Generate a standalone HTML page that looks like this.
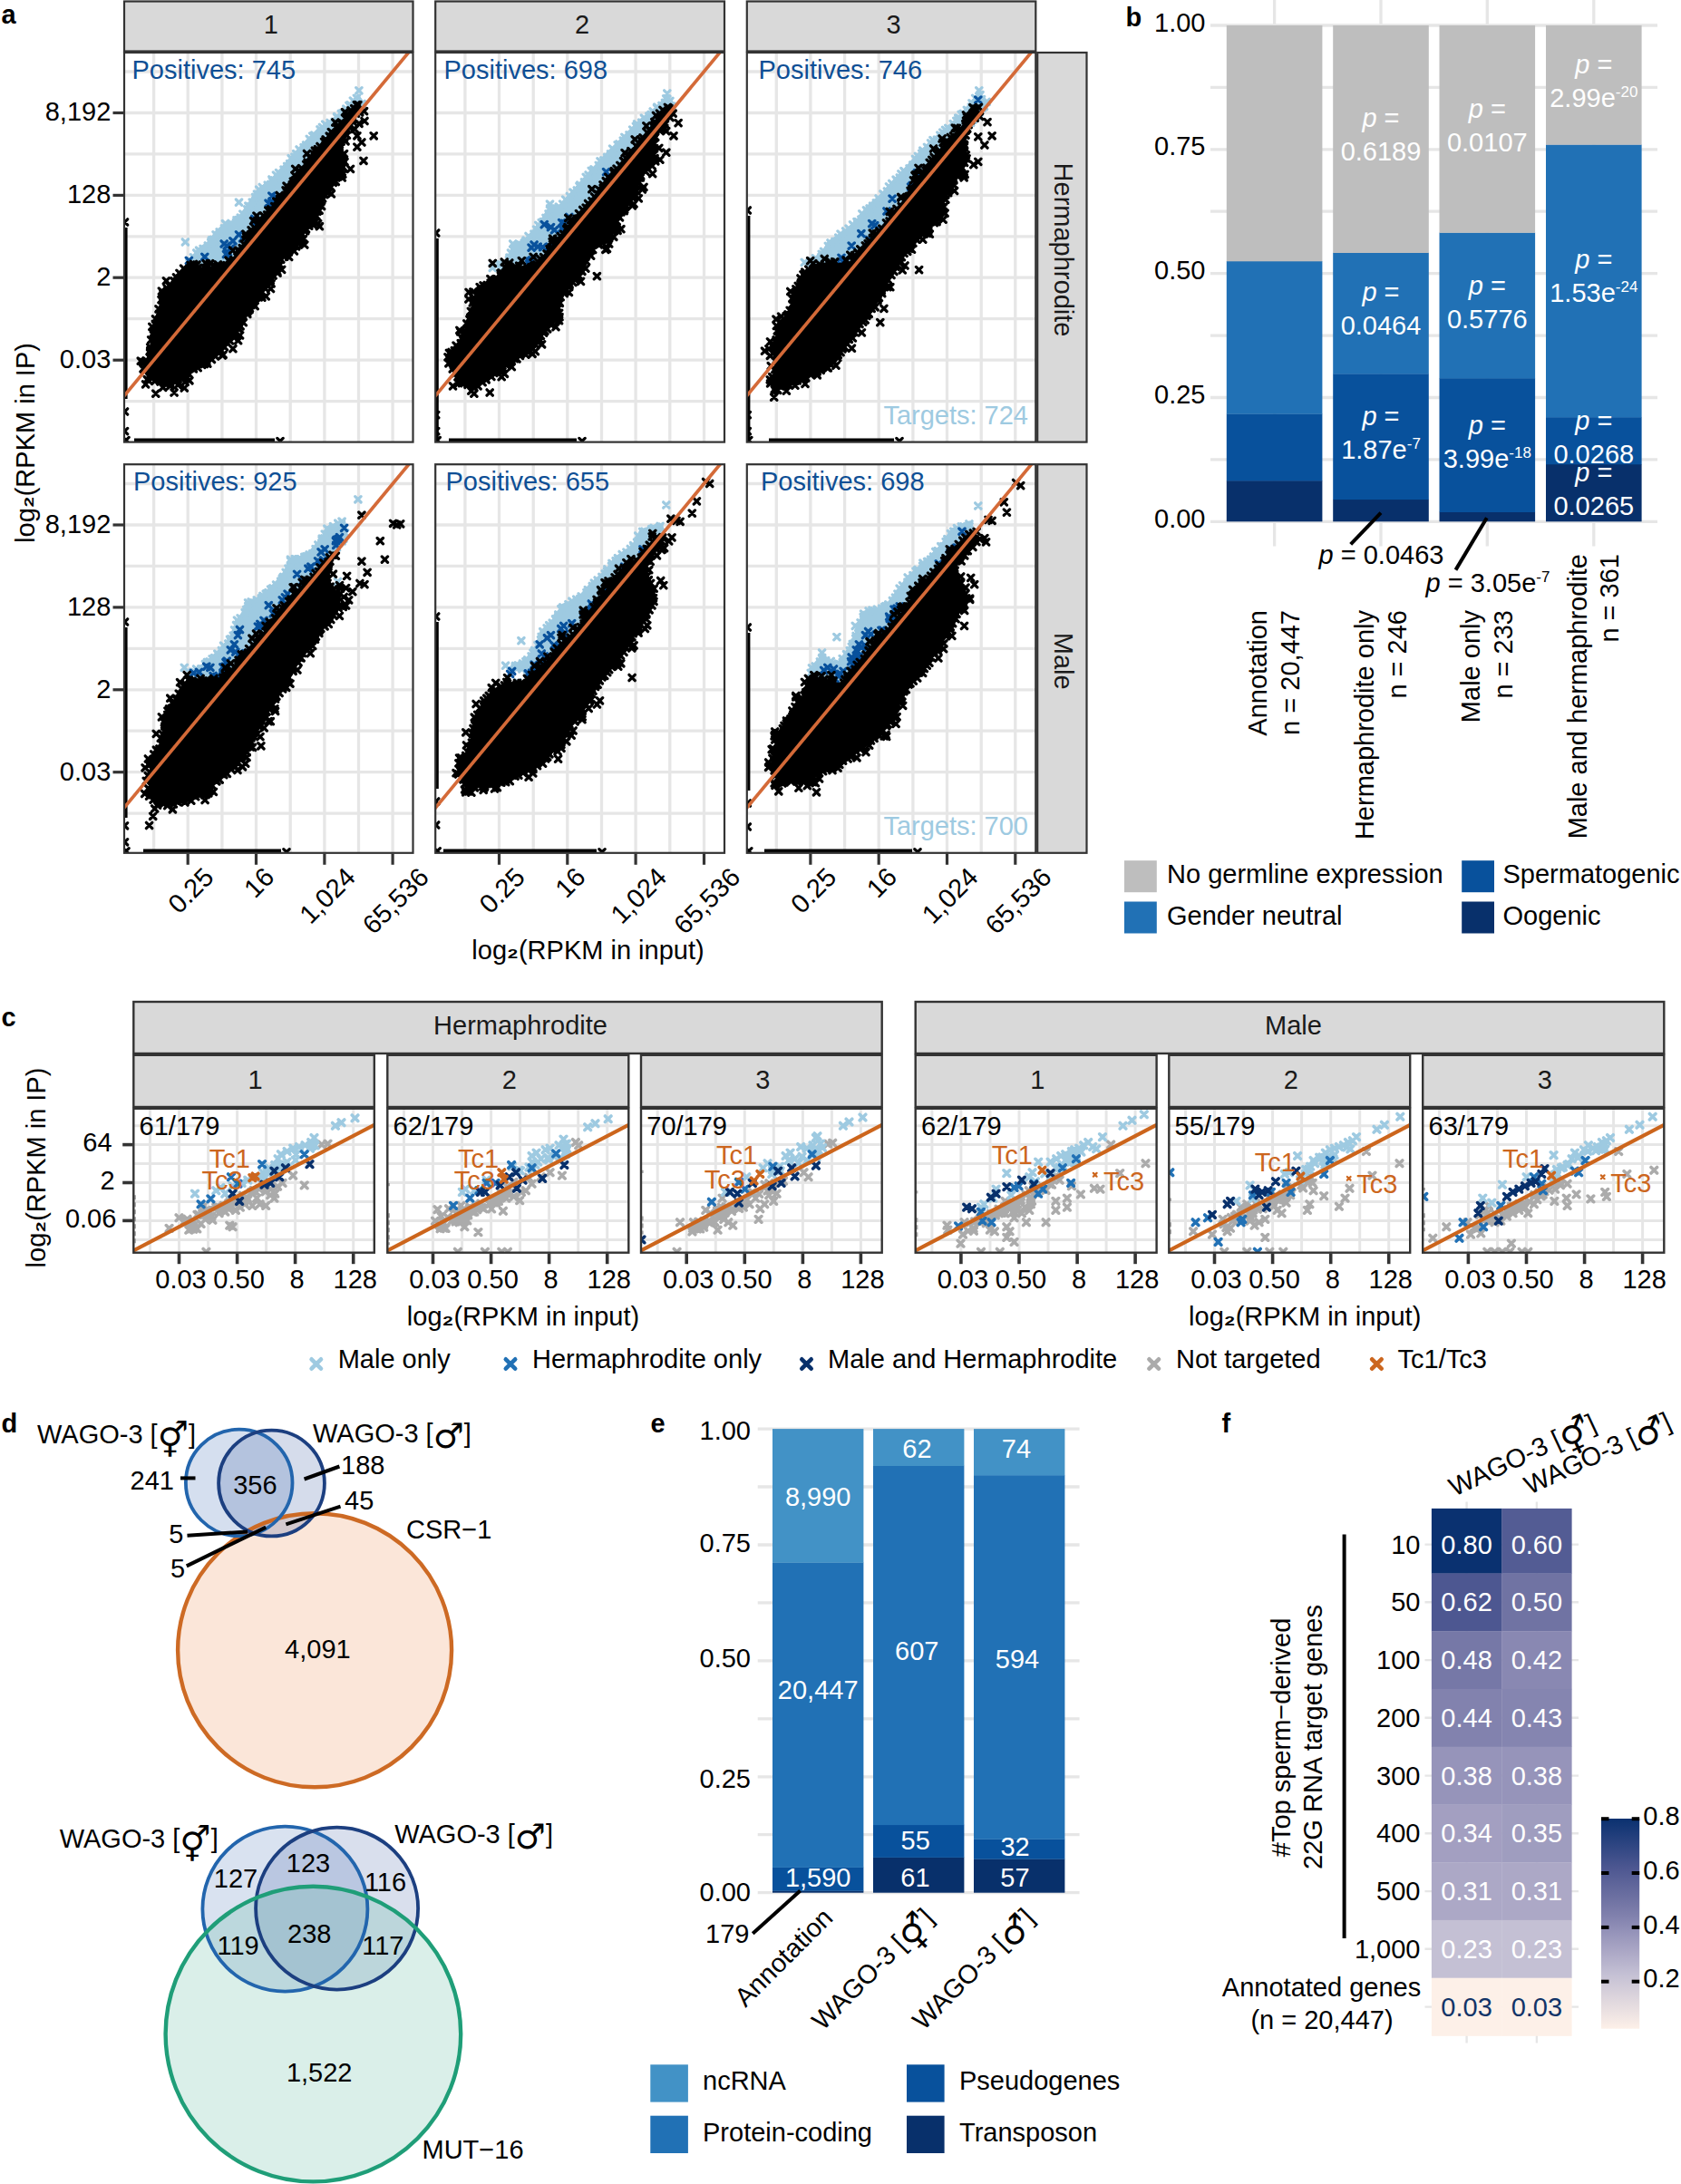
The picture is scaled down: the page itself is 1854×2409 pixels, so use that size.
<!DOCTYPE html><html><head><meta charset="utf-8"><title>Figure</title><style>html,body{margin:0;padding:0;background:#fff}svg{display:block}text{font-family:"Liberation Sans","DejaVu Sans",sans-serif;font-size:29px}</style></head><body><svg width="1854" height="2409" viewBox="0 0 1854 2409"><defs><clipPath id="ca00"><rect x="137" y="58" width="318.5" height="429.6"/></clipPath><clipPath id="ca01"><rect x="137" y="512.2" width="318.5" height="428.6"/></clipPath><clipPath id="ca10"><rect x="480.2" y="58" width="318.8" height="429.6"/></clipPath><clipPath id="ca11"><rect x="480.2" y="512.2" width="318.8" height="428.6"/></clipPath><clipPath id="ca20"><rect x="823.8" y="58" width="318.5" height="429.6"/></clipPath><clipPath id="ca21"><rect x="823.8" y="512.2" width="318.5" height="428.6"/></clipPath></defs><rect x="137" y="1.5" width="318.5" height="55" fill="#d9d9d9" stroke="#333" stroke-width="2.2"/><text x="298.8" y="36.5" text-anchor="middle" fill="#1a1a1a">1</text><rect x="480.2" y="1.5" width="318.8" height="55" fill="#d9d9d9" stroke="#333" stroke-width="2.2"/><text x="642.1" y="36.5" text-anchor="middle" fill="#1a1a1a">2</text><rect x="823.8" y="1.5" width="318.5" height="55" fill="#d9d9d9" stroke="#333" stroke-width="2.2"/><text x="985.5" y="36.5" text-anchor="middle" fill="#1a1a1a">3</text><rect x="1144.2" y="58" width="54.3" height="429.6" fill="#d9d9d9" stroke="#333" stroke-width="2.2"/><text transform="translate(1163 275.5) rotate(90)" text-anchor="middle" fill="#1a1a1a">Hermaphrodite</text><rect x="1144.2" y="512.2" width="54.3" height="428.6" fill="#d9d9d9" stroke="#333" stroke-width="2.2"/><text transform="translate(1163 729.2) rotate(90)" text-anchor="middle" fill="#1a1a1a">Male</text><g clip-path="url(#ca00)"><path d="M137 79H455.5M137 124.5H455.5M137 169.9H455.5M137 215.4H455.5M137 260.8H455.5M137 306.2H455.5M137 351.7H455.5M137 397.2H455.5M137 442.6H455.5" stroke="#e6e6e6" stroke-width="3.3" fill="none"/><path d="M169.6 58V487.6M207.2 58V487.6M244.9 58V487.6M282.5 58V487.6M320.2 58V487.6M357.9 58V487.6M395.5 58V487.6M433.1 58V487.6" stroke="#e6e6e6" stroke-width="3.3" fill="none"/><polygon points="205.4,291.4 217.6,274.1 231.9,263.9 235.9,255.8 248.2,245.6 260.4,241.5 272.6,225.2 280.8,211 299.1,196.7 313.4,180.4 331.7,160 350,141.7 370.4,127.4 384.7,115.2 394.9,103 403.3,115 252.2,297.4" fill="#9ecae1"/><path d="M206.9 284.8l6.4 6.4m0 -6.4l-6.4 6.4M212.5 285.1l6.4 6.4m0 -6.4l-6.4 6.4M216.6 286.6l6.4 6.4m0 -6.4l-6.4 6.4M219.5 287.6l6.4 6.4m0 -6.4l-6.4 6.4M223.9 288l6.4 6.4m0 -6.4l-6.4 6.4M228.5 287.5l6.4 6.4m0 -6.4l-6.4 6.4M234.1 290.4l6.4 6.4m0 -6.4l-6.4 6.4M237.6 289l6.4 6.4m0 -6.4l-6.4 6.4M243.7 291.9l6.4 6.4m0 -6.4l-6.4 6.4M248 290.7l6.4 6.4m0 -6.4l-6.4 6.4M252.2 286.1l6.4 6.4m0 -6.4l-6.4 6.4M254.7 283.3l6.4 6.4m0 -6.4l-6.4 6.4M255.3 279.3l6.4 6.4m0 -6.4l-6.4 6.4M258.8 278l6.4 6.4m0 -6.4l-6.4 6.4M261.3 273.7l6.4 6.4m0 -6.4l-6.4 6.4M265.7 269.5l6.4 6.4m0 -6.4l-6.4 6.4M268.3 265l6.4 6.4m0 -6.4l-6.4 6.4M269.6 262l6.4 6.4m0 -6.4l-6.4 6.4M274.5 259.2l6.4 6.4m0 -6.4l-6.4 6.4M276.3 256.1l6.4 6.4m0 -6.4l-6.4 6.4M279.6 251.7l6.4 6.4m0 -6.4l-6.4 6.4M283.7 249.5l6.4 6.4m0 -6.4l-6.4 6.4M284.8 245.6l6.4 6.4m0 -6.4l-6.4 6.4M288.6 243l6.4 6.4m0 -6.4l-6.4 6.4M292.2 237.6l6.4 6.4m0 -6.4l-6.4 6.4M295.9 233.5l6.4 6.4m0 -6.4l-6.4 6.4M297 232.1l6.4 6.4m0 -6.4l-6.4 6.4M299.1 227.7l6.4 6.4m0 -6.4l-6.4 6.4M301.6 224.7l6.4 6.4m0 -6.4l-6.4 6.4M306.9 220.9l6.4 6.4m0 -6.4l-6.4 6.4M310.1 216.6l6.4 6.4m0 -6.4l-6.4 6.4M312.5 214l6.4 6.4m0 -6.4l-6.4 6.4M315 210l6.4 6.4m0 -6.4l-6.4 6.4M318.8 208l6.4 6.4m0 -6.4l-6.4 6.4M320.5 203.6l6.4 6.4m0 -6.4l-6.4 6.4M322.1 200.2l6.4 6.4m0 -6.4l-6.4 6.4M326.9 197.6l6.4 6.4m0 -6.4l-6.4 6.4M330.4 191.9l6.4 6.4m0 -6.4l-6.4 6.4M331.9 189.6l6.4 6.4m0 -6.4l-6.4 6.4M333.6 185.4l6.4 6.4m0 -6.4l-6.4 6.4M337 180.8l6.4 6.4m0 -6.4l-6.4 6.4M339.6 179.3l6.4 6.4m0 -6.4l-6.4 6.4M342.7 174.1l6.4 6.4m0 -6.4l-6.4 6.4M346.5 172.6l6.4 6.4m0 -6.4l-6.4 6.4M348.4 167.8l6.4 6.4m0 -6.4l-6.4 6.4M352.8 165.6l6.4 6.4m0 -6.4l-6.4 6.4M356.6 162l6.4 6.4m0 -6.4l-6.4 6.4M357.8 157.1l6.4 6.4m0 -6.4l-6.4 6.4M360.9 155.1l6.4 6.4m0 -6.4l-6.4 6.4M365.8 149.2l6.4 6.4m0 -6.4l-6.4 6.4M366.2 146l6.4 6.4m0 -6.4l-6.4 6.4M369.3 143.2l6.4 6.4m0 -6.4l-6.4 6.4M373.3 139l6.4 6.4m0 -6.4l-6.4 6.4M374.4 136l6.4 6.4m0 -6.4l-6.4 6.4M378.5 133l6.4 6.4m0 -6.4l-6.4 6.4M383.3 129.8l6.4 6.4m0 -6.4l-6.4 6.4M384.8 126.1l6.4 6.4m0 -6.4l-6.4 6.4M388.2 120.8l6.4 6.4m0 -6.4l-6.4 6.4M391.8 119.6l6.4 6.4m0 -6.4l-6.4 6.4M394.7 116.1l6.4 6.4m0 -6.4l-6.4 6.4M396 111.3l6.4 6.4m0 -6.4l-6.4 6.4M390.2 105.1l6.4 6.4m0 -6.4l-6.4 6.4M386.2 107.9l6.4 6.4m0 -6.4l-6.4 6.4M382.9 112.8l6.4 6.4m0 -6.4l-6.4 6.4M383.1 112.7l6.4 6.4m0 -6.4l-6.4 6.4M381.8 113.2l6.4 6.4m0 -6.4l-6.4 6.4M378.6 116.9l6.4 6.4m0 -6.4l-6.4 6.4M374.8 121.6l6.4 6.4m0 -6.4l-6.4 6.4M373.1 122.3l6.4 6.4m0 -6.4l-6.4 6.4M368.4 126l6.4 6.4m0 -6.4l-6.4 6.4M368.5 125.5l6.4 6.4m0 -6.4l-6.4 6.4M366 131.1l6.4 6.4m0 -6.4l-6.4 6.4M360.8 132.3l6.4 6.4m0 -6.4l-6.4 6.4M355.5 133.9l6.4 6.4m0 -6.4l-6.4 6.4M352.3 137.2l6.4 6.4m0 -6.4l-6.4 6.4M349.8 139.7l6.4 6.4m0 -6.4l-6.4 6.4M343.6 145.9l6.4 6.4m0 -6.4l-6.4 6.4M341.6 146.9l6.4 6.4m0 -6.4l-6.4 6.4M338.1 150.1l6.4 6.4m0 -6.4l-6.4 6.4M334.4 156.8l6.4 6.4m0 -6.4l-6.4 6.4M331.9 159.5l6.4 6.4m0 -6.4l-6.4 6.4M326.9 161.8l6.4 6.4m0 -6.4l-6.4 6.4M323.5 166.5l6.4 6.4m0 -6.4l-6.4 6.4M321.7 169.9l6.4 6.4m0 -6.4l-6.4 6.4M318 171.5l6.4 6.4m0 -6.4l-6.4 6.4M316.5 177.4l6.4 6.4m0 -6.4l-6.4 6.4M313.5 180.2l6.4 6.4m0 -6.4l-6.4 6.4M309.9 184l6.4 6.4m0 -6.4l-6.4 6.4M304.4 187.4l6.4 6.4m0 -6.4l-6.4 6.4M301.3 189.9l6.4 6.4m0 -6.4l-6.4 6.4M296.7 194.8l6.4 6.4m0 -6.4l-6.4 6.4M297.2 196.3l6.4 6.4m0 -6.4l-6.4 6.4M299.2 195.7l6.4 6.4m0 -6.4l-6.4 6.4M295.6 200.2l6.4 6.4m0 -6.4l-6.4 6.4M292.1 201l6.4 6.4m0 -6.4l-6.4 6.4M286.1 203.3l6.4 6.4m0 -6.4l-6.4 6.4M282.5 206l6.4 6.4m0 -6.4l-6.4 6.4M280.3 211l6.4 6.4m0 -6.4l-6.4 6.4M278.4 214.3l6.4 6.4m0 -6.4l-6.4 6.4M275.1 219.9l6.4 6.4m0 -6.4l-6.4 6.4M270.7 224l6.4 6.4m0 -6.4l-6.4 6.4M273.1 224.7l6.4 6.4m0 -6.4l-6.4 6.4M269.6 227.8l6.4 6.4m0 -6.4l-6.4 6.4M264.7 232.9l6.4 6.4m0 -6.4l-6.4 6.4M262.1 237l6.4 6.4m0 -6.4l-6.4 6.4M261.1 239.8l6.4 6.4m0 -6.4l-6.4 6.4M259.1 241.8l6.4 6.4m0 -6.4l-6.4 6.4M259.9 239.5l6.4 6.4m0 -6.4l-6.4 6.4M257.8 239.6l6.4 6.4m0 -6.4l-6.4 6.4M260 241.9l6.4 6.4m0 -6.4l-6.4 6.4M257.3 242.1l6.4 6.4m0 -6.4l-6.4 6.4M259.7 241.7l6.4 6.4m0 -6.4l-6.4 6.4M251.8 243.3l6.4 6.4m0 -6.4l-6.4 6.4M245.3 243.5l6.4 6.4m0 -6.4l-6.4 6.4M244.2 248.7l6.4 6.4m0 -6.4l-6.4 6.4M239 252.7l6.4 6.4m0 -6.4l-6.4 6.4M234.9 255.7l6.4 6.4m0 -6.4l-6.4 6.4M232.4 261.2l6.4 6.4m0 -6.4l-6.4 6.4M230.4 261.7l6.4 6.4m0 -6.4l-6.4 6.4M230.2 262.8l6.4 6.4m0 -6.4l-6.4 6.4M230.1 262.5l6.4 6.4m0 -6.4l-6.4 6.4M229.5 264.3l6.4 6.4m0 -6.4l-6.4 6.4M230 263l6.4 6.4m0 -6.4l-6.4 6.4M226.1 267.8l6.4 6.4m0 -6.4l-6.4 6.4M220.9 271.1l6.4 6.4m0 -6.4l-6.4 6.4M216.6 273.2l6.4 6.4m0 -6.4l-6.4 6.4M213.6 275.8l6.4 6.4m0 -6.4l-6.4 6.4M210.3 280.6l6.4 6.4m0 -6.4l-6.4 6.4M205.9 286.9l6.4 6.4m0 -6.4l-6.4 6.4M201.2 263.8l6.4 6.4m0 -6.4l-6.4 6.4M260.3 220l6.4 6.4m0 -6.4l-6.4 6.4M392.7 96.7l6.4 6.4m0 -6.4l-6.4 6.4M216.4 273l6.4 6.4m0 -6.4l-6.4 6.4M275.5 277l6.4 6.4m0 -6.4l-6.4 6.4M269.4 287.2l6.4 6.4m0 -6.4l-6.4 6.4" stroke="#9ecae1" stroke-width="3.2" stroke-linecap="round" fill="none"/><path d="M205.2 284.2l6.4 6.4m0 -6.4l-6.4 6.4M222.6 280.1l6.4 6.4m0 -6.4l-6.4 6.4M247 267.9l6.4 6.4m0 -6.4l-6.4 6.4M251.1 270.9l6.4 6.4m0 -6.4l-6.4 6.4M244 265.8l6.4 6.4m0 -6.4l-6.4 6.4M260.3 255.6l6.4 6.4m0 -6.4l-6.4 6.4M277.6 238.3l6.4 6.4m0 -6.4l-6.4 6.4M295.9 222l6.4 6.4m0 -6.4l-6.4 6.4M292.9 221l6.4 6.4m0 -6.4l-6.4 6.4M253.7 262.6l6.4 6.4m0 -6.4l-6.4 6.4M230.8 294.8l6.4 6.4m0 -6.4l-6.4 6.4M248.2 275l6.4 6.4m0 -6.4l-6.4 6.4M235.8 295.8l6.4 6.4m0 -6.4l-6.4 6.4M246.3 277.3l6.4 6.4m0 -6.4l-6.4 6.4M264.4 259.7l6.4 6.4m0 -6.4l-6.4 6.4M300.7 214.4l6.4 6.4m0 -6.4l-6.4 6.4M278.8 246.7l6.4 6.4m0 -6.4l-6.4 6.4M296.6 212.9l6.4 6.4m0 -6.4l-6.4 6.4" stroke="#08519c" stroke-width="3.2" stroke-linecap="round" fill="none"/><polygon points="156.7,408.3 162,415.3 171.6,423 182.9,424.9 196.5,421 210.4,413 224.6,402.9 224.7,402.9 242.8,390.8 258.8,372.7 270.8,354.7 274.8,342.8 274.9,342.6 275,342.4 275.1,342.2 289.4,323.8 303.3,305.9 305.3,292.2 305.3,292 305.4,291.8 305.4,291.6 305.5,291.5 305.6,291.3 305.8,291.1 305.9,291 306,290.9 324.1,276.8 338.2,254.7 338.3,254.5 338.4,254.4 338.6,254.3 350.2,244.5 352.2,233 352.2,232.9 352.3,232.7 352.3,232.5 362.5,212.1 362.6,211.9 362.7,211.7 378.8,191.7 382.5,178.6 374.8,165.1 374.7,164.9 374.6,164.7 374.6,164.5 374.5,164.3 374.5,164.1 374.5,163.9 374.6,163.7 374.6,163.5 374.7,163.3 374.8,163.1 384.9,144.9 398.5,115.8 393.2,111.9 376.1,134.7 375.9,135 355.6,155.2 341.4,173.5 341.4,173.5 325.2,193.8 308.9,218.2 308.8,218.3 308.7,218.5 292.4,234.7 274.3,256.9 264.2,277.1 264.1,277.2 264,277.4 263.9,277.6 263.7,277.7 245.4,293 245.2,293.1 245.1,293.2 244.9,293.3 244.7,293.3 244.6,293.4 244.4,293.4 244.2,293.4 202.1,295.4 192.6,304 180.7,321.9 175.7,335.9 167.6,360.1 164.6,386.4 164.5,386.6 164.5,386.9 156.7,408.3" fill="#000"/><path d="M156.4 405.1l6.4 6.4m0 -6.4l-6.4 6.4M161.3 411.6l6.4 6.4m0 -6.4l-6.4 6.4M165.2 413.7l6.4 6.4m0 -6.4l-6.4 6.4M167.5 417.1l6.4 6.4m0 -6.4l-6.4 6.4M173.8 417.8l6.4 6.4m0 -6.4l-6.4 6.4M180.7 420.3l6.4 6.4m0 -6.4l-6.4 6.4M184.4 419.2l6.4 6.4m0 -6.4l-6.4 6.4M188.9 417.5l6.4 6.4m0 -6.4l-6.4 6.4M190.9 417.3l6.4 6.4m0 -6.4l-6.4 6.4M198 413.7l6.4 6.4m0 -6.4l-6.4 6.4M201.9 411.6l6.4 6.4m0 -6.4l-6.4 6.4M204.9 409.3l6.4 6.4m0 -6.4l-6.4 6.4M210.2 403.7l6.4 6.4m0 -6.4l-6.4 6.4M215 402.5l6.4 6.4m0 -6.4l-6.4 6.4M219.5 399.2l6.4 6.4m0 -6.4l-6.4 6.4M222.2 398.3l6.4 6.4m0 -6.4l-6.4 6.4M224.7 395.3l6.4 6.4m0 -6.4l-6.4 6.4M230.2 393.3l6.4 6.4m0 -6.4l-6.4 6.4M234.4 389.8l6.4 6.4m0 -6.4l-6.4 6.4M237.1 385.2l6.4 6.4m0 -6.4l-6.4 6.4M240.8 383.6l6.4 6.4m0 -6.4l-6.4 6.4M244.2 379.5l6.4 6.4m0 -6.4l-6.4 6.4M246.4 374.2l6.4 6.4m0 -6.4l-6.4 6.4M250.4 372.7l6.4 6.4m0 -6.4l-6.4 6.4M255 369.2l6.4 6.4m0 -6.4l-6.4 6.4M256.6 364.2l6.4 6.4m0 -6.4l-6.4 6.4M260.1 359.6l6.4 6.4m0 -6.4l-6.4 6.4M261.9 356.6l6.4 6.4m0 -6.4l-6.4 6.4M265.1 352.5l6.4 6.4m0 -6.4l-6.4 6.4M269.6 343.3l6.4 6.4m0 -6.4l-6.4 6.4M269.9 340.1l6.4 6.4m0 -6.4l-6.4 6.4M271.8 338.5l6.4 6.4m0 -6.4l-6.4 6.4M269.6 337.3l6.4 6.4m0 -6.4l-6.4 6.4M272.2 337l6.4 6.4m0 -6.4l-6.4 6.4M273.8 333.1l6.4 6.4m0 -6.4l-6.4 6.4M276.4 332.2l6.4 6.4m0 -6.4l-6.4 6.4M278 328.1l6.4 6.4m0 -6.4l-6.4 6.4M282.1 324.6l6.4 6.4m0 -6.4l-6.4 6.4M285.6 318.7l6.4 6.4m0 -6.4l-6.4 6.4M289.7 315.2l6.4 6.4m0 -6.4l-6.4 6.4M290.1 309.2l6.4 6.4m0 -6.4l-6.4 6.4M295.1 306.3l6.4 6.4m0 -6.4l-6.4 6.4M297.9 300.8l6.4 6.4m0 -6.4l-6.4 6.4M299 294.8l6.4 6.4m0 -6.4l-6.4 6.4M301.7 287.1l6.4 6.4m0 -6.4l-6.4 6.4M301.4 289.6l6.4 6.4m0 -6.4l-6.4 6.4M299.4 289.5l6.4 6.4m0 -6.4l-6.4 6.4M301.5 289.1l6.4 6.4m0 -6.4l-6.4 6.4M300.2 287l6.4 6.4m0 -6.4l-6.4 6.4M300.8 288.9l6.4 6.4m0 -6.4l-6.4 6.4M301.7 286.4l6.4 6.4m0 -6.4l-6.4 6.4M301.3 285.9l6.4 6.4m0 -6.4l-6.4 6.4M300.3 285.1l6.4 6.4m0 -6.4l-6.4 6.4M306.6 282.9l6.4 6.4m0 -6.4l-6.4 6.4M310.5 280l6.4 6.4m0 -6.4l-6.4 6.4M311.8 278.1l6.4 6.4m0 -6.4l-6.4 6.4M315.1 274.9l6.4 6.4m0 -6.4l-6.4 6.4M321.2 273.8l6.4 6.4m0 -6.4l-6.4 6.4M323.5 268.6l6.4 6.4m0 -6.4l-6.4 6.4M326.7 265.3l6.4 6.4m0 -6.4l-6.4 6.4M328.2 260.2l6.4 6.4m0 -6.4l-6.4 6.4M329.3 255.8l6.4 6.4m0 -6.4l-6.4 6.4M333.5 251.5l6.4 6.4m0 -6.4l-6.4 6.4M334.3 249.6l6.4 6.4m0 -6.4l-6.4 6.4M332.6 251.5l6.4 6.4m0 -6.4l-6.4 6.4M333.1 249.7l6.4 6.4m0 -6.4l-6.4 6.4M337.6 246l6.4 6.4m0 -6.4l-6.4 6.4M342.6 245.2l6.4 6.4m0 -6.4l-6.4 6.4M344.7 241l6.4 6.4m0 -6.4l-6.4 6.4M345.8 235.2l6.4 6.4m0 -6.4l-6.4 6.4M347 228.5l6.4 6.4m0 -6.4l-6.4 6.4M346.3 228.2l6.4 6.4m0 -6.4l-6.4 6.4M348.9 228.9l6.4 6.4m0 -6.4l-6.4 6.4M346.8 229.9l6.4 6.4m0 -6.4l-6.4 6.4M351.4 224.3l6.4 6.4m0 -6.4l-6.4 6.4M350.6 219.4l6.4 6.4m0 -6.4l-6.4 6.4M352.4 215.8l6.4 6.4m0 -6.4l-6.4 6.4M354.5 211.4l6.4 6.4m0 -6.4l-6.4 6.4M357.1 208.4l6.4 6.4m0 -6.4l-6.4 6.4M359.4 208.7l6.4 6.4m0 -6.4l-6.4 6.4M358 207.3l6.4 6.4m0 -6.4l-6.4 6.4M361.6 203.2l6.4 6.4m0 -6.4l-6.4 6.4M364.1 198.1l6.4 6.4m0 -6.4l-6.4 6.4M367.1 197.3l6.4 6.4m0 -6.4l-6.4 6.4M369.7 191.7l6.4 6.4m0 -6.4l-6.4 6.4M374.6 189l6.4 6.4m0 -6.4l-6.4 6.4M374.9 180.9l6.4 6.4m0 -6.4l-6.4 6.4M376.8 175.3l6.4 6.4m0 -6.4l-6.4 6.4M375 172.9l6.4 6.4m0 -6.4l-6.4 6.4M373.9 168.3l6.4 6.4m0 -6.4l-6.4 6.4M368.6 161.1l6.4 6.4m0 -6.4l-6.4 6.4M370.8 163.7l6.4 6.4m0 -6.4l-6.4 6.4M369.8 162.3l6.4 6.4m0 -6.4l-6.4 6.4M368.1 161.3l6.4 6.4m0 -6.4l-6.4 6.4M371.2 162.4l6.4 6.4m0 -6.4l-6.4 6.4M370.9 162.5l6.4 6.4m0 -6.4l-6.4 6.4M368.9 159.2l6.4 6.4m0 -6.4l-6.4 6.4M368.6 160.3l6.4 6.4m0 -6.4l-6.4 6.4M370.5 161.3l6.4 6.4m0 -6.4l-6.4 6.4M370.8 160l6.4 6.4m0 -6.4l-6.4 6.4M371.1 159l6.4 6.4m0 -6.4l-6.4 6.4M372.9 153l6.4 6.4m0 -6.4l-6.4 6.4M376.2 149.1l6.4 6.4m0 -6.4l-6.4 6.4M379.2 146l6.4 6.4m0 -6.4l-6.4 6.4M379.6 139.7l6.4 6.4m0 -6.4l-6.4 6.4M381.6 136.8l6.4 6.4m0 -6.4l-6.4 6.4M385.3 130.3l6.4 6.4m0 -6.4l-6.4 6.4M385.3 127.1l6.4 6.4m0 -6.4l-6.4 6.4M389.2 122l6.4 6.4m0 -6.4l-6.4 6.4M390.2 118.1l6.4 6.4m0 -6.4l-6.4 6.4M391.6 112.5l6.4 6.4m0 -6.4l-6.4 6.4M390.2 112.5l6.4 6.4m0 -6.4l-6.4 6.4M387.6 116.5l6.4 6.4m0 -6.4l-6.4 6.4M383.8 118.7l6.4 6.4m0 -6.4l-6.4 6.4M379.8 125.4l6.4 6.4m0 -6.4l-6.4 6.4M378.1 127.5l6.4 6.4m0 -6.4l-6.4 6.4M372.6 132.5l6.4 6.4m0 -6.4l-6.4 6.4M374.4 132.6l6.4 6.4m0 -6.4l-6.4 6.4M369.6 136.8l6.4 6.4m0 -6.4l-6.4 6.4M368.6 138.7l6.4 6.4m0 -6.4l-6.4 6.4M362.2 142.4l6.4 6.4m0 -6.4l-6.4 6.4M360.1 147l6.4 6.4m0 -6.4l-6.4 6.4M356 150.7l6.4 6.4m0 -6.4l-6.4 6.4M354.4 153.1l6.4 6.4m0 -6.4l-6.4 6.4M349.8 158.3l6.4 6.4m0 -6.4l-6.4 6.4M347.3 161.5l6.4 6.4m0 -6.4l-6.4 6.4M344.2 163l6.4 6.4m0 -6.4l-6.4 6.4M343.2 166.9l6.4 6.4m0 -6.4l-6.4 6.4M341 171.2l6.4 6.4m0 -6.4l-6.4 6.4M338.4 170.4l6.4 6.4m0 -6.4l-6.4 6.4M336 175.9l6.4 6.4m0 -6.4l-6.4 6.4M334.5 178.2l6.4 6.4m0 -6.4l-6.4 6.4M329.4 182.5l6.4 6.4m0 -6.4l-6.4 6.4M328.1 186.3l6.4 6.4m0 -6.4l-6.4 6.4M321.7 190.1l6.4 6.4m0 -6.4l-6.4 6.4M320.2 197l6.4 6.4m0 -6.4l-6.4 6.4M319.2 200.4l6.4 6.4m0 -6.4l-6.4 6.4M316.9 205.2l6.4 6.4m0 -6.4l-6.4 6.4M311.9 206.7l6.4 6.4m0 -6.4l-6.4 6.4M311.2 212.7l6.4 6.4m0 -6.4l-6.4 6.4M305.5 216.4l6.4 6.4m0 -6.4l-6.4 6.4M306.4 215.7l6.4 6.4m0 -6.4l-6.4 6.4M306 215.3l6.4 6.4m0 -6.4l-6.4 6.4M301.7 218.9l6.4 6.4m0 -6.4l-6.4 6.4M299.6 224.4l6.4 6.4m0 -6.4l-6.4 6.4M295.6 227.7l6.4 6.4m0 -6.4l-6.4 6.4M292.7 228.9l6.4 6.4m0 -6.4l-6.4 6.4M291.5 233.7l6.4 6.4m0 -6.4l-6.4 6.4M287.2 234.7l6.4 6.4m0 -6.4l-6.4 6.4M284.4 239.5l6.4 6.4m0 -6.4l-6.4 6.4M282.9 242.5l6.4 6.4m0 -6.4l-6.4 6.4M278 248.6l6.4 6.4m0 -6.4l-6.4 6.4M273.9 250.6l6.4 6.4m0 -6.4l-6.4 6.4M273.5 255.5l6.4 6.4m0 -6.4l-6.4 6.4M268.4 258l6.4 6.4m0 -6.4l-6.4 6.4M266 266l6.4 6.4m0 -6.4l-6.4 6.4M264.1 270.4l6.4 6.4m0 -6.4l-6.4 6.4M263.8 274l6.4 6.4m0 -6.4l-6.4 6.4M261.5 276.5l6.4 6.4m0 -6.4l-6.4 6.4M262.5 274.4l6.4 6.4m0 -6.4l-6.4 6.4M262.6 274.9l6.4 6.4m0 -6.4l-6.4 6.4M260.8 274l6.4 6.4m0 -6.4l-6.4 6.4M258.7 280.2l6.4 6.4m0 -6.4l-6.4 6.4M254.7 283.3l6.4 6.4m0 -6.4l-6.4 6.4M248.9 284l6.4 6.4m0 -6.4l-6.4 6.4M246.8 289.5l6.4 6.4m0 -6.4l-6.4 6.4M244.7 290.6l6.4 6.4m0 -6.4l-6.4 6.4M242.1 291l6.4 6.4m0 -6.4l-6.4 6.4M242.6 292.8l6.4 6.4m0 -6.4l-6.4 6.4M241.3 292.6l6.4 6.4m0 -6.4l-6.4 6.4M242.9 292.8l6.4 6.4m0 -6.4l-6.4 6.4M242.7 292.1l6.4 6.4m0 -6.4l-6.4 6.4M240.8 291.2l6.4 6.4m0 -6.4l-6.4 6.4M240.6 292.8l6.4 6.4m0 -6.4l-6.4 6.4M235 291l6.4 6.4m0 -6.4l-6.4 6.4M232.7 291.4l6.4 6.4m0 -6.4l-6.4 6.4M225.8 290.9l6.4 6.4m0 -6.4l-6.4 6.4M222.8 292.1l6.4 6.4m0 -6.4l-6.4 6.4M219.6 294.2l6.4 6.4m0 -6.4l-6.4 6.4M215.1 292.4l6.4 6.4m0 -6.4l-6.4 6.4M207.4 292l6.4 6.4m0 -6.4l-6.4 6.4M204.2 294.3l6.4 6.4m0 -6.4l-6.4 6.4M199.4 292.9l6.4 6.4m0 -6.4l-6.4 6.4M194.8 298.2l6.4 6.4m0 -6.4l-6.4 6.4M191.3 302.7l6.4 6.4m0 -6.4l-6.4 6.4M188.9 306.8l6.4 6.4m0 -6.4l-6.4 6.4M183.5 311.8l6.4 6.4m0 -6.4l-6.4 6.4M181.2 315.2l6.4 6.4m0 -6.4l-6.4 6.4M178.5 320.2l6.4 6.4m0 -6.4l-6.4 6.4M176.3 323.2l6.4 6.4m0 -6.4l-6.4 6.4M174.8 327.4l6.4 6.4m0 -6.4l-6.4 6.4M175.3 333.5l6.4 6.4m0 -6.4l-6.4 6.4M171.8 337.7l6.4 6.4m0 -6.4l-6.4 6.4M172.5 342.9l6.4 6.4m0 -6.4l-6.4 6.4M168.3 348.7l6.4 6.4m0 -6.4l-6.4 6.4M168.1 354.1l6.4 6.4m0 -6.4l-6.4 6.4M164.6 357.2l6.4 6.4m0 -6.4l-6.4 6.4M166.5 363.7l6.4 6.4m0 -6.4l-6.4 6.4M166.2 366.2l6.4 6.4m0 -6.4l-6.4 6.4M163.5 371.7l6.4 6.4m0 -6.4l-6.4 6.4M162.5 379.8l6.4 6.4m0 -6.4l-6.4 6.4M163.3 384.9l6.4 6.4m0 -6.4l-6.4 6.4M162.5 385.1l6.4 6.4m0 -6.4l-6.4 6.4M162.6 383.4l6.4 6.4m0 -6.4l-6.4 6.4M161.9 390.9l6.4 6.4m0 -6.4l-6.4 6.4M157.7 394.8l6.4 6.4m0 -6.4l-6.4 6.4M157.6 398.7l6.4 6.4m0 -6.4l-6.4 6.4M154.9 403.6l6.4 6.4m0 -6.4l-6.4 6.4M202.3 413.8l6.4 6.4m0 -6.4l-6.4 6.4M312.9 202l6.4 6.4m0 -6.4l-6.4 6.4M259.4 372.5l6.4 6.4m0 -6.4l-6.4 6.4M253.7 381.5l6.4 6.4m0 -6.4l-6.4 6.4M290.1 323.7l6.4 6.4m0 -6.4l-6.4 6.4M392.8 133.1l6.4 6.4m0 -6.4l-6.4 6.4M261.4 366.7l6.4 6.4m0 -6.4l-6.4 6.4M347.4 243.4l6.4 6.4m0 -6.4l-6.4 6.4M279.8 234.9l6.4 6.4m0 -6.4l-6.4 6.4M376.3 166.4l6.4 6.4m0 -6.4l-6.4 6.4M335.3 166.3l6.4 6.4m0 -6.4l-6.4 6.4M155.2 396.5l6.4 6.4m0 -6.4l-6.4 6.4M225.6 398l6.4 6.4m0 -6.4l-6.4 6.4M253.5 273l6.4 6.4m0 -6.4l-6.4 6.4M383.3 183.2l6.4 6.4m0 -6.4l-6.4 6.4M302.9 297.9l6.4 6.4m0 -6.4l-6.4 6.4M366.6 131.8l6.4 6.4m0 -6.4l-6.4 6.4M193 421.4l6.4 6.4m0 -6.4l-6.4 6.4M205.7 416.6l6.4 6.4m0 -6.4l-6.4 6.4M237.2 288.6l6.4 6.4m0 -6.4l-6.4 6.4M201 418.2l6.4 6.4m0 -6.4l-6.4 6.4M349.2 246.5l6.4 6.4m0 -6.4l-6.4 6.4M305.4 288.8l6.4 6.4m0 -6.4l-6.4 6.4M295.9 309.6l6.4 6.4m0 -6.4l-6.4 6.4M184.6 422.5l6.4 6.4m0 -6.4l-6.4 6.4M331 265.3l6.4 6.4m0 -6.4l-6.4 6.4M393.5 120.6l6.4 6.4m0 -6.4l-6.4 6.4M159.2 415.5l6.4 6.4m0 -6.4l-6.4 6.4M276.4 240.4l6.4 6.4m0 -6.4l-6.4 6.4M388 139.2l6.4 6.4m0 -6.4l-6.4 6.4M224 287.5l6.4 6.4m0 -6.4l-6.4 6.4M210.3 288.2l6.4 6.4m0 -6.4l-6.4 6.4M305.1 212.3l6.4 6.4m0 -6.4l-6.4 6.4M213.8 288.8l6.4 6.4m0 -6.4l-6.4 6.4M374.1 192.8l6.4 6.4m0 -6.4l-6.4 6.4M242.1 388.8l6.4 6.4m0 -6.4l-6.4 6.4M302.6 296.3l6.4 6.4m0 -6.4l-6.4 6.4M206.9 289.3l6.4 6.4m0 -6.4l-6.4 6.4M315.5 280.2l6.4 6.4m0 -6.4l-6.4 6.4M377.8 152.6l6.4 6.4m0 -6.4l-6.4 6.4M307.5 294.2l6.4 6.4m0 -6.4l-6.4 6.4M377.3 120.5l6.4 6.4m0 -6.4l-6.4 6.4M331.1 260.5l6.4 6.4m0 -6.4l-6.4 6.4M362.2 210.7l6.4 6.4m0 -6.4l-6.4 6.4M278 334.4l6.4 6.4m0 -6.4l-6.4 6.4M303.3 290.5l6.4 6.4m0 -6.4l-6.4 6.4M176.5 424.1l6.4 6.4m0 -6.4l-6.4 6.4M295.3 315.3l6.4 6.4m0 -6.4l-6.4 6.4M267.8 255l6.4 6.4m0 -6.4l-6.4 6.4M180.2 306.6l6.4 6.4m0 -6.4l-6.4 6.4M152.1 395l6.4 6.4m0 -6.4l-6.4 6.4M322.5 183.2l6.4 6.4m0 -6.4l-6.4 6.4M175.2 317.9l6.4 6.4m0 -6.4l-6.4 6.4M228.4 287.4l6.4 6.4m0 -6.4l-6.4 6.4M398.3 119.5l6.4 6.4m0 -6.4l-6.4 6.4M398.8 130.3l6.4 6.4m0 -6.4l-6.4 6.4M390.7 146.6l6.4 6.4m0 -6.4l-6.4 6.4M409 146.6l6.4 6.4m0 -6.4l-6.4 6.4M395.7 153.8l6.4 6.4m0 -6.4l-6.4 6.4M390.7 158.9l6.4 6.4m0 -6.4l-6.4 6.4M397.8 174.1l6.4 6.4m0 -6.4l-6.4 6.4M332.6 266.8l6.4 6.4m0 -6.4l-6.4 6.4M285.7 324.9l6.4 6.4m0 -6.4l-6.4 6.4M242.9 388.1l6.4 6.4m0 -6.4l-6.4 6.4M168.6 430.9l6.4 6.4m0 -6.4l-6.4 6.4M188.9 429.8l6.4 6.4m0 -6.4l-6.4 6.4M200.1 424.8l6.4 6.4m0 -6.4l-6.4 6.4M157.4 420.7l6.4 6.4m0 -6.4l-6.4 6.4M176.7 320.8l6.4 6.4m0 -6.4l-6.4 6.4M154.3 396.2l6.4 6.4m0 -6.4l-6.4 6.4" stroke="#000" stroke-width="3.2" stroke-linecap="round" fill="none"/><line x1="138.6" y1="251" x2="138.6" y2="440" stroke="#000" stroke-width="4"/><path d="M134.3 241.8l6.4 6.4m0 -6.4l-6.4 6.4M134.3 450.8l6.4 6.4m0 -6.4l-6.4 6.4M134.3 472.4l6.4 6.4m0 -6.4l-6.4 6.4" stroke="#000" stroke-width="3.2" stroke-linecap="round" fill="none"/><line x1="148" y1="485.4" x2="303" y2="485.4" stroke="#000" stroke-width="4"/><path d="M305.8 483.4l6.4 6.4m0 -6.4l-6.4 6.4M135.8 482.4l6.4 6.4m0 -6.4l-6.4 6.4" stroke="#000" stroke-width="3.2" stroke-linecap="round" fill="none"/><line x1="119.4" y1="457.8" x2="470.8" y2="33.5" stroke="#d46a38" stroke-width="3.7"/></g><rect x="137" y="58" width="318.5" height="429.6" fill="none" stroke="#333" stroke-width="2.2"/><text x="145.5" y="87" fill="#0e4f95">Positives: 745</text><line x1="124.5" y1="124.5" x2="136.1" y2="124.5" stroke="#333" stroke-width="3.2"/><text x="122.3" y="133.2" text-anchor="end">8,192</text><line x1="124.5" y1="215.4" x2="136.1" y2="215.4" stroke="#333" stroke-width="3.2"/><text x="122.3" y="224.2" text-anchor="end">128</text><line x1="124.5" y1="306.2" x2="136.1" y2="306.2" stroke="#333" stroke-width="3.2"/><text x="122.3" y="315.1" text-anchor="end">2</text><line x1="124.5" y1="397.2" x2="136.1" y2="397.2" stroke="#333" stroke-width="3.2"/><text x="122.3" y="406" text-anchor="end">0.03</text><g clip-path="url(#ca01)"><path d="M137 533.5H455.5M137 579H455.5M137 624.4H455.5M137 669.9H455.5M137 715.3H455.5M137 760.8H455.5M137 806.2H455.5M137 851.7H455.5M137 897.1H455.5" stroke="#e6e6e6" stroke-width="3.3" fill="none"/><path d="M169.6 512.2V940.8M207.2 512.2V940.8M244.9 512.2V940.8M282.5 512.2V940.8M320.2 512.2V940.8M357.9 512.2V940.8M395.5 512.2V940.8M433.1 512.2V940.8" stroke="#e6e6e6" stroke-width="3.3" fill="none"/><polygon points="209.5,744.4 211.5,739.3 227.8,729.1 240,716.9 252.2,704.7 260.4,684.3 272.6,666 293,651.7 309.3,635.4 319.5,617.1 337.8,610.9 354.1,592.6 360.2,580.4 380.6,572.2 382.6,582.4 382.7,594.4 253.5,750.4" fill="#9ecae1"/><path d="M209.5 738l6.4 6.4m0 -6.4l-6.4 6.4M215.6 739.9l6.4 6.4m0 -6.4l-6.4 6.4M219.2 738.5l6.4 6.4m0 -6.4l-6.4 6.4M224.4 741.3l6.4 6.4m0 -6.4l-6.4 6.4M228.7 740.8l6.4 6.4m0 -6.4l-6.4 6.4M233.6 743l6.4 6.4m0 -6.4l-6.4 6.4M239.5 741.3l6.4 6.4m0 -6.4l-6.4 6.4M242.9 743l6.4 6.4m0 -6.4l-6.4 6.4M249.2 744.5l6.4 6.4m0 -6.4l-6.4 6.4M250.6 739.4l6.4 6.4m0 -6.4l-6.4 6.4M255.4 736.7l6.4 6.4m0 -6.4l-6.4 6.4M257 732.9l6.4 6.4m0 -6.4l-6.4 6.4M262.1 729.4l6.4 6.4m0 -6.4l-6.4 6.4M263.7 726.1l6.4 6.4m0 -6.4l-6.4 6.4M266.1 724.2l6.4 6.4m0 -6.4l-6.4 6.4M270.9 719.1l6.4 6.4m0 -6.4l-6.4 6.4M271.2 716.8l6.4 6.4m0 -6.4l-6.4 6.4M274.1 711l6.4 6.4m0 -6.4l-6.4 6.4M279.3 708.8l6.4 6.4m0 -6.4l-6.4 6.4M281.9 705.2l6.4 6.4m0 -6.4l-6.4 6.4M285 701.9l6.4 6.4m0 -6.4l-6.4 6.4M285.6 697l6.4 6.4m0 -6.4l-6.4 6.4M289.7 695.5l6.4 6.4m0 -6.4l-6.4 6.4M293.8 690.2l6.4 6.4m0 -6.4l-6.4 6.4M295.8 687.6l6.4 6.4m0 -6.4l-6.4 6.4M298.3 683.4l6.4 6.4m0 -6.4l-6.4 6.4M300.5 681.1l6.4 6.4m0 -6.4l-6.4 6.4M305.4 676.3l6.4 6.4m0 -6.4l-6.4 6.4M306.9 675l6.4 6.4m0 -6.4l-6.4 6.4M311.3 669.6l6.4 6.4m0 -6.4l-6.4 6.4M311.6 668.5l6.4 6.4m0 -6.4l-6.4 6.4M317.2 663.5l6.4 6.4m0 -6.4l-6.4 6.4M317.1 661.4l6.4 6.4m0 -6.4l-6.4 6.4M321.1 657.9l6.4 6.4m0 -6.4l-6.4 6.4M324.7 654.1l6.4 6.4m0 -6.4l-6.4 6.4M326.1 650.5l6.4 6.4m0 -6.4l-6.4 6.4M329.2 645.8l6.4 6.4m0 -6.4l-6.4 6.4M334.1 643.7l6.4 6.4m0 -6.4l-6.4 6.4M334.9 638.2l6.4 6.4m0 -6.4l-6.4 6.4M338.5 635.7l6.4 6.4m0 -6.4l-6.4 6.4M341.3 630.9l6.4 6.4m0 -6.4l-6.4 6.4M343.8 629.3l6.4 6.4m0 -6.4l-6.4 6.4M348.8 623.6l6.4 6.4m0 -6.4l-6.4 6.4M350.6 622.4l6.4 6.4m0 -6.4l-6.4 6.4M351.8 619.2l6.4 6.4m0 -6.4l-6.4 6.4M355 614.9l6.4 6.4m0 -6.4l-6.4 6.4M359.3 611.5l6.4 6.4m0 -6.4l-6.4 6.4M361.4 607.4l6.4 6.4m0 -6.4l-6.4 6.4M365.2 603.9l6.4 6.4m0 -6.4l-6.4 6.4M368.3 600.5l6.4 6.4m0 -6.4l-6.4 6.4M370.5 595.6l6.4 6.4m0 -6.4l-6.4 6.4M374 593.6l6.4 6.4m0 -6.4l-6.4 6.4M375.6 591l6.4 6.4m0 -6.4l-6.4 6.4M377.4 584.7l6.4 6.4m0 -6.4l-6.4 6.4M375.4 579.4l6.4 6.4m0 -6.4l-6.4 6.4M373.9 572l6.4 6.4m0 -6.4l-6.4 6.4M369.6 574l6.4 6.4m0 -6.4l-6.4 6.4M364.3 577.5l6.4 6.4m0 -6.4l-6.4 6.4M357.7 580l6.4 6.4m0 -6.4l-6.4 6.4M355.1 585.9l6.4 6.4m0 -6.4l-6.4 6.4M354.5 590.8l6.4 6.4m0 -6.4l-6.4 6.4M352.1 591l6.4 6.4m0 -6.4l-6.4 6.4M352.9 592.6l6.4 6.4m0 -6.4l-6.4 6.4M352 592.5l6.4 6.4m0 -6.4l-6.4 6.4M351.5 595.8l6.4 6.4m0 -6.4l-6.4 6.4M347.7 597.8l6.4 6.4m0 -6.4l-6.4 6.4M344.9 602.4l6.4 6.4m0 -6.4l-6.4 6.4M341.6 607.4l6.4 6.4m0 -6.4l-6.4 6.4M335.8 610.7l6.4 6.4m0 -6.4l-6.4 6.4M338 608.6l6.4 6.4m0 -6.4l-6.4 6.4M335.9 611l6.4 6.4m0 -6.4l-6.4 6.4M335.1 611.6l6.4 6.4m0 -6.4l-6.4 6.4M335.1 611.5l6.4 6.4m0 -6.4l-6.4 6.4M334.4 610.6l6.4 6.4m0 -6.4l-6.4 6.4M332.6 611.1l6.4 6.4m0 -6.4l-6.4 6.4M326.2 613.5l6.4 6.4m0 -6.4l-6.4 6.4M322.1 613.4l6.4 6.4m0 -6.4l-6.4 6.4M317.3 615.3l6.4 6.4m0 -6.4l-6.4 6.4M317.3 621.2l6.4 6.4m0 -6.4l-6.4 6.4M314.8 623.9l6.4 6.4m0 -6.4l-6.4 6.4M312 628.1l6.4 6.4m0 -6.4l-6.4 6.4M308.8 634.1l6.4 6.4m0 -6.4l-6.4 6.4M308.1 635.1l6.4 6.4m0 -6.4l-6.4 6.4M308.6 634.4l6.4 6.4m0 -6.4l-6.4 6.4M309.4 633.1l6.4 6.4m0 -6.4l-6.4 6.4M306.5 638l6.4 6.4m0 -6.4l-6.4 6.4M301.4 641.8l6.4 6.4m0 -6.4l-6.4 6.4M297.7 645.7l6.4 6.4m0 -6.4l-6.4 6.4M295.4 646.9l6.4 6.4m0 -6.4l-6.4 6.4M292.8 650.4l6.4 6.4m0 -6.4l-6.4 6.4M290.7 651.6l6.4 6.4m0 -6.4l-6.4 6.4M290.1 652l6.4 6.4m0 -6.4l-6.4 6.4M286.7 654.2l6.4 6.4m0 -6.4l-6.4 6.4M285.1 656.8l6.4 6.4m0 -6.4l-6.4 6.4M280.1 658.7l6.4 6.4m0 -6.4l-6.4 6.4M274 660.6l6.4 6.4m0 -6.4l-6.4 6.4M270.5 665.3l6.4 6.4m0 -6.4l-6.4 6.4M268.5 669.3l6.4 6.4m0 -6.4l-6.4 6.4M267 672.5l6.4 6.4m0 -6.4l-6.4 6.4M261.9 678.6l6.4 6.4m0 -6.4l-6.4 6.4M258.3 680.9l6.4 6.4m0 -6.4l-6.4 6.4M257.4 686.3l6.4 6.4m0 -6.4l-6.4 6.4M255.4 691.7l6.4 6.4m0 -6.4l-6.4 6.4M254.1 697.9l6.4 6.4m0 -6.4l-6.4 6.4M250.9 703l6.4 6.4m0 -6.4l-6.4 6.4M251.6 701.7l6.4 6.4m0 -6.4l-6.4 6.4M253 702.3l6.4 6.4m0 -6.4l-6.4 6.4M250.3 702.1l6.4 6.4m0 -6.4l-6.4 6.4M251.6 704.8l6.4 6.4m0 -6.4l-6.4 6.4M248.6 706.8l6.4 6.4m0 -6.4l-6.4 6.4M243.4 709l6.4 6.4m0 -6.4l-6.4 6.4M241.2 714.3l6.4 6.4m0 -6.4l-6.4 6.4M236.7 718l6.4 6.4m0 -6.4l-6.4 6.4M233.5 722.5l6.4 6.4m0 -6.4l-6.4 6.4M231 723.7l6.4 6.4m0 -6.4l-6.4 6.4M228 726.6l6.4 6.4m0 -6.4l-6.4 6.4M226.6 728l6.4 6.4m0 -6.4l-6.4 6.4M225.4 727.1l6.4 6.4m0 -6.4l-6.4 6.4M223.2 729.3l6.4 6.4m0 -6.4l-6.4 6.4M218.6 734.7l6.4 6.4m0 -6.4l-6.4 6.4M213.4 734.8l6.4 6.4m0 -6.4l-6.4 6.4M211.1 738.2l6.4 6.4m0 -6.4l-6.4 6.4M210.9 739.8l6.4 6.4m0 -6.4l-6.4 6.4M391.7 547.6l6.4 6.4m0 -6.4l-6.4 6.4M200.1 733.1l6.4 6.4m0 -6.4l-6.4 6.4M270.4 661.7l6.4 6.4m0 -6.4l-6.4 6.4M317.3 613.9l6.4 6.4m0 -6.4l-6.4 6.4M369.3 638.3l6.4 6.4m0 -6.4l-6.4 6.4M272.5 714.7l6.4 6.4m0 -6.4l-6.4 6.4" stroke="#9ecae1" stroke-width="3.2" stroke-linecap="round" fill="none"/><path d="M210.3 739.2l6.4 6.4m0 -6.4l-6.4 6.4M216.4 738.1l6.4 6.4m0 -6.4l-6.4 6.4M224.6 732l6.4 6.4m0 -6.4l-6.4 6.4M228.7 733.1l6.4 6.4m0 -6.4l-6.4 6.4M245 732l6.4 6.4m0 -6.4l-6.4 6.4M247 725.9l6.4 6.4m0 -6.4l-6.4 6.4M251.1 713.7l6.4 6.4m0 -6.4l-6.4 6.4M255.2 707.6l6.4 6.4m0 -6.4l-6.4 6.4M259.2 697.4l6.4 6.4m0 -6.4l-6.4 6.4M261.3 691.3l6.4 6.4m0 -6.4l-6.4 6.4M287.8 681.1l6.4 6.4m0 -6.4l-6.4 6.4M283.7 685.2l6.4 6.4m0 -6.4l-6.4 6.4M308.1 658.7l6.4 6.4m0 -6.4l-6.4 6.4M311.2 655.6l6.4 6.4m0 -6.4l-6.4 6.4M324.4 630.2l6.4 6.4m0 -6.4l-6.4 6.4M336.7 624l6.4 6.4m0 -6.4l-6.4 6.4M339.7 622l6.4 6.4m0 -6.4l-6.4 6.4M350.9 605.7l6.4 6.4m0 -6.4l-6.4 6.4M355 602.7l6.4 6.4m0 -6.4l-6.4 6.4M367.2 593.5l6.4 6.4m0 -6.4l-6.4 6.4M371.3 589.4l6.4 6.4m0 -6.4l-6.4 6.4M376.4 579.2l6.4 6.4m0 -6.4l-6.4 6.4M246.8 733.6l6.4 6.4m0 -6.4l-6.4 6.4M369.7 591.4l6.4 6.4m0 -6.4l-6.4 6.4M301.7 672.1l6.4 6.4m0 -6.4l-6.4 6.4M313.9 651.9l6.4 6.4m0 -6.4l-6.4 6.4M347.4 615.7l6.4 6.4m0 -6.4l-6.4 6.4M367.9 592.2l6.4 6.4m0 -6.4l-6.4 6.4M351.1 617.1l6.4 6.4m0 -6.4l-6.4 6.4M330.9 643.8l6.4 6.4m0 -6.4l-6.4 6.4M256.6 716l6.4 6.4m0 -6.4l-6.4 6.4M261.3 717.4l6.4 6.4m0 -6.4l-6.4 6.4M281.2 687.9l6.4 6.4m0 -6.4l-6.4 6.4M304.5 671.9l6.4 6.4m0 -6.4l-6.4 6.4M353.5 614.6l6.4 6.4m0 -6.4l-6.4 6.4M332 638.4l6.4 6.4m0 -6.4l-6.4 6.4M367.5 598.2l6.4 6.4m0 -6.4l-6.4 6.4M298.1 673.5l6.4 6.4m0 -6.4l-6.4 6.4M242.7 732.6l6.4 6.4m0 -6.4l-6.4 6.4M245.8 727.3l6.4 6.4m0 -6.4l-6.4 6.4M231.9 742.3l6.4 6.4m0 -6.4l-6.4 6.4M238.4 743.9l6.4 6.4m0 -6.4l-6.4 6.4M284.6 687.2l6.4 6.4m0 -6.4l-6.4 6.4M350.7 617.4l6.4 6.4m0 -6.4l-6.4 6.4M293.1 664.5l6.4 6.4m0 -6.4l-6.4 6.4M242.1 751l6.4 6.4m0 -6.4l-6.4 6.4M242.8 741l6.4 6.4m0 -6.4l-6.4 6.4M236 743.2l6.4 6.4m0 -6.4l-6.4 6.4" stroke="#08519c" stroke-width="3.2" stroke-linecap="round" fill="none"/><polygon points="164.6,877.4 171.8,890 190.8,888.1 210.8,884.1 226.6,876.2 238.6,864.2 238.7,864.1 255,849.9 270.9,833.9 278.9,814 279,813.8 279.1,813.6 279.2,813.5 291.3,797.3 301.4,777.1 301.5,777 311.7,760.7 311.7,760.6 323.9,742.4 332,726.2 332.1,726 332.2,725.8 332.3,725.7 346.3,711.7 352.3,697.8 352.4,697.6 352.5,697.5 352.6,697.3 352.7,697.2 352.8,697 366.8,685 374.6,671.5 375.5,660.2 369.7,648.7 360.7,636.6 360.6,636.4 360.5,636.3 360.4,636.1 360.3,635.9 360.3,635.7 360.3,635.6 360.3,635.4 360.3,635.2 360.3,635 360.4,634.8 360.4,634.6 367.3,618 365.5,612.6 353.5,624.6 337.2,640.9 323,655.1 304.8,677.4 288.5,699.7 288.4,699.9 288.3,700 274.1,714.2 261.9,728.4 247.7,746.7 247.6,746.8 247.4,746.9 247.3,747.1 247.1,747.2 246.9,747.3 246.8,747.3 246.6,747.4 246.4,747.4 246.2,747.4 206.4,748.4 199,758.7 192.9,770.8 192.8,771 184.8,782.9 176.8,815.2 172.7,831.5 172.6,831.7 172.5,831.9 172.4,832.1 164.7,843.7 166.6,855.1 166.6,855.3 166.6,855.5 166.6,855.6 164.6,877.4" fill="#000"/><path d="M161.4 874.9l6.4 6.4m0 -6.4l-6.4 6.4M165.9 878.9l6.4 6.4m0 -6.4l-6.4 6.4M170.3 885l6.4 6.4m0 -6.4l-6.4 6.4M177.1 883.4l6.4 6.4m0 -6.4l-6.4 6.4M181.5 885.4l6.4 6.4m0 -6.4l-6.4 6.4M188.2 883.7l6.4 6.4m0 -6.4l-6.4 6.4M192.8 881.5l6.4 6.4m0 -6.4l-6.4 6.4M196.9 879.9l6.4 6.4m0 -6.4l-6.4 6.4M200.7 881.8l6.4 6.4m0 -6.4l-6.4 6.4M207.6 880l6.4 6.4m0 -6.4l-6.4 6.4M212.5 875.5l6.4 6.4m0 -6.4l-6.4 6.4M216.7 873.9l6.4 6.4m0 -6.4l-6.4 6.4M224 873.3l6.4 6.4m0 -6.4l-6.4 6.4M228.1 869.3l6.4 6.4m0 -6.4l-6.4 6.4M230.2 862.7l6.4 6.4m0 -6.4l-6.4 6.4M235.7 858.4l6.4 6.4m0 -6.4l-6.4 6.4M235.5 858.7l6.4 6.4m0 -6.4l-6.4 6.4M239 856.9l6.4 6.4m0 -6.4l-6.4 6.4M243.6 851.4l6.4 6.4m0 -6.4l-6.4 6.4M247.2 850.2l6.4 6.4m0 -6.4l-6.4 6.4M251.7 845.2l6.4 6.4m0 -6.4l-6.4 6.4M256.3 842.5l6.4 6.4m0 -6.4l-6.4 6.4M259 838.6l6.4 6.4m0 -6.4l-6.4 6.4M262.3 834.7l6.4 6.4m0 -6.4l-6.4 6.4M265.4 830.5l6.4 6.4m0 -6.4l-6.4 6.4M269 826.6l6.4 6.4m0 -6.4l-6.4 6.4M270.9 819.9l6.4 6.4m0 -6.4l-6.4 6.4M273.3 816.1l6.4 6.4m0 -6.4l-6.4 6.4M273.7 810.7l6.4 6.4m0 -6.4l-6.4 6.4M273.8 809.8l6.4 6.4m0 -6.4l-6.4 6.4M274.9 808.2l6.4 6.4m0 -6.4l-6.4 6.4M276 808.2l6.4 6.4m0 -6.4l-6.4 6.4M277 804.9l6.4 6.4m0 -6.4l-6.4 6.4M279.3 801.5l6.4 6.4m0 -6.4l-6.4 6.4M283.1 798.8l6.4 6.4m0 -6.4l-6.4 6.4M286.8 792.8l6.4 6.4m0 -6.4l-6.4 6.4M289.5 788.8l6.4 6.4m0 -6.4l-6.4 6.4M290.8 781.8l6.4 6.4m0 -6.4l-6.4 6.4M293.6 778.6l6.4 6.4m0 -6.4l-6.4 6.4M297 774.4l6.4 6.4m0 -6.4l-6.4 6.4M295.9 772.8l6.4 6.4m0 -6.4l-6.4 6.4M300.4 767.8l6.4 6.4m0 -6.4l-6.4 6.4M301.7 764.9l6.4 6.4m0 -6.4l-6.4 6.4M304.9 761.3l6.4 6.4m0 -6.4l-6.4 6.4M308.7 755.2l6.4 6.4m0 -6.4l-6.4 6.4M308.5 756.7l6.4 6.4m0 -6.4l-6.4 6.4M310.7 751.3l6.4 6.4m0 -6.4l-6.4 6.4M313.2 746.5l6.4 6.4m0 -6.4l-6.4 6.4M314.8 744.1l6.4 6.4m0 -6.4l-6.4 6.4M319.9 737.1l6.4 6.4m0 -6.4l-6.4 6.4M320.7 732.7l6.4 6.4m0 -6.4l-6.4 6.4M325.8 727.6l6.4 6.4m0 -6.4l-6.4 6.4M327.5 722.2l6.4 6.4m0 -6.4l-6.4 6.4M328.9 722.6l6.4 6.4m0 -6.4l-6.4 6.4M326.9 720.5l6.4 6.4m0 -6.4l-6.4 6.4M328.3 722.1l6.4 6.4m0 -6.4l-6.4 6.4M330.3 717.3l6.4 6.4m0 -6.4l-6.4 6.4M335.6 714.4l6.4 6.4m0 -6.4l-6.4 6.4M337.6 710.9l6.4 6.4m0 -6.4l-6.4 6.4M341.5 709.3l6.4 6.4m0 -6.4l-6.4 6.4M344.3 701.9l6.4 6.4m0 -6.4l-6.4 6.4M345.2 699l6.4 6.4m0 -6.4l-6.4 6.4M346 692.4l6.4 6.4m0 -6.4l-6.4 6.4M348.6 695.3l6.4 6.4m0 -6.4l-6.4 6.4M349 692l6.4 6.4m0 -6.4l-6.4 6.4M348.1 694l6.4 6.4m0 -6.4l-6.4 6.4M347.1 691.9l6.4 6.4m0 -6.4l-6.4 6.4M348.3 691.4l6.4 6.4m0 -6.4l-6.4 6.4M350.6 690.2l6.4 6.4m0 -6.4l-6.4 6.4M354.9 687.7l6.4 6.4m0 -6.4l-6.4 6.4M359.1 685.2l6.4 6.4m0 -6.4l-6.4 6.4M361.6 680.3l6.4 6.4m0 -6.4l-6.4 6.4M364 674.9l6.4 6.4m0 -6.4l-6.4 6.4M366.6 671.6l6.4 6.4m0 -6.4l-6.4 6.4M369.8 667.2l6.4 6.4m0 -6.4l-6.4 6.4M371.9 663.8l6.4 6.4m0 -6.4l-6.4 6.4M370.2 656.3l6.4 6.4m0 -6.4l-6.4 6.4M367.9 650.5l6.4 6.4m0 -6.4l-6.4 6.4M364.1 647l6.4 6.4m0 -6.4l-6.4 6.4M360.9 643.9l6.4 6.4m0 -6.4l-6.4 6.4M357.8 640l6.4 6.4m0 -6.4l-6.4 6.4M355.9 634.5l6.4 6.4m0 -6.4l-6.4 6.4M355.7 634.3l6.4 6.4m0 -6.4l-6.4 6.4M355.5 632.5l6.4 6.4m0 -6.4l-6.4 6.4M354.2 634.6l6.4 6.4m0 -6.4l-6.4 6.4M355.5 634.1l6.4 6.4m0 -6.4l-6.4 6.4M354 632.8l6.4 6.4m0 -6.4l-6.4 6.4M355.6 632.1l6.4 6.4m0 -6.4l-6.4 6.4M354.3 632.7l6.4 6.4m0 -6.4l-6.4 6.4M356.1 633.1l6.4 6.4m0 -6.4l-6.4 6.4M354.1 629.9l6.4 6.4m0 -6.4l-6.4 6.4M356.1 631.6l6.4 6.4m0 -6.4l-6.4 6.4M354.6 631.4l6.4 6.4m0 -6.4l-6.4 6.4M359.2 625.2l6.4 6.4m0 -6.4l-6.4 6.4M358.8 621.6l6.4 6.4m0 -6.4l-6.4 6.4M360.7 616l6.4 6.4m0 -6.4l-6.4 6.4M360.3 611.7l6.4 6.4m0 -6.4l-6.4 6.4M358.9 617l6.4 6.4m0 -6.4l-6.4 6.4M353.7 617.6l6.4 6.4m0 -6.4l-6.4 6.4M349.8 622.7l6.4 6.4m0 -6.4l-6.4 6.4M348.4 627.2l6.4 6.4m0 -6.4l-6.4 6.4M344.9 629.1l6.4 6.4m0 -6.4l-6.4 6.4M342.8 633.2l6.4 6.4m0 -6.4l-6.4 6.4M338.1 636.2l6.4 6.4m0 -6.4l-6.4 6.4M334.8 637.3l6.4 6.4m0 -6.4l-6.4 6.4M332.2 642.7l6.4 6.4m0 -6.4l-6.4 6.4M329.7 646.4l6.4 6.4m0 -6.4l-6.4 6.4M323.4 650.3l6.4 6.4m0 -6.4l-6.4 6.4M321.2 651.5l6.4 6.4m0 -6.4l-6.4 6.4M317.9 658l6.4 6.4m0 -6.4l-6.4 6.4M315.4 660.1l6.4 6.4m0 -6.4l-6.4 6.4M310.2 664.6l6.4 6.4m0 -6.4l-6.4 6.4M310.5 669l6.4 6.4m0 -6.4l-6.4 6.4M304.9 670.2l6.4 6.4m0 -6.4l-6.4 6.4M302.7 674.4l6.4 6.4m0 -6.4l-6.4 6.4M300.4 678.7l6.4 6.4m0 -6.4l-6.4 6.4M298.3 684l6.4 6.4m0 -6.4l-6.4 6.4M294.3 687.2l6.4 6.4m0 -6.4l-6.4 6.4M292.7 688.8l6.4 6.4m0 -6.4l-6.4 6.4M290.2 693.1l6.4 6.4m0 -6.4l-6.4 6.4M286.8 697.5l6.4 6.4m0 -6.4l-6.4 6.4M287 699l6.4 6.4m0 -6.4l-6.4 6.4M287.6 696.4l6.4 6.4m0 -6.4l-6.4 6.4M281.1 700l6.4 6.4m0 -6.4l-6.4 6.4M280.5 705.6l6.4 6.4m0 -6.4l-6.4 6.4M276 708.2l6.4 6.4m0 -6.4l-6.4 6.4M271.4 712.4l6.4 6.4m0 -6.4l-6.4 6.4M270.6 716.7l6.4 6.4m0 -6.4l-6.4 6.4M266.4 718.5l6.4 6.4m0 -6.4l-6.4 6.4M264.5 723.4l6.4 6.4m0 -6.4l-6.4 6.4M259.9 725l6.4 6.4m0 -6.4l-6.4 6.4M258.7 728.5l6.4 6.4m0 -6.4l-6.4 6.4M255.8 732.3l6.4 6.4m0 -6.4l-6.4 6.4M252.5 737l6.4 6.4m0 -6.4l-6.4 6.4M249.6 740.6l6.4 6.4m0 -6.4l-6.4 6.4M245 745.3l6.4 6.4m0 -6.4l-6.4 6.4M245 744l6.4 6.4m0 -6.4l-6.4 6.4M245.7 745.5l6.4 6.4m0 -6.4l-6.4 6.4M246 745.5l6.4 6.4m0 -6.4l-6.4 6.4M246 746.1l6.4 6.4m0 -6.4l-6.4 6.4M242.8 744.3l6.4 6.4m0 -6.4l-6.4 6.4M245.2 745.9l6.4 6.4m0 -6.4l-6.4 6.4M245.3 744.9l6.4 6.4m0 -6.4l-6.4 6.4M243 745.4l6.4 6.4m0 -6.4l-6.4 6.4M243.9 744.9l6.4 6.4m0 -6.4l-6.4 6.4M238 746.6l6.4 6.4m0 -6.4l-6.4 6.4M232.7 745.3l6.4 6.4m0 -6.4l-6.4 6.4M227.2 747.6l6.4 6.4m0 -6.4l-6.4 6.4M224.4 747.3l6.4 6.4m0 -6.4l-6.4 6.4M217.9 745.2l6.4 6.4m0 -6.4l-6.4 6.4M215.1 748.2l6.4 6.4m0 -6.4l-6.4 6.4M207.7 748.3l6.4 6.4m0 -6.4l-6.4 6.4M205.1 747l6.4 6.4m0 -6.4l-6.4 6.4M201.5 751.6l6.4 6.4m0 -6.4l-6.4 6.4M197.2 756.5l6.4 6.4m0 -6.4l-6.4 6.4M194.1 761.9l6.4 6.4m0 -6.4l-6.4 6.4M192.1 769l6.4 6.4m0 -6.4l-6.4 6.4M192.6 768l6.4 6.4m0 -6.4l-6.4 6.4M186.8 772.2l6.4 6.4m0 -6.4l-6.4 6.4M186.4 777.9l6.4 6.4m0 -6.4l-6.4 6.4M183.4 778.7l6.4 6.4m0 -6.4l-6.4 6.4M181.6 785.1l6.4 6.4m0 -6.4l-6.4 6.4M181 789l6.4 6.4m0 -6.4l-6.4 6.4M178.2 793.7l6.4 6.4m0 -6.4l-6.4 6.4M178.6 797.8l6.4 6.4m0 -6.4l-6.4 6.4M178.5 802.6l6.4 6.4m0 -6.4l-6.4 6.4M176.3 806.8l6.4 6.4m0 -6.4l-6.4 6.4M174.1 811l6.4 6.4m0 -6.4l-6.4 6.4M174.8 817.1l6.4 6.4m0 -6.4l-6.4 6.4M172.7 822.8l6.4 6.4m0 -6.4l-6.4 6.4M172 829.9l6.4 6.4m0 -6.4l-6.4 6.4M170.1 830.5l6.4 6.4m0 -6.4l-6.4 6.4M170.7 830.7l6.4 6.4m0 -6.4l-6.4 6.4M170.1 829.7l6.4 6.4m0 -6.4l-6.4 6.4M165.4 834.7l6.4 6.4m0 -6.4l-6.4 6.4M161.6 840.1l6.4 6.4m0 -6.4l-6.4 6.4M164.5 844.9l6.4 6.4m0 -6.4l-6.4 6.4M164 852.9l6.4 6.4m0 -6.4l-6.4 6.4M165.2 852.3l6.4 6.4m0 -6.4l-6.4 6.4M164.1 853.7l6.4 6.4m0 -6.4l-6.4 6.4M164.3 851.2l6.4 6.4m0 -6.4l-6.4 6.4M164.4 858.2l6.4 6.4m0 -6.4l-6.4 6.4M164.4 862l6.4 6.4m0 -6.4l-6.4 6.4M164.7 868l6.4 6.4m0 -6.4l-6.4 6.4M164.8 873.4l6.4 6.4m0 -6.4l-6.4 6.4M312.6 755.1l6.4 6.4m0 -6.4l-6.4 6.4M339.1 717.4l6.4 6.4m0 -6.4l-6.4 6.4M245.1 741l6.4 6.4m0 -6.4l-6.4 6.4M321.2 644.4l6.4 6.4m0 -6.4l-6.4 6.4M251.2 728.6l6.4 6.4m0 -6.4l-6.4 6.4M363.9 609l6.4 6.4m0 -6.4l-6.4 6.4M187.2 889.6l6.4 6.4m0 -6.4l-6.4 6.4M195.4 749.5l6.4 6.4m0 -6.4l-6.4 6.4M375.1 666.1l6.4 6.4m0 -6.4l-6.4 6.4M245.2 733.2l6.4 6.4m0 -6.4l-6.4 6.4M222.9 879.3l6.4 6.4m0 -6.4l-6.4 6.4M160 852.3l6.4 6.4m0 -6.4l-6.4 6.4M367.1 610l6.4 6.4m0 -6.4l-6.4 6.4M203 741.3l6.4 6.4m0 -6.4l-6.4 6.4M264.3 842.6l6.4 6.4m0 -6.4l-6.4 6.4M364.2 630l6.4 6.4m0 -6.4l-6.4 6.4M226.6 871.8l6.4 6.4m0 -6.4l-6.4 6.4M169.2 824l6.4 6.4m0 -6.4l-6.4 6.4M371.2 676.2l6.4 6.4m0 -6.4l-6.4 6.4M316.8 750.9l6.4 6.4m0 -6.4l-6.4 6.4M267.5 839l6.4 6.4m0 -6.4l-6.4 6.4M160.2 833.8l6.4 6.4m0 -6.4l-6.4 6.4M279.3 695.8l6.4 6.4m0 -6.4l-6.4 6.4M332.6 636.1l6.4 6.4m0 -6.4l-6.4 6.4M376 655.3l6.4 6.4m0 -6.4l-6.4 6.4M372.3 646l6.4 6.4m0 -6.4l-6.4 6.4M288 799.7l6.4 6.4m0 -6.4l-6.4 6.4M274.8 701l6.4 6.4m0 -6.4l-6.4 6.4M247.1 737.1l6.4 6.4m0 -6.4l-6.4 6.4M263.1 718.6l6.4 6.4m0 -6.4l-6.4 6.4M320 644.6l6.4 6.4m0 -6.4l-6.4 6.4M156.9 843.6l6.4 6.4m0 -6.4l-6.4 6.4M156.5 872.3l6.4 6.4m0 -6.4l-6.4 6.4M273 820.8l6.4 6.4m0 -6.4l-6.4 6.4M315.7 750.3l6.4 6.4m0 -6.4l-6.4 6.4M232.2 870.2l6.4 6.4m0 -6.4l-6.4 6.4M175.2 787.7l6.4 6.4m0 -6.4l-6.4 6.4M184.6 767l6.4 6.4m0 -6.4l-6.4 6.4M158.1 858.2l6.4 6.4m0 -6.4l-6.4 6.4M299.7 778.6l6.4 6.4m0 -6.4l-6.4 6.4M295.1 792.5l6.4 6.4m0 -6.4l-6.4 6.4M330 639.2l6.4 6.4m0 -6.4l-6.4 6.4M289.9 687.2l6.4 6.4m0 -6.4l-6.4 6.4M301.8 667.6l6.4 6.4m0 -6.4l-6.4 6.4M268.9 832.2l6.4 6.4m0 -6.4l-6.4 6.4M300.4 781.3l6.4 6.4m0 -6.4l-6.4 6.4M292.9 792.5l6.4 6.4m0 -6.4l-6.4 6.4M258.8 846.3l6.4 6.4m0 -6.4l-6.4 6.4M167.5 888.8l6.4 6.4m0 -6.4l-6.4 6.4M294.1 683l6.4 6.4m0 -6.4l-6.4 6.4M324.7 735.8l6.4 6.4m0 -6.4l-6.4 6.4M169.1 806.2l6.4 6.4m0 -6.4l-6.4 6.4M283.8 809.4l6.4 6.4m0 -6.4l-6.4 6.4M275.3 821.1l6.4 6.4m0 -6.4l-6.4 6.4M372.1 651.5l6.4 6.4m0 -6.4l-6.4 6.4M378.4 645.4l6.4 6.4m0 -6.4l-6.4 6.4M385.6 649.5l6.4 6.4m0 -6.4l-6.4 6.4M381.5 658.7l6.4 6.4m0 -6.4l-6.4 6.4M378.4 664.8l6.4 6.4m0 -6.4l-6.4 6.4M371.3 642.4l6.4 6.4m0 -6.4l-6.4 6.4M395.7 565l6.4 6.4m0 -6.4l-6.4 6.4M430.4 574.1l6.4 6.4m0 -6.4l-6.4 6.4M434.5 575.6l6.4 6.4m0 -6.4l-6.4 6.4M438.5 574.7l6.4 6.4m0 -6.4l-6.4 6.4M416.1 593.5l6.4 6.4m0 -6.4l-6.4 6.4M421.2 613.9l6.4 6.4m0 -6.4l-6.4 6.4M395.7 615.9l6.4 6.4m0 -6.4l-6.4 6.4M401.9 628.1l6.4 6.4m0 -6.4l-6.4 6.4M393.7 640.3l6.4 6.4m0 -6.4l-6.4 6.4M398.8 641.4l6.4 6.4m0 -6.4l-6.4 6.4M379.4 632.2l6.4 6.4m0 -6.4l-6.4 6.4M284.7 819.6l6.4 6.4m0 -6.4l-6.4 6.4M161.4 907.3l6.4 6.4m0 -6.4l-6.4 6.4M165.5 897.1l6.4 6.4m0 -6.4l-6.4 6.4M162.5 835.9l6.4 6.4m0 -6.4l-6.4 6.4M166.5 828.8l6.4 6.4m0 -6.4l-6.4 6.4M181.8 780.9l6.4 6.4m0 -6.4l-6.4 6.4M224.6 870.6l6.4 6.4m0 -6.4l-6.4 6.4M160.4 866.5l6.4 6.4m0 -6.4l-6.4 6.4" stroke="#000" stroke-width="3.2" stroke-linecap="round" fill="none"/><line x1="138.6" y1="692" x2="138.6" y2="902" stroke="#000" stroke-width="4"/><path d="M134.3 682.8l6.4 6.4m0 -6.4l-6.4 6.4M134.3 907.6l6.4 6.4m0 -6.4l-6.4 6.4M134.3 925.6l6.4 6.4m0 -6.4l-6.4 6.4" stroke="#000" stroke-width="3.2" stroke-linecap="round" fill="none"/><line x1="158" y1="938.6" x2="310" y2="938.6" stroke="#000" stroke-width="4"/><path d="M312.8 936.6l6.4 6.4m0 -6.4l-6.4 6.4M135.8 935.6l6.4 6.4m0 -6.4l-6.4 6.4" stroke="#000" stroke-width="3.2" stroke-linecap="round" fill="none"/><line x1="119.4" y1="912.2" x2="470.8" y2="488.1" stroke="#d46a38" stroke-width="3.7"/></g><rect x="137" y="512.2" width="318.5" height="428.6" fill="none" stroke="#333" stroke-width="2.2"/><text x="147" y="541.2" fill="#0e4f95">Positives: 925</text><line x1="207.2" y1="941.7" x2="207.2" y2="953.8" stroke="#333" stroke-width="3.2"/><line x1="282.5" y1="941.7" x2="282.5" y2="953.8" stroke="#333" stroke-width="3.2"/><line x1="357.9" y1="941.7" x2="357.9" y2="953.8" stroke="#333" stroke-width="3.2"/><line x1="433.1" y1="941.7" x2="433.1" y2="953.8" stroke="#333" stroke-width="3.2"/><text transform="translate(210.2 982) rotate(-45)" y="10.2" text-anchor="middle">0.25</text><text transform="translate(285.5 973.4) rotate(-45)" y="10.2" text-anchor="middle">16</text><text transform="translate(360.9 987.7) rotate(-45)" y="10.2" text-anchor="middle">1,024</text><text transform="translate(436.1 993.4) rotate(-45)" y="10.2" text-anchor="middle">65,536</text><line x1="124.5" y1="579" x2="136.1" y2="579" stroke="#333" stroke-width="3.2"/><text x="122.3" y="587.8" text-anchor="end">8,192</text><line x1="124.5" y1="669.9" x2="136.1" y2="669.9" stroke="#333" stroke-width="3.2"/><text x="122.3" y="678.6" text-anchor="end">128</text><line x1="124.5" y1="760.8" x2="136.1" y2="760.8" stroke="#333" stroke-width="3.2"/><text x="122.3" y="769.5" text-anchor="end">2</text><line x1="124.5" y1="851.7" x2="136.1" y2="851.7" stroke="#333" stroke-width="3.2"/><text x="122.3" y="860.5" text-anchor="end">0.03</text><g clip-path="url(#ca10)"><path d="M480.2 79H799M480.2 124.5H799M480.2 169.9H799M480.2 215.4H799M480.2 260.8H799M480.2 306.2H799M480.2 351.7H799M480.2 397.2H799M480.2 442.6H799" stroke="#e6e6e6" stroke-width="3.3" fill="none"/><path d="M512.9 58V487.6M550.5 58V487.6M588.2 58V487.6M625.8 58V487.6M663.5 58V487.6M701.1 58V487.6M738.8 58V487.6M776.5 58V487.6" stroke="#e6e6e6" stroke-width="3.3" fill="none"/><polygon points="542.3,294.5 560.6,284.3 564.7,268 578.9,263.9 595.2,243.6 605.4,227.3 615.6,227.3 629.9,211 648.2,190.6 666.6,170.2 684.9,151.9 705.3,131.5 723.6,117.2 735.8,104 745.8,116 593,300.5" fill="#9ecae1"/><path d="M547.1 287.9l6.4 6.4m0 -6.4l-6.4 6.4M553.2 290.7l6.4 6.4m0 -6.4l-6.4 6.4M558.6 291.7l6.4 6.4m0 -6.4l-6.4 6.4M564.9 292.3l6.4 6.4m0 -6.4l-6.4 6.4M569 293.1l6.4 6.4m0 -6.4l-6.4 6.4M574.2 291l6.4 6.4m0 -6.4l-6.4 6.4M578 292.1l6.4 6.4m0 -6.4l-6.4 6.4M582.2 294.9l6.4 6.4m0 -6.4l-6.4 6.4M588.5 293.1l6.4 6.4m0 -6.4l-6.4 6.4M592.5 290.2l6.4 6.4m0 -6.4l-6.4 6.4M593.4 287.9l6.4 6.4m0 -6.4l-6.4 6.4M596.1 285.1l6.4 6.4m0 -6.4l-6.4 6.4M601.5 278.8l6.4 6.4m0 -6.4l-6.4 6.4M603.1 275.2l6.4 6.4m0 -6.4l-6.4 6.4M607.2 272.4l6.4 6.4m0 -6.4l-6.4 6.4M608.8 270.5l6.4 6.4m0 -6.4l-6.4 6.4M612.4 266.2l6.4 6.4m0 -6.4l-6.4 6.4M613.2 262.2l6.4 6.4m0 -6.4l-6.4 6.4M615.8 258.3l6.4 6.4m0 -6.4l-6.4 6.4M621.1 256.1l6.4 6.4m0 -6.4l-6.4 6.4M623 252.8l6.4 6.4m0 -6.4l-6.4 6.4M626 248.4l6.4 6.4m0 -6.4l-6.4 6.4M628.6 244.9l6.4 6.4m0 -6.4l-6.4 6.4M631.4 241.6l6.4 6.4m0 -6.4l-6.4 6.4M635.7 239.7l6.4 6.4m0 -6.4l-6.4 6.4M638.9 234.7l6.4 6.4m0 -6.4l-6.4 6.4M641.8 232.3l6.4 6.4m0 -6.4l-6.4 6.4M642.3 228.9l6.4 6.4m0 -6.4l-6.4 6.4M644.9 224.8l6.4 6.4m0 -6.4l-6.4 6.4M648.8 221.7l6.4 6.4m0 -6.4l-6.4 6.4M652.9 218.9l6.4 6.4m0 -6.4l-6.4 6.4M656.3 213.6l6.4 6.4m0 -6.4l-6.4 6.4M656.3 209.1l6.4 6.4m0 -6.4l-6.4 6.4M662.2 206.4l6.4 6.4m0 -6.4l-6.4 6.4M662.7 202.2l6.4 6.4m0 -6.4l-6.4 6.4M666.1 199.4l6.4 6.4m0 -6.4l-6.4 6.4M670.1 195.5l6.4 6.4m0 -6.4l-6.4 6.4M672.1 194.2l6.4 6.4m0 -6.4l-6.4 6.4M675 188.4l6.4 6.4m0 -6.4l-6.4 6.4M677.8 185.2l6.4 6.4m0 -6.4l-6.4 6.4M679.4 182.8l6.4 6.4m0 -6.4l-6.4 6.4M683.2 180l6.4 6.4m0 -6.4l-6.4 6.4M685.9 174.3l6.4 6.4m0 -6.4l-6.4 6.4M689.5 172l6.4 6.4m0 -6.4l-6.4 6.4M691.4 168.6l6.4 6.4m0 -6.4l-6.4 6.4M695.8 166l6.4 6.4m0 -6.4l-6.4 6.4M699.6 161.8l6.4 6.4m0 -6.4l-6.4 6.4M702.2 156.9l6.4 6.4m0 -6.4l-6.4 6.4M704.9 156.1l6.4 6.4m0 -6.4l-6.4 6.4M706.7 150.4l6.4 6.4m0 -6.4l-6.4 6.4M709 146.8l6.4 6.4m0 -6.4l-6.4 6.4M712.4 143.9l6.4 6.4m0 -6.4l-6.4 6.4M714.5 141.8l6.4 6.4m0 -6.4l-6.4 6.4M720 136.1l6.4 6.4m0 -6.4l-6.4 6.4M721.8 133.5l6.4 6.4m0 -6.4l-6.4 6.4M724.3 130.3l6.4 6.4m0 -6.4l-6.4 6.4M727 127.7l6.4 6.4m0 -6.4l-6.4 6.4M731.5 122.6l6.4 6.4m0 -6.4l-6.4 6.4M732.5 118.3l6.4 6.4m0 -6.4l-6.4 6.4M735.5 115.6l6.4 6.4m0 -6.4l-6.4 6.4M737.7 113.9l6.4 6.4m0 -6.4l-6.4 6.4M735.7 108.2l6.4 6.4m0 -6.4l-6.4 6.4M731.5 105.7l6.4 6.4m0 -6.4l-6.4 6.4M730.3 110.2l6.4 6.4m0 -6.4l-6.4 6.4M726.7 113.3l6.4 6.4m0 -6.4l-6.4 6.4M721.6 114.9l6.4 6.4m0 -6.4l-6.4 6.4M723 116.7l6.4 6.4m0 -6.4l-6.4 6.4M721.3 115.8l6.4 6.4m0 -6.4l-6.4 6.4M717 119.8l6.4 6.4m0 -6.4l-6.4 6.4M715 123.2l6.4 6.4m0 -6.4l-6.4 6.4M712.7 125l6.4 6.4m0 -6.4l-6.4 6.4M707.2 127l6.4 6.4m0 -6.4l-6.4 6.4M704.5 132l6.4 6.4m0 -6.4l-6.4 6.4M699.4 133.6l6.4 6.4m0 -6.4l-6.4 6.4M698.2 136.1l6.4 6.4m0 -6.4l-6.4 6.4M694.5 139.9l6.4 6.4m0 -6.4l-6.4 6.4M690.8 145.6l6.4 6.4m0 -6.4l-6.4 6.4M685.7 148.1l6.4 6.4m0 -6.4l-6.4 6.4M684.1 151.9l6.4 6.4m0 -6.4l-6.4 6.4M679.7 155.8l6.4 6.4m0 -6.4l-6.4 6.4M678 156.7l6.4 6.4m0 -6.4l-6.4 6.4M672.4 160.9l6.4 6.4m0 -6.4l-6.4 6.4M670.3 166.7l6.4 6.4m0 -6.4l-6.4 6.4M666.4 170.3l6.4 6.4m0 -6.4l-6.4 6.4M662.7 173.7l6.4 6.4m0 -6.4l-6.4 6.4M658.8 174.6l6.4 6.4m0 -6.4l-6.4 6.4M657.1 179.1l6.4 6.4m0 -6.4l-6.4 6.4M651.8 183.6l6.4 6.4m0 -6.4l-6.4 6.4M649.1 185.2l6.4 6.4m0 -6.4l-6.4 6.4M645.9 189.8l6.4 6.4m0 -6.4l-6.4 6.4M643.1 192.2l6.4 6.4m0 -6.4l-6.4 6.4M641.3 197.6l6.4 6.4m0 -6.4l-6.4 6.4M636.6 200.9l6.4 6.4m0 -6.4l-6.4 6.4M635.8 202.2l6.4 6.4m0 -6.4l-6.4 6.4M633.1 206.8l6.4 6.4m0 -6.4l-6.4 6.4M628.8 208.9l6.4 6.4m0 -6.4l-6.4 6.4M625.2 213.3l6.4 6.4m0 -6.4l-6.4 6.4M620.5 216.9l6.4 6.4m0 -6.4l-6.4 6.4M617.5 221.9l6.4 6.4m0 -6.4l-6.4 6.4M615 226.9l6.4 6.4m0 -6.4l-6.4 6.4M613.2 225l6.4 6.4m0 -6.4l-6.4 6.4M615.5 226.6l6.4 6.4m0 -6.4l-6.4 6.4M613.2 225.7l6.4 6.4m0 -6.4l-6.4 6.4M614.3 226.6l6.4 6.4m0 -6.4l-6.4 6.4M613.2 228.3l6.4 6.4m0 -6.4l-6.4 6.4M611.7 227.4l6.4 6.4m0 -6.4l-6.4 6.4M613.6 227.3l6.4 6.4m0 -6.4l-6.4 6.4M613 225.6l6.4 6.4m0 -6.4l-6.4 6.4M613.9 225.6l6.4 6.4m0 -6.4l-6.4 6.4M603.5 226.7l6.4 6.4m0 -6.4l-6.4 6.4M601.9 232.7l6.4 6.4m0 -6.4l-6.4 6.4M598.8 237.2l6.4 6.4m0 -6.4l-6.4 6.4M596.1 241.4l6.4 6.4m0 -6.4l-6.4 6.4M594.1 242.4l6.4 6.4m0 -6.4l-6.4 6.4M590.6 245.2l6.4 6.4m0 -6.4l-6.4 6.4M588.4 249.9l6.4 6.4m0 -6.4l-6.4 6.4M585.8 255l6.4 6.4m0 -6.4l-6.4 6.4M579.8 257.3l6.4 6.4m0 -6.4l-6.4 6.4M577.1 262l6.4 6.4m0 -6.4l-6.4 6.4M576.9 263.4l6.4 6.4m0 -6.4l-6.4 6.4M576.8 262.8l6.4 6.4m0 -6.4l-6.4 6.4M577.1 264.8l6.4 6.4m0 -6.4l-6.4 6.4M577 261.9l6.4 6.4m0 -6.4l-6.4 6.4M578.4 265l6.4 6.4m0 -6.4l-6.4 6.4M575.1 264.8l6.4 6.4m0 -6.4l-6.4 6.4M570.7 266.8l6.4 6.4m0 -6.4l-6.4 6.4M564.4 267.6l6.4 6.4m0 -6.4l-6.4 6.4M563.7 270.6l6.4 6.4m0 -6.4l-6.4 6.4M560.3 275.8l6.4 6.4m0 -6.4l-6.4 6.4M558.8 281l6.4 6.4m0 -6.4l-6.4 6.4M558.8 280.9l6.4 6.4m0 -6.4l-6.4 6.4M559.6 281.3l6.4 6.4m0 -6.4l-6.4 6.4M558.6 284.2l6.4 6.4m0 -6.4l-6.4 6.4M561.1 284.2l6.4 6.4m0 -6.4l-6.4 6.4M558.3 283.5l6.4 6.4m0 -6.4l-6.4 6.4M560.8 283.2l6.4 6.4m0 -6.4l-6.4 6.4M559.2 284.8l6.4 6.4m0 -6.4l-6.4 6.4M560.2 284l6.4 6.4m0 -6.4l-6.4 6.4M553 287.3l6.4 6.4m0 -6.4l-6.4 6.4M549.4 288.7l6.4 6.4m0 -6.4l-6.4 6.4M732.6 99.8l6.4 6.4m0 -6.4l-6.4 6.4M603.3 222l6.4 6.4m0 -6.4l-6.4 6.4M562.5 265.8l6.4 6.4m0 -6.4l-6.4 6.4M540.1 292.3l6.4 6.4m0 -6.4l-6.4 6.4" stroke="#9ecae1" stroke-width="3.2" stroke-linecap="round" fill="none"/><path d="M582.9 269.9l6.4 6.4m0 -6.4l-6.4 6.4M590 268.9l6.4 6.4m0 -6.4l-6.4 6.4M585.9 266.8l6.4 6.4m0 -6.4l-6.4 6.4M597.1 244.4l6.4 6.4m0 -6.4l-6.4 6.4M608.3 250.5l6.4 6.4m0 -6.4l-6.4 6.4M604.3 247.5l6.4 6.4m0 -6.4l-6.4 6.4M616.5 242.4l6.4 6.4m0 -6.4l-6.4 6.4M624.6 236.3l6.4 6.4m0 -6.4l-6.4 6.4M665.4 186.4l6.4 6.4m0 -6.4l-6.4 6.4M602.6 268.9l6.4 6.4m0 -6.4l-6.4 6.4M583.5 291.5l6.4 6.4m0 -6.4l-6.4 6.4M595.4 269.5l6.4 6.4m0 -6.4l-6.4 6.4M580.3 287.6l6.4 6.4m0 -6.4l-6.4 6.4M619.4 243.2l6.4 6.4m0 -6.4l-6.4 6.4M581.1 284.9l6.4 6.4m0 -6.4l-6.4 6.4M583.5 283.7l6.4 6.4m0 -6.4l-6.4 6.4M572.6 299.5l6.4 6.4m0 -6.4l-6.4 6.4M616.4 248.9l6.4 6.4m0 -6.4l-6.4 6.4" stroke="#08519c" stroke-width="3.2" stroke-linecap="round" fill="none"/><polygon points="496.5,396.6 499.4,412 505,423.2 523.7,428.8 543.2,417.1 563.4,400.9 563.7,400.8 587.8,386.7 601.8,366.7 601.9,366.6 602,366.4 617.7,350.7 617.7,335.2 617.7,335 617.7,334.8 617.8,334.6 617.9,334.5 618,334.3 628.1,315.9 628.2,315.8 628.3,315.7 628.4,315.5 628.6,315.4 644.4,301.5 650.4,279.7 650.4,279.5 650.5,279.4 650.6,279.2 650.7,279 650.8,278.9 651,278.7 651.1,278.6 651.3,278.5 671,266.7 674.8,253.2 674.9,253 675,252.8 675.1,252.6 689.4,232.2 689.4,232.2 701.4,216.2 707.4,196.1 707.5,195.9 707.6,195.8 707.7,195.6 707.8,195.4 707.9,195.3 723.6,179.7 721.6,160.2 721.6,160 721.6,159.8 721.7,159.6 721.7,159.4 721.8,159.2 732,136.8 739.4,118.2 734.4,115.7 721.2,134.7 721.1,134.8 702.8,157.2 686.5,177.6 686.4,177.7 668.1,198 651.9,220.3 651.8,220.4 635.5,238.8 635.4,238.8 617.2,259.1 605,275.3 604.9,275.5 588.6,292.8 588.4,292.9 588.3,293.1 588.1,293.2 588,293.3 587.8,293.3 587.6,293.4 587.4,293.4 587.2,293.4 587,293.4 555.8,292.5 552.3,301.4 552.2,301.5 552.1,301.7 552,301.8 551.9,302 551.8,302.1 551.6,302.2 535.3,314.4 535.2,314.5 523.7,322.2 518.8,343.8 518.7,343.9 513.6,362.3 513.6,362.5 513.5,362.7 503.3,381 496.5,396.6" fill="#000"/><path d="M496.1 393l6.4 6.4m0 -6.4l-6.4 6.4M497.2 399.6l6.4 6.4m0 -6.4l-6.4 6.4M496.1 403.8l6.4 6.4m0 -6.4l-6.4 6.4M499.3 408.3l6.4 6.4m0 -6.4l-6.4 6.4M501.8 412.6l6.4 6.4m0 -6.4l-6.4 6.4M502.5 419.4l6.4 6.4m0 -6.4l-6.4 6.4M506.3 419.4l6.4 6.4m0 -6.4l-6.4 6.4M512.8 421.2l6.4 6.4m0 -6.4l-6.4 6.4M516.9 421.7l6.4 6.4m0 -6.4l-6.4 6.4M519.1 423.4l6.4 6.4m0 -6.4l-6.4 6.4M523.9 422.7l6.4 6.4m0 -6.4l-6.4 6.4M528.9 418.5l6.4 6.4m0 -6.4l-6.4 6.4M533 415.6l6.4 6.4m0 -6.4l-6.4 6.4M538.7 412.3l6.4 6.4m0 -6.4l-6.4 6.4M541.6 408.1l6.4 6.4m0 -6.4l-6.4 6.4M548.2 405.7l6.4 6.4m0 -6.4l-6.4 6.4M550.3 401.9l6.4 6.4m0 -6.4l-6.4 6.4M554.5 398.8l6.4 6.4m0 -6.4l-6.4 6.4M557.7 397l6.4 6.4m0 -6.4l-6.4 6.4M559.1 395l6.4 6.4m0 -6.4l-6.4 6.4M564.3 392.5l6.4 6.4m0 -6.4l-6.4 6.4M566.8 392.7l6.4 6.4m0 -6.4l-6.4 6.4M570.3 389.1l6.4 6.4m0 -6.4l-6.4 6.4M576.7 388l6.4 6.4m0 -6.4l-6.4 6.4M578.3 384.1l6.4 6.4m0 -6.4l-6.4 6.4M584.2 381.9l6.4 6.4m0 -6.4l-6.4 6.4M587.8 377.4l6.4 6.4m0 -6.4l-6.4 6.4M590.5 374.4l6.4 6.4m0 -6.4l-6.4 6.4M590.8 370.3l6.4 6.4m0 -6.4l-6.4 6.4M593.2 367.2l6.4 6.4m0 -6.4l-6.4 6.4M596.4 363.9l6.4 6.4m0 -6.4l-6.4 6.4M597.7 361.9l6.4 6.4m0 -6.4l-6.4 6.4M596.8 362.5l6.4 6.4m0 -6.4l-6.4 6.4M600.5 359.6l6.4 6.4m0 -6.4l-6.4 6.4M604 354.5l6.4 6.4m0 -6.4l-6.4 6.4M609.2 349.9l6.4 6.4m0 -6.4l-6.4 6.4M613.8 346.5l6.4 6.4m0 -6.4l-6.4 6.4M613.4 342.2l6.4 6.4m0 -6.4l-6.4 6.4M612.3 336.6l6.4 6.4m0 -6.4l-6.4 6.4M611.5 331l6.4 6.4m0 -6.4l-6.4 6.4M614.1 331.1l6.4 6.4m0 -6.4l-6.4 6.4M613.5 330l6.4 6.4m0 -6.4l-6.4 6.4M613.3 330.5l6.4 6.4m0 -6.4l-6.4 6.4M613.2 329.9l6.4 6.4m0 -6.4l-6.4 6.4M611.9 329.7l6.4 6.4m0 -6.4l-6.4 6.4M615 324.4l6.4 6.4m0 -6.4l-6.4 6.4M619.2 320.4l6.4 6.4m0 -6.4l-6.4 6.4M620.7 317.9l6.4 6.4m0 -6.4l-6.4 6.4M624.5 313.3l6.4 6.4m0 -6.4l-6.4 6.4M624.9 310.4l6.4 6.4m0 -6.4l-6.4 6.4M623.1 309.8l6.4 6.4m0 -6.4l-6.4 6.4M624.7 311.8l6.4 6.4m0 -6.4l-6.4 6.4M623.8 310.7l6.4 6.4m0 -6.4l-6.4 6.4M628.7 308.3l6.4 6.4m0 -6.4l-6.4 6.4M631.2 305.4l6.4 6.4m0 -6.4l-6.4 6.4M635.4 301.3l6.4 6.4m0 -6.4l-6.4 6.4M638.7 296.1l6.4 6.4m0 -6.4l-6.4 6.4M642.7 292.9l6.4 6.4m0 -6.4l-6.4 6.4M643.4 285.2l6.4 6.4m0 -6.4l-6.4 6.4M642.6 280.3l6.4 6.4m0 -6.4l-6.4 6.4M644.6 275.4l6.4 6.4m0 -6.4l-6.4 6.4M645.3 274.2l6.4 6.4m0 -6.4l-6.4 6.4M645.2 275.9l6.4 6.4m0 -6.4l-6.4 6.4M644.9 276.3l6.4 6.4m0 -6.4l-6.4 6.4M646.5 275.6l6.4 6.4m0 -6.4l-6.4 6.4M645.6 274.4l6.4 6.4m0 -6.4l-6.4 6.4M647.3 273.8l6.4 6.4m0 -6.4l-6.4 6.4M645.3 275.3l6.4 6.4m0 -6.4l-6.4 6.4M648.2 273.2l6.4 6.4m0 -6.4l-6.4 6.4M650.5 272.3l6.4 6.4m0 -6.4l-6.4 6.4M657.2 266.7l6.4 6.4m0 -6.4l-6.4 6.4M660.7 264l6.4 6.4m0 -6.4l-6.4 6.4M667.4 261.5l6.4 6.4m0 -6.4l-6.4 6.4M669.7 256.9l6.4 6.4m0 -6.4l-6.4 6.4M668.7 250.2l6.4 6.4m0 -6.4l-6.4 6.4M669.9 250l6.4 6.4m0 -6.4l-6.4 6.4M671.5 248.1l6.4 6.4m0 -6.4l-6.4 6.4M669.2 250l6.4 6.4m0 -6.4l-6.4 6.4M673.2 245.9l6.4 6.4m0 -6.4l-6.4 6.4M677 241.1l6.4 6.4m0 -6.4l-6.4 6.4M680.3 236.7l6.4 6.4m0 -6.4l-6.4 6.4M681.8 230.7l6.4 6.4m0 -6.4l-6.4 6.4M685.5 227.9l6.4 6.4m0 -6.4l-6.4 6.4M685 229.5l6.4 6.4m0 -6.4l-6.4 6.4M686.6 225l6.4 6.4m0 -6.4l-6.4 6.4M689.3 220.8l6.4 6.4m0 -6.4l-6.4 6.4M694.9 215.4l6.4 6.4m0 -6.4l-6.4 6.4M696.9 213.8l6.4 6.4m0 -6.4l-6.4 6.4M698.7 207.4l6.4 6.4m0 -6.4l-6.4 6.4M698.9 200.8l6.4 6.4m0 -6.4l-6.4 6.4M700.7 197.1l6.4 6.4m0 -6.4l-6.4 6.4M701.7 191.8l6.4 6.4m0 -6.4l-6.4 6.4M701.6 192.8l6.4 6.4m0 -6.4l-6.4 6.4M703.5 190.9l6.4 6.4m0 -6.4l-6.4 6.4M702.3 191.6l6.4 6.4m0 -6.4l-6.4 6.4M703.2 192.7l6.4 6.4m0 -6.4l-6.4 6.4M703.1 190.3l6.4 6.4m0 -6.4l-6.4 6.4M708.7 186l6.4 6.4m0 -6.4l-6.4 6.4M711.4 182.8l6.4 6.4m0 -6.4l-6.4 6.4M716 179.8l6.4 6.4m0 -6.4l-6.4 6.4M719.6 174.7l6.4 6.4m0 -6.4l-6.4 6.4M718.8 171.5l6.4 6.4m0 -6.4l-6.4 6.4M717.6 167.4l6.4 6.4m0 -6.4l-6.4 6.4M718.4 160.5l6.4 6.4m0 -6.4l-6.4 6.4M716.1 156.7l6.4 6.4m0 -6.4l-6.4 6.4M715.8 155.3l6.4 6.4m0 -6.4l-6.4 6.4M716.1 155.4l6.4 6.4m0 -6.4l-6.4 6.4M717.6 155.9l6.4 6.4m0 -6.4l-6.4 6.4M715.7 155.1l6.4 6.4m0 -6.4l-6.4 6.4M717 154.9l6.4 6.4m0 -6.4l-6.4 6.4M718 149.4l6.4 6.4m0 -6.4l-6.4 6.4M719.5 148.1l6.4 6.4m0 -6.4l-6.4 6.4M724.1 140.5l6.4 6.4m0 -6.4l-6.4 6.4M726 139.1l6.4 6.4m0 -6.4l-6.4 6.4M727.5 131.7l6.4 6.4m0 -6.4l-6.4 6.4M729 128.5l6.4 6.4m0 -6.4l-6.4 6.4M729.7 124.5l6.4 6.4m0 -6.4l-6.4 6.4M730.8 121.5l6.4 6.4m0 -6.4l-6.4 6.4M734.7 116.2l6.4 6.4m0 -6.4l-6.4 6.4M733.2 115.1l6.4 6.4m0 -6.4l-6.4 6.4M727.8 118.2l6.4 6.4m0 -6.4l-6.4 6.4M724.3 121.9l6.4 6.4m0 -6.4l-6.4 6.4M723.3 129.1l6.4 6.4m0 -6.4l-6.4 6.4M718.6 131.3l6.4 6.4m0 -6.4l-6.4 6.4M719.6 133.8l6.4 6.4m0 -6.4l-6.4 6.4M717.5 135.2l6.4 6.4m0 -6.4l-6.4 6.4M714 141.2l6.4 6.4m0 -6.4l-6.4 6.4M710.8 143.2l6.4 6.4m0 -6.4l-6.4 6.4M705.8 148.7l6.4 6.4m0 -6.4l-6.4 6.4M703.2 150.8l6.4 6.4m0 -6.4l-6.4 6.4M701 154.6l6.4 6.4m0 -6.4l-6.4 6.4M698.7 158.2l6.4 6.4m0 -6.4l-6.4 6.4M692.7 163.4l6.4 6.4m0 -6.4l-6.4 6.4M691.5 168.3l6.4 6.4m0 -6.4l-6.4 6.4M688.5 172.7l6.4 6.4m0 -6.4l-6.4 6.4M686 175.4l6.4 6.4m0 -6.4l-6.4 6.4M684.4 174.4l6.4 6.4m0 -6.4l-6.4 6.4M680.7 179.2l6.4 6.4m0 -6.4l-6.4 6.4M676.9 182.9l6.4 6.4m0 -6.4l-6.4 6.4M674.1 185.5l6.4 6.4m0 -6.4l-6.4 6.4M673.8 187.6l6.4 6.4m0 -6.4l-6.4 6.4M667.6 192.2l6.4 6.4m0 -6.4l-6.4 6.4M665.1 196.5l6.4 6.4m0 -6.4l-6.4 6.4M661.8 200.6l6.4 6.4m0 -6.4l-6.4 6.4M662 204.2l6.4 6.4m0 -6.4l-6.4 6.4M657.8 206.2l6.4 6.4m0 -6.4l-6.4 6.4M655.9 210.7l6.4 6.4m0 -6.4l-6.4 6.4M652.4 213.8l6.4 6.4m0 -6.4l-6.4 6.4M649.8 218.6l6.4 6.4m0 -6.4l-6.4 6.4M650.9 219.7l6.4 6.4m0 -6.4l-6.4 6.4M645.4 221.3l6.4 6.4m0 -6.4l-6.4 6.4M643 225.9l6.4 6.4m0 -6.4l-6.4 6.4M639.5 228.3l6.4 6.4m0 -6.4l-6.4 6.4M635.3 232.4l6.4 6.4m0 -6.4l-6.4 6.4M633.3 238.2l6.4 6.4m0 -6.4l-6.4 6.4M634.8 237.9l6.4 6.4m0 -6.4l-6.4 6.4M632 241.6l6.4 6.4m0 -6.4l-6.4 6.4M627.8 244.5l6.4 6.4m0 -6.4l-6.4 6.4M622.8 247.4l6.4 6.4m0 -6.4l-6.4 6.4M621.7 249.5l6.4 6.4m0 -6.4l-6.4 6.4M618.5 255.1l6.4 6.4m0 -6.4l-6.4 6.4M615.1 257.4l6.4 6.4m0 -6.4l-6.4 6.4M611.5 260.4l6.4 6.4m0 -6.4l-6.4 6.4M610.5 263.4l6.4 6.4m0 -6.4l-6.4 6.4M605.1 269.6l6.4 6.4m0 -6.4l-6.4 6.4M602.9 271.7l6.4 6.4m0 -6.4l-6.4 6.4M603.4 273l6.4 6.4m0 -6.4l-6.4 6.4M599.8 276.6l6.4 6.4m0 -6.4l-6.4 6.4M596.4 280.5l6.4 6.4m0 -6.4l-6.4 6.4M592.7 282.5l6.4 6.4m0 -6.4l-6.4 6.4M588.7 288.6l6.4 6.4m0 -6.4l-6.4 6.4M586.7 289.4l6.4 6.4m0 -6.4l-6.4 6.4M587.5 290.1l6.4 6.4m0 -6.4l-6.4 6.4M584.6 291.3l6.4 6.4m0 -6.4l-6.4 6.4M584.9 291.3l6.4 6.4m0 -6.4l-6.4 6.4M585.6 290.6l6.4 6.4m0 -6.4l-6.4 6.4M585.4 290.3l6.4 6.4m0 -6.4l-6.4 6.4M584.8 292l6.4 6.4m0 -6.4l-6.4 6.4M583 291.5l6.4 6.4m0 -6.4l-6.4 6.4M582.7 291.6l6.4 6.4m0 -6.4l-6.4 6.4M585 292l6.4 6.4m0 -6.4l-6.4 6.4M579.5 292.6l6.4 6.4m0 -6.4l-6.4 6.4M572.4 293.2l6.4 6.4m0 -6.4l-6.4 6.4M569.5 290l6.4 6.4m0 -6.4l-6.4 6.4M564.9 290.8l6.4 6.4m0 -6.4l-6.4 6.4M557.6 292.6l6.4 6.4m0 -6.4l-6.4 6.4M553.9 291.8l6.4 6.4m0 -6.4l-6.4 6.4M549.3 299.7l6.4 6.4m0 -6.4l-6.4 6.4M548.9 298.2l6.4 6.4m0 -6.4l-6.4 6.4M549.8 297.7l6.4 6.4m0 -6.4l-6.4 6.4M550.4 298.6l6.4 6.4m0 -6.4l-6.4 6.4M549.2 300.6l6.4 6.4m0 -6.4l-6.4 6.4M549.4 301.4l6.4 6.4m0 -6.4l-6.4 6.4M549.8 301.6l6.4 6.4m0 -6.4l-6.4 6.4M545.5 304.8l6.4 6.4m0 -6.4l-6.4 6.4M542.5 305.3l6.4 6.4m0 -6.4l-6.4 6.4M538 308.9l6.4 6.4m0 -6.4l-6.4 6.4M534 313.1l6.4 6.4m0 -6.4l-6.4 6.4M534 311.3l6.4 6.4m0 -6.4l-6.4 6.4M527 317.1l6.4 6.4m0 -6.4l-6.4 6.4M523.4 320.7l6.4 6.4m0 -6.4l-6.4 6.4M519.1 325.6l6.4 6.4m0 -6.4l-6.4 6.4M518.1 330.7l6.4 6.4m0 -6.4l-6.4 6.4M519.3 334.4l6.4 6.4m0 -6.4l-6.4 6.4M518.6 341.6l6.4 6.4m0 -6.4l-6.4 6.4M516.2 340.1l6.4 6.4m0 -6.4l-6.4 6.4M515.6 346.9l6.4 6.4m0 -6.4l-6.4 6.4M514.8 349l6.4 6.4m0 -6.4l-6.4 6.4M511.6 353.6l6.4 6.4m0 -6.4l-6.4 6.4M513 358.4l6.4 6.4m0 -6.4l-6.4 6.4M512 359.2l6.4 6.4m0 -6.4l-6.4 6.4M512.3 359.9l6.4 6.4m0 -6.4l-6.4 6.4M507.9 366.1l6.4 6.4m0 -6.4l-6.4 6.4M506.7 370l6.4 6.4m0 -6.4l-6.4 6.4M505.1 375.5l6.4 6.4m0 -6.4l-6.4 6.4M499.9 377.9l6.4 6.4m0 -6.4l-6.4 6.4M498.2 383.5l6.4 6.4m0 -6.4l-6.4 6.4M498.4 389.6l6.4 6.4m0 -6.4l-6.4 6.4M493.4 392.5l6.4 6.4m0 -6.4l-6.4 6.4M553.2 409.1l6.4 6.4m0 -6.4l-6.4 6.4M623.6 237.3l6.4 6.4m0 -6.4l-6.4 6.4M677.2 249.8l6.4 6.4m0 -6.4l-6.4 6.4M553.1 285.8l6.4 6.4m0 -6.4l-6.4 6.4M626.4 239.5l6.4 6.4m0 -6.4l-6.4 6.4M723.6 160.1l6.4 6.4m0 -6.4l-6.4 6.4M513.7 326.8l6.4 6.4m0 -6.4l-6.4 6.4M491.7 397.6l6.4 6.4m0 -6.4l-6.4 6.4M731.5 141.4l6.4 6.4m0 -6.4l-6.4 6.4M706.8 203.2l6.4 6.4m0 -6.4l-6.4 6.4M697 150.6l6.4 6.4m0 -6.4l-6.4 6.4M724.7 172.9l6.4 6.4m0 -6.4l-6.4 6.4M695.8 221.8l6.4 6.4m0 -6.4l-6.4 6.4M664.7 272.1l6.4 6.4m0 -6.4l-6.4 6.4M729.6 138.1l6.4 6.4m0 -6.4l-6.4 6.4M648.5 278.9l6.4 6.4m0 -6.4l-6.4 6.4M709.7 135.7l6.4 6.4m0 -6.4l-6.4 6.4M666.3 271.2l6.4 6.4m0 -6.4l-6.4 6.4M503.7 361.1l6.4 6.4m0 -6.4l-6.4 6.4M513.9 319.2l6.4 6.4m0 -6.4l-6.4 6.4M720.3 124.2l6.4 6.4m0 -6.4l-6.4 6.4M606 263.5l6.4 6.4m0 -6.4l-6.4 6.4M735.9 126.4l6.4 6.4m0 -6.4l-6.4 6.4M694.2 223.6l6.4 6.4m0 -6.4l-6.4 6.4M677.9 251.1l6.4 6.4m0 -6.4l-6.4 6.4M736.3 118.6l6.4 6.4m0 -6.4l-6.4 6.4M701.1 215.7l6.4 6.4m0 -6.4l-6.4 6.4M537.7 304.4l6.4 6.4m0 -6.4l-6.4 6.4M716.5 188.4l6.4 6.4m0 -6.4l-6.4 6.4M673.6 258.1l6.4 6.4m0 -6.4l-6.4 6.4M594.4 376.6l6.4 6.4m0 -6.4l-6.4 6.4M572.2 284.4l6.4 6.4m0 -6.4l-6.4 6.4M526 313.4l6.4 6.4m0 -6.4l-6.4 6.4M494.8 385.3l6.4 6.4m0 -6.4l-6.4 6.4M587.2 384.4l6.4 6.4m0 -6.4l-6.4 6.4M730.2 133.9l6.4 6.4m0 -6.4l-6.4 6.4M685.9 165.4l6.4 6.4m0 -6.4l-6.4 6.4M492.3 386.2l6.4 6.4m0 -6.4l-6.4 6.4M705.2 205.8l6.4 6.4m0 -6.4l-6.4 6.4M649.6 205.5l6.4 6.4m0 -6.4l-6.4 6.4M558.6 286.8l6.4 6.4m0 -6.4l-6.4 6.4M609.8 357.4l6.4 6.4m0 -6.4l-6.4 6.4M637.3 307.2l6.4 6.4m0 -6.4l-6.4 6.4M490.8 390.7l6.4 6.4m0 -6.4l-6.4 6.4M561.1 401.5l6.4 6.4m0 -6.4l-6.4 6.4M550.8 406.5l6.4 6.4m0 -6.4l-6.4 6.4M739 122l6.4 6.4m0 -6.4l-6.4 6.4M585 280.2l6.4 6.4m0 -6.4l-6.4 6.4M606.4 260l6.4 6.4m0 -6.4l-6.4 6.4M675.4 247.1l6.4 6.4m0 -6.4l-6.4 6.4M550 412.5l6.4 6.4m0 -6.4l-6.4 6.4M674.5 251.3l6.4 6.4m0 -6.4l-6.4 6.4M516.6 428l6.4 6.4m0 -6.4l-6.4 6.4M504.5 362.7l6.4 6.4m0 -6.4l-6.4 6.4M624.2 319.3l6.4 6.4m0 -6.4l-6.4 6.4M744.9 132.4l6.4 6.4m0 -6.4l-6.4 6.4M739.8 146.6l6.4 6.4m0 -6.4l-6.4 6.4M731.6 165l6.4 6.4m0 -6.4l-6.4 6.4M681.7 249.5l6.4 6.4m0 -6.4l-6.4 6.4M668.5 265.8l6.4 6.4m0 -6.4l-6.4 6.4M655.2 301.5l6.4 6.4m0 -6.4l-6.4 6.4M613.4 350.4l6.4 6.4m0 -6.4l-6.4 6.4M583.9 387.1l6.4 6.4m0 -6.4l-6.4 6.4M496.3 422.7l6.4 6.4m0 -6.4l-6.4 6.4M519.7 430.9l6.4 6.4m0 -6.4l-6.4 6.4M537 429.8l6.4 6.4m0 -6.4l-6.4 6.4M494.2 391.1l6.4 6.4m0 -6.4l-6.4 6.4M518.7 318.8l6.4 6.4m0 -6.4l-6.4 6.4M529.9 311.7l6.4 6.4m0 -6.4l-6.4 6.4M540.1 287.2l6.4 6.4m0 -6.4l-6.4 6.4" stroke="#000" stroke-width="3.2" stroke-linecap="round" fill="none"/><line x1="481.8" y1="263" x2="481.8" y2="487" stroke="#000" stroke-width="4"/><path d="M477.5 253.8l6.4 6.4m0 -6.4l-6.4 6.4M477.5 454.4l6.4 6.4m0 -6.4l-6.4 6.4M477.5 472.4l6.4 6.4m0 -6.4l-6.4 6.4" stroke="#000" stroke-width="3.2" stroke-linecap="round" fill="none"/><line x1="495" y1="485.4" x2="636" y2="485.4" stroke="#000" stroke-width="4"/><path d="M638.8 483.4l6.4 6.4m0 -6.4l-6.4 6.4M479 482.4l6.4 6.4m0 -6.4l-6.4 6.4" stroke="#000" stroke-width="3.2" stroke-linecap="round" fill="none"/><line x1="462.7" y1="457.8" x2="814.1" y2="33.5" stroke="#d46a38" stroke-width="3.7"/></g><rect x="480.2" y="58" width="318.8" height="429.6" fill="none" stroke="#333" stroke-width="2.2"/><text x="489.5" y="87" fill="#0e4f95">Positives: 698</text><g clip-path="url(#ca11)"><path d="M480.2 533.5H799M480.2 579H799M480.2 624.4H799M480.2 669.9H799M480.2 715.3H799M480.2 760.8H799M480.2 806.2H799M480.2 851.7H799M480.2 897.1H799" stroke="#e6e6e6" stroke-width="3.3" fill="none"/><path d="M512.9 512.2V940.8M550.5 512.2V940.8M588.2 512.2V940.8M625.8 512.2V940.8M663.5 512.2V940.8M701.1 512.2V940.8M738.8 512.2V940.8M776.5 512.2V940.8" stroke="#e6e6e6" stroke-width="3.3" fill="none"/><polygon points="558.6,737.3 564.7,733.2 578.9,727.1 591.2,710.8 595.2,696.5 611.5,680.2 619.7,666 636,659.8 650.3,643.5 668.6,627.2 676.7,615 697.1,600.8 705.3,584.5 727.7,576.3 731.8,580.4 727.7,592.4 602.7,743.3" fill="#9ecae1"/><path d="M565 732.8l6.4 6.4m0 -6.4l-6.4 6.4M568.5 732.8l6.4 6.4m0 -6.4l-6.4 6.4M572.6 734.6l6.4 6.4m0 -6.4l-6.4 6.4M578.3 735.4l6.4 6.4m0 -6.4l-6.4 6.4M583.9 733.5l6.4 6.4m0 -6.4l-6.4 6.4M587.9 734.6l6.4 6.4m0 -6.4l-6.4 6.4M594.6 736.5l6.4 6.4m0 -6.4l-6.4 6.4M596.8 735.8l6.4 6.4m0 -6.4l-6.4 6.4M600.7 733.3l6.4 6.4m0 -6.4l-6.4 6.4M604.2 729.6l6.4 6.4m0 -6.4l-6.4 6.4M606.4 724.9l6.4 6.4m0 -6.4l-6.4 6.4M610 722.5l6.4 6.4m0 -6.4l-6.4 6.4M611.1 719.4l6.4 6.4m0 -6.4l-6.4 6.4M617 714.6l6.4 6.4m0 -6.4l-6.4 6.4M617.2 713.1l6.4 6.4m0 -6.4l-6.4 6.4M620.5 708.4l6.4 6.4m0 -6.4l-6.4 6.4M624.1 704.9l6.4 6.4m0 -6.4l-6.4 6.4M627.2 702.3l6.4 6.4m0 -6.4l-6.4 6.4M631.3 700.3l6.4 6.4m0 -6.4l-6.4 6.4M631.2 695.4l6.4 6.4m0 -6.4l-6.4 6.4M636.5 693l6.4 6.4m0 -6.4l-6.4 6.4M639.3 688.7l6.4 6.4m0 -6.4l-6.4 6.4M641.8 684.4l6.4 6.4m0 -6.4l-6.4 6.4M643.5 682.3l6.4 6.4m0 -6.4l-6.4 6.4M648.3 679.3l6.4 6.4m0 -6.4l-6.4 6.4M650.5 673.8l6.4 6.4m0 -6.4l-6.4 6.4M653.7 671.7l6.4 6.4m0 -6.4l-6.4 6.4M655.7 667.9l6.4 6.4m0 -6.4l-6.4 6.4M658.1 664.2l6.4 6.4m0 -6.4l-6.4 6.4M661.2 659.1l6.4 6.4m0 -6.4l-6.4 6.4M663.8 656.5l6.4 6.4m0 -6.4l-6.4 6.4M668.8 653.6l6.4 6.4m0 -6.4l-6.4 6.4M669.7 649.3l6.4 6.4m0 -6.4l-6.4 6.4M672.1 646.2l6.4 6.4m0 -6.4l-6.4 6.4M674.7 641.6l6.4 6.4m0 -6.4l-6.4 6.4M679.9 639.6l6.4 6.4m0 -6.4l-6.4 6.4M681.4 636.5l6.4 6.4m0 -6.4l-6.4 6.4M683.8 631.7l6.4 6.4m0 -6.4l-6.4 6.4M685.9 628.7l6.4 6.4m0 -6.4l-6.4 6.4M689.6 626.6l6.4 6.4m0 -6.4l-6.4 6.4M693.2 623.8l6.4 6.4m0 -6.4l-6.4 6.4M695.4 620.3l6.4 6.4m0 -6.4l-6.4 6.4M699.1 614.1l6.4 6.4m0 -6.4l-6.4 6.4M700.7 612.2l6.4 6.4m0 -6.4l-6.4 6.4M706.1 608.1l6.4 6.4m0 -6.4l-6.4 6.4M708.3 604.8l6.4 6.4m0 -6.4l-6.4 6.4M711.5 600.2l6.4 6.4m0 -6.4l-6.4 6.4M713.1 599.4l6.4 6.4m0 -6.4l-6.4 6.4M715.3 593.9l6.4 6.4m0 -6.4l-6.4 6.4M717.4 590.1l6.4 6.4m0 -6.4l-6.4 6.4M721.1 588.4l6.4 6.4m0 -6.4l-6.4 6.4M722.6 582.5l6.4 6.4m0 -6.4l-6.4 6.4M724.2 578.3l6.4 6.4m0 -6.4l-6.4 6.4M724.9 577.1l6.4 6.4m0 -6.4l-6.4 6.4M717.9 579.1l6.4 6.4m0 -6.4l-6.4 6.4M715.5 580.5l6.4 6.4m0 -6.4l-6.4 6.4M707.7 582.9l6.4 6.4m0 -6.4l-6.4 6.4M705.4 583.2l6.4 6.4m0 -6.4l-6.4 6.4M700.5 587.8l6.4 6.4m0 -6.4l-6.4 6.4M699.3 595l6.4 6.4m0 -6.4l-6.4 6.4M697.1 600.3l6.4 6.4m0 -6.4l-6.4 6.4M695.5 598.6l6.4 6.4m0 -6.4l-6.4 6.4M697.1 599.9l6.4 6.4m0 -6.4l-6.4 6.4M695.8 600.2l6.4 6.4m0 -6.4l-6.4 6.4M695.4 598.4l6.4 6.4m0 -6.4l-6.4 6.4M695.4 598.6l6.4 6.4m0 -6.4l-6.4 6.4M692.1 602.3l6.4 6.4m0 -6.4l-6.4 6.4M687.7 605.9l6.4 6.4m0 -6.4l-6.4 6.4M682.9 608.3l6.4 6.4m0 -6.4l-6.4 6.4M678.2 612.5l6.4 6.4m0 -6.4l-6.4 6.4M675.9 615.5l6.4 6.4m0 -6.4l-6.4 6.4M671.7 618.2l6.4 6.4m0 -6.4l-6.4 6.4M671.2 621.2l6.4 6.4m0 -6.4l-6.4 6.4M666.6 624.6l6.4 6.4m0 -6.4l-6.4 6.4M666.6 626.8l6.4 6.4m0 -6.4l-6.4 6.4M666.3 627.1l6.4 6.4m0 -6.4l-6.4 6.4M667.1 626.4l6.4 6.4m0 -6.4l-6.4 6.4M664 629.7l6.4 6.4m0 -6.4l-6.4 6.4M660.6 633.1l6.4 6.4m0 -6.4l-6.4 6.4M655.9 636.8l6.4 6.4m0 -6.4l-6.4 6.4M652.1 639.9l6.4 6.4m0 -6.4l-6.4 6.4M650 643.3l6.4 6.4m0 -6.4l-6.4 6.4M645.1 647.4l6.4 6.4m0 -6.4l-6.4 6.4M643.7 650.4l6.4 6.4m0 -6.4l-6.4 6.4M637.9 654.7l6.4 6.4m0 -6.4l-6.4 6.4M636.5 657.4l6.4 6.4m0 -6.4l-6.4 6.4M633.3 658.8l6.4 6.4m0 -6.4l-6.4 6.4M635.1 659.9l6.4 6.4m0 -6.4l-6.4 6.4M633.9 660.8l6.4 6.4m0 -6.4l-6.4 6.4M633.3 660.2l6.4 6.4m0 -6.4l-6.4 6.4M632.5 657.9l6.4 6.4m0 -6.4l-6.4 6.4M627.6 660l6.4 6.4m0 -6.4l-6.4 6.4M623.7 663.5l6.4 6.4m0 -6.4l-6.4 6.4M617.5 666.6l6.4 6.4m0 -6.4l-6.4 6.4M615.6 668.5l6.4 6.4m0 -6.4l-6.4 6.4M612.5 674.8l6.4 6.4m0 -6.4l-6.4 6.4M612.3 677.4l6.4 6.4m0 -6.4l-6.4 6.4M609.3 679.6l6.4 6.4m0 -6.4l-6.4 6.4M609.8 680.5l6.4 6.4m0 -6.4l-6.4 6.4M610.5 679.6l6.4 6.4m0 -6.4l-6.4 6.4M606 684l6.4 6.4m0 -6.4l-6.4 6.4M602.5 686.5l6.4 6.4m0 -6.4l-6.4 6.4M599.9 689.7l6.4 6.4m0 -6.4l-6.4 6.4M595.5 693.5l6.4 6.4m0 -6.4l-6.4 6.4M593.9 699.1l6.4 6.4m0 -6.4l-6.4 6.4M593.3 702.5l6.4 6.4m0 -6.4l-6.4 6.4M591.1 708.1l6.4 6.4m0 -6.4l-6.4 6.4M592.1 710.1l6.4 6.4m0 -6.4l-6.4 6.4M591.1 708l6.4 6.4m0 -6.4l-6.4 6.4M589.7 708.4l6.4 6.4m0 -6.4l-6.4 6.4M590.2 708.5l6.4 6.4m0 -6.4l-6.4 6.4M586.4 714.3l6.4 6.4m0 -6.4l-6.4 6.4M584.7 716.9l6.4 6.4m0 -6.4l-6.4 6.4M582.8 720.7l6.4 6.4m0 -6.4l-6.4 6.4M578.4 724.6l6.4 6.4m0 -6.4l-6.4 6.4M579.1 727.1l6.4 6.4m0 -6.4l-6.4 6.4M577 727l6.4 6.4m0 -6.4l-6.4 6.4M578.5 725.6l6.4 6.4m0 -6.4l-6.4 6.4M576.7 726.5l6.4 6.4m0 -6.4l-6.4 6.4M578.2 725.6l6.4 6.4m0 -6.4l-6.4 6.4M573.2 728.8l6.4 6.4m0 -6.4l-6.4 6.4M568.1 730.6l6.4 6.4m0 -6.4l-6.4 6.4M565.2 731.3l6.4 6.4m0 -6.4l-6.4 6.4M731.6 553.8l6.4 6.4m0 -6.4l-6.4 6.4M571.7 703.5l6.4 6.4m0 -6.4l-6.4 6.4M554.4 731l6.4 6.4m0 -6.4l-6.4 6.4M567.6 749.4l6.4 6.4m0 -6.4l-6.4 6.4" stroke="#9ecae1" stroke-width="3.2" stroke-linecap="round" fill="none"/><path d="M561.5 737.1l6.4 6.4m0 -6.4l-6.4 6.4M559.4 740.2l6.4 6.4m0 -6.4l-6.4 6.4M585.9 730l6.4 6.4m0 -6.4l-6.4 6.4M594.1 717.8l6.4 6.4m0 -6.4l-6.4 6.4M597.1 720.8l6.4 6.4m0 -6.4l-6.4 6.4M592 707.6l6.4 6.4m0 -6.4l-6.4 6.4M604.3 697.4l6.4 6.4m0 -6.4l-6.4 6.4M600.2 700.5l6.4 6.4m0 -6.4l-6.4 6.4M618.5 687.2l6.4 6.4m0 -6.4l-6.4 6.4M615.5 690.3l6.4 6.4m0 -6.4l-6.4 6.4M649.1 662.8l6.4 6.4m0 -6.4l-6.4 6.4M669.5 640.3l6.4 6.4m0 -6.4l-6.4 6.4M706.5 607.3l6.4 6.4m0 -6.4l-6.4 6.4M593.7 734.5l6.4 6.4m0 -6.4l-6.4 6.4M685.4 622l6.4 6.4m0 -6.4l-6.4 6.4M579 739.8l6.4 6.4m0 -6.4l-6.4 6.4M627.5 684.4l6.4 6.4m0 -6.4l-6.4 6.4M588.3 737.9l6.4 6.4m0 -6.4l-6.4 6.4M650.5 665.3l6.4 6.4m0 -6.4l-6.4 6.4M607.8 708.5l6.4 6.4m0 -6.4l-6.4 6.4M594.8 729.6l6.4 6.4m0 -6.4l-6.4 6.4M587.8 740.8l6.4 6.4m0 -6.4l-6.4 6.4M589.8 737l6.4 6.4m0 -6.4l-6.4 6.4M593.6 727.6l6.4 6.4m0 -6.4l-6.4 6.4M665.2 646.1l6.4 6.4m0 -6.4l-6.4 6.4M590.6 741l6.4 6.4m0 -6.4l-6.4 6.4M585.1 740.8l6.4 6.4m0 -6.4l-6.4 6.4M609.9 711.2l6.4 6.4m0 -6.4l-6.4 6.4M619.2 696.2l6.4 6.4m0 -6.4l-6.4 6.4M583.4 738.9l6.4 6.4m0 -6.4l-6.4 6.4M579.4 739.7l6.4 6.4m0 -6.4l-6.4 6.4M620.4 704.6l6.4 6.4m0 -6.4l-6.4 6.4M705.7 602.6l6.4 6.4m0 -6.4l-6.4 6.4M640.5 671.5l6.4 6.4m0 -6.4l-6.4 6.4M649.2 671.1l6.4 6.4m0 -6.4l-6.4 6.4M612.8 711.7l6.4 6.4m0 -6.4l-6.4 6.4M685.6 634.2l6.4 6.4m0 -6.4l-6.4 6.4M690.4 620.3l6.4 6.4m0 -6.4l-6.4 6.4" stroke="#08519c" stroke-width="3.2" stroke-linecap="round" fill="none"/><polygon points="515.1,870.2 518.1,871.7 533.6,867.8 533.8,867.7 548,865.7 563.9,861.7 578,853.7 578.1,853.7 598.1,843.6 612.1,827.7 622.1,815.6 630.2,801.5 630.3,801.3 630.4,801.2 640.5,789 650.6,775 658.6,756.8 658.7,756.7 658.8,756.5 658.9,756.3 671.2,742.1 683.3,727.9 695.4,709.7 703.5,695.5 703.7,695.3 715.7,679.2 723.6,659.6 721.7,648.3 711.7,632.4 711.6,632.2 711.5,632 711.5,631.8 711.4,631.6 711.4,631.4 711.4,631.2 711.4,631 711.5,630.8 711.6,630.6 717.7,614.3 717.8,614.1 717.9,613.9 718,613.8 734.4,593.7 724.3,590.8 712.9,604.1 712.9,604.1 698.6,620.4 698.5,620.6 698.3,620.7 698.1,620.8 684.2,628.8 666.1,652.9 666.1,652.9 649.8,673.3 635.6,693.6 635.5,693.8 635.3,693.9 617.1,710.1 605,726.2 604.9,726.4 604.7,726.6 588.5,740.8 576.3,753 576.1,753.1 576,753.2 575.8,753.3 575.6,753.4 575.4,753.5 575.2,753.5 575,753.5 574.8,753.5 574.6,753.5 559,751.6 541.7,761.2 531.7,777 531.7,777.1 521.8,791 519.8,804.8 517.8,823.1 517.7,823.3 517.7,823.5 517.6,823.7 517.5,823.9 517.4,824 505.6,839.8 505.6,854.9 515.1,870.2" fill="#000"/><path d="M512.3 865.1l6.4 6.4m0 -6.4l-6.4 6.4M514.2 868l6.4 6.4m0 -6.4l-6.4 6.4M520.2 865.6l6.4 6.4m0 -6.4l-6.4 6.4M524.8 862.7l6.4 6.4m0 -6.4l-6.4 6.4M529.4 864.3l6.4 6.4m0 -6.4l-6.4 6.4M531.4 864.2l6.4 6.4m0 -6.4l-6.4 6.4M534.3 861.3l6.4 6.4m0 -6.4l-6.4 6.4M538.3 861.7l6.4 6.4m0 -6.4l-6.4 6.4M544.1 860.8l6.4 6.4m0 -6.4l-6.4 6.4M549.7 859.9l6.4 6.4m0 -6.4l-6.4 6.4M554.5 859.4l6.4 6.4m0 -6.4l-6.4 6.4M559.1 858.5l6.4 6.4m0 -6.4l-6.4 6.4M564.9 852.9l6.4 6.4m0 -6.4l-6.4 6.4M568.7 851.9l6.4 6.4m0 -6.4l-6.4 6.4M573.7 849.3l6.4 6.4m0 -6.4l-6.4 6.4M573.5 848.3l6.4 6.4m0 -6.4l-6.4 6.4M580.1 845.9l6.4 6.4m0 -6.4l-6.4 6.4M584.7 845.1l6.4 6.4m0 -6.4l-6.4 6.4M589.3 841.5l6.4 6.4m0 -6.4l-6.4 6.4M595.4 839l6.4 6.4m0 -6.4l-6.4 6.4M598.6 833.7l6.4 6.4m0 -6.4l-6.4 6.4M600.5 831.8l6.4 6.4m0 -6.4l-6.4 6.4M602.7 828.6l6.4 6.4m0 -6.4l-6.4 6.4M606.2 823.8l6.4 6.4m0 -6.4l-6.4 6.4M609.9 820.9l6.4 6.4m0 -6.4l-6.4 6.4M614.5 816.5l6.4 6.4m0 -6.4l-6.4 6.4M617.6 812.1l6.4 6.4m0 -6.4l-6.4 6.4M620.9 806.1l6.4 6.4m0 -6.4l-6.4 6.4M622 803.3l6.4 6.4m0 -6.4l-6.4 6.4M624.4 798.9l6.4 6.4m0 -6.4l-6.4 6.4M624.8 795.9l6.4 6.4m0 -6.4l-6.4 6.4M624.6 797.9l6.4 6.4m0 -6.4l-6.4 6.4M630.9 792.6l6.4 6.4m0 -6.4l-6.4 6.4M633.2 788.1l6.4 6.4m0 -6.4l-6.4 6.4M637.4 785.5l6.4 6.4m0 -6.4l-6.4 6.4M638.2 778.7l6.4 6.4m0 -6.4l-6.4 6.4M643.3 774.1l6.4 6.4m0 -6.4l-6.4 6.4M647.1 770.3l6.4 6.4m0 -6.4l-6.4 6.4M647 766.8l6.4 6.4m0 -6.4l-6.4 6.4M649.3 762.2l6.4 6.4m0 -6.4l-6.4 6.4M650.8 758.9l6.4 6.4m0 -6.4l-6.4 6.4M653.4 754.1l6.4 6.4m0 -6.4l-6.4 6.4M652.9 753.7l6.4 6.4m0 -6.4l-6.4 6.4M655.9 752l6.4 6.4m0 -6.4l-6.4 6.4M652.9 751.7l6.4 6.4m0 -6.4l-6.4 6.4M658.1 747.6l6.4 6.4m0 -6.4l-6.4 6.4M660.8 743.6l6.4 6.4m0 -6.4l-6.4 6.4M663.6 742.2l6.4 6.4m0 -6.4l-6.4 6.4M666.5 738.5l6.4 6.4m0 -6.4l-6.4 6.4M668.5 735.4l6.4 6.4m0 -6.4l-6.4 6.4M671.5 732.2l6.4 6.4m0 -6.4l-6.4 6.4M677.5 728.8l6.4 6.4m0 -6.4l-6.4 6.4M678.9 723l6.4 6.4m0 -6.4l-6.4 6.4M681.3 720.1l6.4 6.4m0 -6.4l-6.4 6.4M684.8 716.2l6.4 6.4m0 -6.4l-6.4 6.4M686.5 710.2l6.4 6.4m0 -6.4l-6.4 6.4M692.1 706l6.4 6.4m0 -6.4l-6.4 6.4M693.7 699.6l6.4 6.4m0 -6.4l-6.4 6.4M695 695.5l6.4 6.4m0 -6.4l-6.4 6.4M700.3 692.7l6.4 6.4m0 -6.4l-6.4 6.4M698.3 692.6l6.4 6.4m0 -6.4l-6.4 6.4M700.6 687.5l6.4 6.4m0 -6.4l-6.4 6.4M706.8 682.7l6.4 6.4m0 -6.4l-6.4 6.4M709.7 679.8l6.4 6.4m0 -6.4l-6.4 6.4M709.6 674.7l6.4 6.4m0 -6.4l-6.4 6.4M712.9 669.6l6.4 6.4m0 -6.4l-6.4 6.4M715.8 664.7l6.4 6.4m0 -6.4l-6.4 6.4M717.8 660.3l6.4 6.4m0 -6.4l-6.4 6.4M717.3 656.4l6.4 6.4m0 -6.4l-6.4 6.4M716.5 651.2l6.4 6.4m0 -6.4l-6.4 6.4M718 646l6.4 6.4m0 -6.4l-6.4 6.4M714.4 640.2l6.4 6.4m0 -6.4l-6.4 6.4M712.1 636.5l6.4 6.4m0 -6.4l-6.4 6.4M710.1 632.7l6.4 6.4m0 -6.4l-6.4 6.4M707.4 629.5l6.4 6.4m0 -6.4l-6.4 6.4M706.6 630.3l6.4 6.4m0 -6.4l-6.4 6.4M705.7 628.3l6.4 6.4m0 -6.4l-6.4 6.4M708.2 628.5l6.4 6.4m0 -6.4l-6.4 6.4M707.8 629.9l6.4 6.4m0 -6.4l-6.4 6.4M706.6 627.1l6.4 6.4m0 -6.4l-6.4 6.4M705.2 629.2l6.4 6.4m0 -6.4l-6.4 6.4M705.4 627.6l6.4 6.4m0 -6.4l-6.4 6.4M706.9 625.9l6.4 6.4m0 -6.4l-6.4 6.4M706.7 625.7l6.4 6.4m0 -6.4l-6.4 6.4M709 621.5l6.4 6.4m0 -6.4l-6.4 6.4M710.5 615l6.4 6.4m0 -6.4l-6.4 6.4M712.6 609.6l6.4 6.4m0 -6.4l-6.4 6.4M711.9 609.3l6.4 6.4m0 -6.4l-6.4 6.4M714.6 609.9l6.4 6.4m0 -6.4l-6.4 6.4M714.9 607.9l6.4 6.4m0 -6.4l-6.4 6.4M718 605.9l6.4 6.4m0 -6.4l-6.4 6.4M720.5 602.5l6.4 6.4m0 -6.4l-6.4 6.4M723.1 597.7l6.4 6.4m0 -6.4l-6.4 6.4M726.3 593.8l6.4 6.4m0 -6.4l-6.4 6.4M727.6 589.8l6.4 6.4m0 -6.4l-6.4 6.4M721.3 589.5l6.4 6.4m0 -6.4l-6.4 6.4M717.4 594.9l6.4 6.4m0 -6.4l-6.4 6.4M713.1 598l6.4 6.4m0 -6.4l-6.4 6.4M710 602.3l6.4 6.4m0 -6.4l-6.4 6.4M711.9 602.7l6.4 6.4m0 -6.4l-6.4 6.4M705.8 605.2l6.4 6.4m0 -6.4l-6.4 6.4M704.1 611.8l6.4 6.4m0 -6.4l-6.4 6.4M698.6 614.6l6.4 6.4m0 -6.4l-6.4 6.4M697.3 619.3l6.4 6.4m0 -6.4l-6.4 6.4M695.8 619.6l6.4 6.4m0 -6.4l-6.4 6.4M695.9 620.2l6.4 6.4m0 -6.4l-6.4 6.4M694 620.5l6.4 6.4m0 -6.4l-6.4 6.4M690.9 621.3l6.4 6.4m0 -6.4l-6.4 6.4M685.2 623.3l6.4 6.4m0 -6.4l-6.4 6.4M682.9 627.4l6.4 6.4m0 -6.4l-6.4 6.4M677.9 630.3l6.4 6.4m0 -6.4l-6.4 6.4M674.9 633.7l6.4 6.4m0 -6.4l-6.4 6.4M672.2 638.2l6.4 6.4m0 -6.4l-6.4 6.4M671.8 644.4l6.4 6.4m0 -6.4l-6.4 6.4M668.2 646.6l6.4 6.4m0 -6.4l-6.4 6.4M664.2 651.6l6.4 6.4m0 -6.4l-6.4 6.4M665.5 651.6l6.4 6.4m0 -6.4l-6.4 6.4M661.4 653.8l6.4 6.4m0 -6.4l-6.4 6.4M658.1 660l6.4 6.4m0 -6.4l-6.4 6.4M655.4 661.5l6.4 6.4m0 -6.4l-6.4 6.4M651.9 666.5l6.4 6.4m0 -6.4l-6.4 6.4M646.8 672.6l6.4 6.4m0 -6.4l-6.4 6.4M645.7 675.9l6.4 6.4m0 -6.4l-6.4 6.4M641 680.3l6.4 6.4m0 -6.4l-6.4 6.4M640.9 684.6l6.4 6.4m0 -6.4l-6.4 6.4M637.4 688.4l6.4 6.4m0 -6.4l-6.4 6.4M634.7 691.6l6.4 6.4m0 -6.4l-6.4 6.4M633.2 692.7l6.4 6.4m0 -6.4l-6.4 6.4M634.1 693.2l6.4 6.4m0 -6.4l-6.4 6.4M628.9 696.7l6.4 6.4m0 -6.4l-6.4 6.4M626 699.9l6.4 6.4m0 -6.4l-6.4 6.4M621 703.2l6.4 6.4m0 -6.4l-6.4 6.4M619.7 703.9l6.4 6.4m0 -6.4l-6.4 6.4M616.2 707.1l6.4 6.4m0 -6.4l-6.4 6.4M611.1 711.9l6.4 6.4m0 -6.4l-6.4 6.4M608.2 716l6.4 6.4m0 -6.4l-6.4 6.4M607.5 720.6l6.4 6.4m0 -6.4l-6.4 6.4M603.8 723.6l6.4 6.4m0 -6.4l-6.4 6.4M603.8 725.3l6.4 6.4m0 -6.4l-6.4 6.4M603.2 726.1l6.4 6.4m0 -6.4l-6.4 6.4M599.6 727.8l6.4 6.4m0 -6.4l-6.4 6.4M593.1 732.2l6.4 6.4m0 -6.4l-6.4 6.4M591.6 734.7l6.4 6.4m0 -6.4l-6.4 6.4M586.7 739.9l6.4 6.4m0 -6.4l-6.4 6.4M583.3 741.1l6.4 6.4m0 -6.4l-6.4 6.4M578.2 745.2l6.4 6.4m0 -6.4l-6.4 6.4M572.9 751.9l6.4 6.4m0 -6.4l-6.4 6.4M573.7 751.5l6.4 6.4m0 -6.4l-6.4 6.4M573.5 750.8l6.4 6.4m0 -6.4l-6.4 6.4M572.4 751l6.4 6.4m0 -6.4l-6.4 6.4M574.2 752.1l6.4 6.4m0 -6.4l-6.4 6.4M572 750.4l6.4 6.4m0 -6.4l-6.4 6.4M571.5 752.6l6.4 6.4m0 -6.4l-6.4 6.4M571.8 752.5l6.4 6.4m0 -6.4l-6.4 6.4M572.6 750.6l6.4 6.4m0 -6.4l-6.4 6.4M571.8 750.3l6.4 6.4m0 -6.4l-6.4 6.4M567.3 750.2l6.4 6.4m0 -6.4l-6.4 6.4M560.4 752.2l6.4 6.4m0 -6.4l-6.4 6.4M555.6 749.1l6.4 6.4m0 -6.4l-6.4 6.4M553.3 752.7l6.4 6.4m0 -6.4l-6.4 6.4M549.2 754.2l6.4 6.4m0 -6.4l-6.4 6.4M543.7 758.4l6.4 6.4m0 -6.4l-6.4 6.4M539.6 760.8l6.4 6.4m0 -6.4l-6.4 6.4M536.1 764.2l6.4 6.4m0 -6.4l-6.4 6.4M533.6 767l6.4 6.4m0 -6.4l-6.4 6.4M530.6 769.7l6.4 6.4m0 -6.4l-6.4 6.4M531.4 774.5l6.4 6.4m0 -6.4l-6.4 6.4M530.8 774l6.4 6.4m0 -6.4l-6.4 6.4M526.1 778l6.4 6.4m0 -6.4l-6.4 6.4M523.5 785.1l6.4 6.4m0 -6.4l-6.4 6.4M520.1 788l6.4 6.4m0 -6.4l-6.4 6.4M520.6 796.4l6.4 6.4m0 -6.4l-6.4 6.4M518.8 800.3l6.4 6.4m0 -6.4l-6.4 6.4M518.1 806.1l6.4 6.4m0 -6.4l-6.4 6.4M518.7 810.4l6.4 6.4m0 -6.4l-6.4 6.4M517.2 815.9l6.4 6.4m0 -6.4l-6.4 6.4M515.7 820.1l6.4 6.4m0 -6.4l-6.4 6.4M516.7 821.8l6.4 6.4m0 -6.4l-6.4 6.4M516 820.3l6.4 6.4m0 -6.4l-6.4 6.4M517.5 819.6l6.4 6.4m0 -6.4l-6.4 6.4M516.8 822.1l6.4 6.4m0 -6.4l-6.4 6.4M515.7 821.6l6.4 6.4m0 -6.4l-6.4 6.4M513.4 827l6.4 6.4m0 -6.4l-6.4 6.4M510.5 830.3l6.4 6.4m0 -6.4l-6.4 6.4M505.3 832.7l6.4 6.4m0 -6.4l-6.4 6.4M502.7 838.7l6.4 6.4m0 -6.4l-6.4 6.4M505.3 840.6l6.4 6.4m0 -6.4l-6.4 6.4M504.3 846.8l6.4 6.4m0 -6.4l-6.4 6.4M502.4 850.8l6.4 6.4m0 -6.4l-6.4 6.4M507.8 856.6l6.4 6.4m0 -6.4l-6.4 6.4M509.3 861.8l6.4 6.4m0 -6.4l-6.4 6.4M512.4 865.9l6.4 6.4m0 -6.4l-6.4 6.4M510.6 804.6l6.4 6.4m0 -6.4l-6.4 6.4M695.9 708.7l6.4 6.4m0 -6.4l-6.4 6.4M693.6 711.8l6.4 6.4m0 -6.4l-6.4 6.4M600.7 721l6.4 6.4m0 -6.4l-6.4 6.4M679.3 624l6.4 6.4m0 -6.4l-6.4 6.4M660.1 648.6l6.4 6.4m0 -6.4l-6.4 6.4M615.8 700.2l6.4 6.4m0 -6.4l-6.4 6.4M667.8 637.6l6.4 6.4m0 -6.4l-6.4 6.4M659.4 647.4l6.4 6.4m0 -6.4l-6.4 6.4M665.9 640.4l6.4 6.4m0 -6.4l-6.4 6.4M726.4 603.3l6.4 6.4m0 -6.4l-6.4 6.4M725.6 599.4l6.4 6.4m0 -6.4l-6.4 6.4M511.3 818.8l6.4 6.4m0 -6.4l-6.4 6.4M716 588.7l6.4 6.4m0 -6.4l-6.4 6.4M627 807.9l6.4 6.4m0 -6.4l-6.4 6.4M654.9 658.1l6.4 6.4m0 -6.4l-6.4 6.4M521.9 773.3l6.4 6.4m0 -6.4l-6.4 6.4M543.5 750.2l6.4 6.4m0 -6.4l-6.4 6.4M615.7 818.3l6.4 6.4m0 -6.4l-6.4 6.4M710.6 686.6l6.4 6.4m0 -6.4l-6.4 6.4M714 616.2l6.4 6.4m0 -6.4l-6.4 6.4M509.4 867.7l6.4 6.4m0 -6.4l-6.4 6.4M729.4 601.4l6.4 6.4m0 -6.4l-6.4 6.4M615.8 822.1l6.4 6.4m0 -6.4l-6.4 6.4M716.6 585.2l6.4 6.4m0 -6.4l-6.4 6.4M700.9 695l6.4 6.4m0 -6.4l-6.4 6.4M639.1 787.4l6.4 6.4m0 -6.4l-6.4 6.4M628.9 802.8l6.4 6.4m0 -6.4l-6.4 6.4M693.7 710.3l6.4 6.4m0 -6.4l-6.4 6.4M579.9 854l6.4 6.4m0 -6.4l-6.4 6.4M638.8 790.5l6.4 6.4m0 -6.4l-6.4 6.4M663.9 639.5l6.4 6.4m0 -6.4l-6.4 6.4M712.5 625.5l6.4 6.4m0 -6.4l-6.4 6.4M681.6 728.6l6.4 6.4m0 -6.4l-6.4 6.4M556.4 744.4l6.4 6.4m0 -6.4l-6.4 6.4M687.7 617.4l6.4 6.4m0 -6.4l-6.4 6.4M499.9 849.5l6.4 6.4m0 -6.4l-6.4 6.4M640.1 669.9l6.4 6.4m0 -6.4l-6.4 6.4M592.3 726.3l6.4 6.4m0 -6.4l-6.4 6.4M737.8 589.7l6.4 6.4m0 -6.4l-6.4 6.4M530 868.2l6.4 6.4m0 -6.4l-6.4 6.4M721.3 609.7l6.4 6.4m0 -6.4l-6.4 6.4M727.4 602.7l6.4 6.4m0 -6.4l-6.4 6.4M734.5 593.7l6.4 6.4m0 -6.4l-6.4 6.4M639.9 674.7l6.4 6.4m0 -6.4l-6.4 6.4M542.3 866.8l6.4 6.4m0 -6.4l-6.4 6.4M586.3 731.3l6.4 6.4m0 -6.4l-6.4 6.4M646 778.3l6.4 6.4m0 -6.4l-6.4 6.4M584.6 849.7l6.4 6.4m0 -6.4l-6.4 6.4M692.7 613.4l6.4 6.4m0 -6.4l-6.4 6.4M616.9 697.2l6.4 6.4m0 -6.4l-6.4 6.4M628.7 689.1l6.4 6.4m0 -6.4l-6.4 6.4M510.5 870.6l6.4 6.4m0 -6.4l-6.4 6.4M611.8 825.5l6.4 6.4m0 -6.4l-6.4 6.4M516.7 870.9l6.4 6.4m0 -6.4l-6.4 6.4M775.4 528.3l6.4 6.4m0 -6.4l-6.4 6.4M779.5 530.3l6.4 6.4m0 -6.4l-6.4 6.4M765.2 549.7l6.4 6.4m0 -6.4l-6.4 6.4M760.1 562.9l6.4 6.4m0 -6.4l-6.4 6.4M742.8 571.1l6.4 6.4m0 -6.4l-6.4 6.4M746.9 572.1l6.4 6.4m0 -6.4l-6.4 6.4M736.7 569l6.4 6.4m0 -6.4l-6.4 6.4M693.9 744.3l6.4 6.4m0 -6.4l-6.4 6.4M678.6 732l6.4 6.4m0 -6.4l-6.4 6.4M694.9 709.6l6.4 6.4m0 -6.4l-6.4 6.4M708.2 690.3l6.4 6.4m0 -6.4l-6.4 6.4M725.5 637.3l6.4 6.4m0 -6.4l-6.4 6.4M728.6 642.4l6.4 6.4m0 -6.4l-6.4 6.4M655.2 773.8l6.4 6.4m0 -6.4l-6.4 6.4M658.3 769.7l6.4 6.4m0 -6.4l-6.4 6.4M621.6 814.6l6.4 6.4m0 -6.4l-6.4 6.4M612.4 833.9l6.4 6.4m0 -6.4l-6.4 6.4M545.2 865.5l6.4 6.4m0 -6.4l-6.4 6.4M530.9 865.5l6.4 6.4m0 -6.4l-6.4 6.4M513.6 869.6l6.4 6.4m0 -6.4l-6.4 6.4M503.4 832.9l6.4 6.4m0 -6.4l-6.4 6.4M539.1 755.5l6.4 6.4m0 -6.4l-6.4 6.4" stroke="#000" stroke-width="3.2" stroke-linecap="round" fill="none"/><line x1="481.8" y1="686" x2="481.8" y2="870" stroke="#000" stroke-width="4"/><path d="M477.5 676.8l6.4 6.4m0 -6.4l-6.4 6.4M477.5 880.8l6.4 6.4m0 -6.4l-6.4 6.4M477.5 906.8l6.4 6.4m0 -6.4l-6.4 6.4" stroke="#000" stroke-width="3.2" stroke-linecap="round" fill="none"/><line x1="489" y1="938.6" x2="658" y2="938.6" stroke="#000" stroke-width="4"/><path d="M660.8 936.6l6.4 6.4m0 -6.4l-6.4 6.4M479 935.6l6.4 6.4m0 -6.4l-6.4 6.4" stroke="#000" stroke-width="3.2" stroke-linecap="round" fill="none"/><line x1="462.7" y1="912.2" x2="814.1" y2="488.1" stroke="#d46a38" stroke-width="3.7"/></g><rect x="480.2" y="512.2" width="318.8" height="428.6" fill="none" stroke="#333" stroke-width="2.2"/><text x="491.5" y="541.2" fill="#0e4f95">Positives: 655</text><line x1="550.5" y1="941.7" x2="550.5" y2="953.8" stroke="#333" stroke-width="3.2"/><line x1="625.8" y1="941.7" x2="625.8" y2="953.8" stroke="#333" stroke-width="3.2"/><line x1="701.1" y1="941.7" x2="701.1" y2="953.8" stroke="#333" stroke-width="3.2"/><line x1="776.5" y1="941.7" x2="776.5" y2="953.8" stroke="#333" stroke-width="3.2"/><text transform="translate(553.5 982) rotate(-45)" y="10.2" text-anchor="middle">0.25</text><text transform="translate(628.8 973.4) rotate(-45)" y="10.2" text-anchor="middle">16</text><text transform="translate(704.1 987.7) rotate(-45)" y="10.2" text-anchor="middle">1,024</text><text transform="translate(779.5 993.4) rotate(-45)" y="10.2" text-anchor="middle">65,536</text><g clip-path="url(#ca20)"><path d="M823.8 79H1142.3M823.8 124.5H1142.3M823.8 169.9H1142.3M823.8 215.4H1142.3M823.8 260.8H1142.3M823.8 306.2H1142.3M823.8 351.7H1142.3M823.8 397.2H1142.3M823.8 442.6H1142.3" stroke="#e6e6e6" stroke-width="3.3" fill="none"/><path d="M856.3 58V487.6M893.9 58V487.6M931.6 58V487.6M969.2 58V487.6M1006.9 58V487.6M1044.5 58V487.6M1082.2 58V487.6M1119.8 58V487.6" stroke="#e6e6e6" stroke-width="3.3" fill="none"/><polygon points="886.3,290.4 904.6,280.2 912.8,266 931.1,253.7 943.3,243.6 955.5,227.3 971.8,213 986.1,196.7 996.3,186.5 1010.6,170.2 1026.9,153.9 1041.1,141.7 1055.4,129.5 1067.6,115.2 1079.8,100.9 1091.7,112.9 939.7,296.4" fill="#9ecae1"/><path d="M892.5 286.8l6.4 6.4m0 -6.4l-6.4 6.4M897.9 286.8l6.4 6.4m0 -6.4l-6.4 6.4M902.8 286l6.4 6.4m0 -6.4l-6.4 6.4M908.4 287.6l6.4 6.4m0 -6.4l-6.4 6.4M912.2 286.7l6.4 6.4m0 -6.4l-6.4 6.4M915.3 288.2l6.4 6.4m0 -6.4l-6.4 6.4M922.1 289.4l6.4 6.4m0 -6.4l-6.4 6.4M925.3 287.8l6.4 6.4m0 -6.4l-6.4 6.4M930.6 290.7l6.4 6.4m0 -6.4l-6.4 6.4M934.2 290.8l6.4 6.4m0 -6.4l-6.4 6.4M937.1 285.9l6.4 6.4m0 -6.4l-6.4 6.4M939.7 282.3l6.4 6.4m0 -6.4l-6.4 6.4M943.7 281l6.4 6.4m0 -6.4l-6.4 6.4M948.4 274.9l6.4 6.4m0 -6.4l-6.4 6.4M949.3 273.8l6.4 6.4m0 -6.4l-6.4 6.4M951.9 268.3l6.4 6.4m0 -6.4l-6.4 6.4M955.5 264.1l6.4 6.4m0 -6.4l-6.4 6.4M957.9 261.5l6.4 6.4m0 -6.4l-6.4 6.4M961.2 259.8l6.4 6.4m0 -6.4l-6.4 6.4M963.8 253.8l6.4 6.4m0 -6.4l-6.4 6.4M968.8 251l6.4 6.4m0 -6.4l-6.4 6.4M971.5 248.1l6.4 6.4m0 -6.4l-6.4 6.4M974.2 243.6l6.4 6.4m0 -6.4l-6.4 6.4M975.1 241.4l6.4 6.4m0 -6.4l-6.4 6.4M979.1 237.3l6.4 6.4m0 -6.4l-6.4 6.4M982.6 234.4l6.4 6.4m0 -6.4l-6.4 6.4M984.3 229.6l6.4 6.4m0 -6.4l-6.4 6.4M989.3 226.6l6.4 6.4m0 -6.4l-6.4 6.4M990.2 223.4l6.4 6.4m0 -6.4l-6.4 6.4M993 220.3l6.4 6.4m0 -6.4l-6.4 6.4M995.2 216.9l6.4 6.4m0 -6.4l-6.4 6.4M999.8 211.9l6.4 6.4m0 -6.4l-6.4 6.4M1004 208.1l6.4 6.4m0 -6.4l-6.4 6.4M1004.7 203.9l6.4 6.4m0 -6.4l-6.4 6.4M1008.6 202.6l6.4 6.4m0 -6.4l-6.4 6.4M1011.9 197.9l6.4 6.4m0 -6.4l-6.4 6.4M1015.3 193.4l6.4 6.4m0 -6.4l-6.4 6.4M1016.6 191.6l6.4 6.4m0 -6.4l-6.4 6.4M1021.6 188.1l6.4 6.4m0 -6.4l-6.4 6.4M1023.7 185l6.4 6.4m0 -6.4l-6.4 6.4M1025.6 182l6.4 6.4m0 -6.4l-6.4 6.4M1029.7 176.5l6.4 6.4m0 -6.4l-6.4 6.4M1031.5 174.5l6.4 6.4m0 -6.4l-6.4 6.4M1034.3 169l6.4 6.4m0 -6.4l-6.4 6.4M1038.9 166.5l6.4 6.4m0 -6.4l-6.4 6.4M1040.7 163.4l6.4 6.4m0 -6.4l-6.4 6.4M1044.8 158.2l6.4 6.4m0 -6.4l-6.4 6.4M1045.9 154.4l6.4 6.4m0 -6.4l-6.4 6.4M1049.1 152.3l6.4 6.4m0 -6.4l-6.4 6.4M1053.4 149.3l6.4 6.4m0 -6.4l-6.4 6.4M1055.5 144.9l6.4 6.4m0 -6.4l-6.4 6.4M1058.4 141l6.4 6.4m0 -6.4l-6.4 6.4M1062.2 139.1l6.4 6.4m0 -6.4l-6.4 6.4M1065.1 133.5l6.4 6.4m0 -6.4l-6.4 6.4M1067.5 131.9l6.4 6.4m0 -6.4l-6.4 6.4M1069.9 128.9l6.4 6.4m0 -6.4l-6.4 6.4M1074.1 124.8l6.4 6.4m0 -6.4l-6.4 6.4M1076.7 121l6.4 6.4m0 -6.4l-6.4 6.4M1079.9 115.8l6.4 6.4m0 -6.4l-6.4 6.4M1082.2 114.1l6.4 6.4m0 -6.4l-6.4 6.4M1084.9 109.2l6.4 6.4m0 -6.4l-6.4 6.4M1079.3 106.4l6.4 6.4m0 -6.4l-6.4 6.4M1077.8 101.4l6.4 6.4m0 -6.4l-6.4 6.4M1072.5 105.2l6.4 6.4m0 -6.4l-6.4 6.4M1068.8 110.6l6.4 6.4m0 -6.4l-6.4 6.4M1068.2 114.9l6.4 6.4m0 -6.4l-6.4 6.4M1063.2 118.2l6.4 6.4m0 -6.4l-6.4 6.4M1059.2 122.2l6.4 6.4m0 -6.4l-6.4 6.4M1057 123.1l6.4 6.4m0 -6.4l-6.4 6.4M1054.9 127.1l6.4 6.4m0 -6.4l-6.4 6.4M1053.6 127l6.4 6.4m0 -6.4l-6.4 6.4M1054 128.7l6.4 6.4m0 -6.4l-6.4 6.4M1051.6 130.1l6.4 6.4m0 -6.4l-6.4 6.4M1048.1 133.4l6.4 6.4m0 -6.4l-6.4 6.4M1042.6 138.1l6.4 6.4m0 -6.4l-6.4 6.4M1039.4 140.2l6.4 6.4m0 -6.4l-6.4 6.4M1036.6 142.9l6.4 6.4m0 -6.4l-6.4 6.4M1033.7 145.9l6.4 6.4m0 -6.4l-6.4 6.4M1030.3 150.9l6.4 6.4m0 -6.4l-6.4 6.4M1025.8 151.4l6.4 6.4m0 -6.4l-6.4 6.4M1023.4 154.6l6.4 6.4m0 -6.4l-6.4 6.4M1019.3 159.1l6.4 6.4m0 -6.4l-6.4 6.4M1014.6 163l6.4 6.4m0 -6.4l-6.4 6.4M1013.5 166.1l6.4 6.4m0 -6.4l-6.4 6.4M1009.2 169.1l6.4 6.4m0 -6.4l-6.4 6.4M1006.3 172.2l6.4 6.4m0 -6.4l-6.4 6.4M1003.6 178.8l6.4 6.4m0 -6.4l-6.4 6.4M999.9 182.7l6.4 6.4m0 -6.4l-6.4 6.4M994.8 186.8l6.4 6.4m0 -6.4l-6.4 6.4M993.8 185.4l6.4 6.4m0 -6.4l-6.4 6.4M990.7 188.7l6.4 6.4m0 -6.4l-6.4 6.4M989.1 192.8l6.4 6.4m0 -6.4l-6.4 6.4M985 195l6.4 6.4m0 -6.4l-6.4 6.4M980.6 199.3l6.4 6.4m0 -6.4l-6.4 6.4M977.3 202.7l6.4 6.4m0 -6.4l-6.4 6.4M975.2 207.8l6.4 6.4m0 -6.4l-6.4 6.4M970.7 210.8l6.4 6.4m0 -6.4l-6.4 6.4M971.3 211.1l6.4 6.4m0 -6.4l-6.4 6.4M965.9 215.8l6.4 6.4m0 -6.4l-6.4 6.4M963.2 220.6l6.4 6.4m0 -6.4l-6.4 6.4M959.4 224l6.4 6.4m0 -6.4l-6.4 6.4M955.9 226.8l6.4 6.4m0 -6.4l-6.4 6.4M952.3 228.7l6.4 6.4m0 -6.4l-6.4 6.4M947.6 232.6l6.4 6.4m0 -6.4l-6.4 6.4M946.7 238.9l6.4 6.4m0 -6.4l-6.4 6.4M942.9 241.4l6.4 6.4m0 -6.4l-6.4 6.4M941.8 241.4l6.4 6.4m0 -6.4l-6.4 6.4M942.5 244.2l6.4 6.4m0 -6.4l-6.4 6.4M937.3 244.6l6.4 6.4m0 -6.4l-6.4 6.4M932.9 249l6.4 6.4m0 -6.4l-6.4 6.4M931.1 253.8l6.4 6.4m0 -6.4l-6.4 6.4M929.4 251.8l6.4 6.4m0 -6.4l-6.4 6.4M923.9 254.9l6.4 6.4m0 -6.4l-6.4 6.4M921.6 258.9l6.4 6.4m0 -6.4l-6.4 6.4M917.8 263.2l6.4 6.4m0 -6.4l-6.4 6.4M912.8 264.8l6.4 6.4m0 -6.4l-6.4 6.4M910.2 268.2l6.4 6.4m0 -6.4l-6.4 6.4M905.4 274.2l6.4 6.4m0 -6.4l-6.4 6.4M904 277.6l6.4 6.4m0 -6.4l-6.4 6.4M903.1 277.2l6.4 6.4m0 -6.4l-6.4 6.4M905 279.6l6.4 6.4m0 -6.4l-6.4 6.4M904.9 280.7l6.4 6.4m0 -6.4l-6.4 6.4M903.1 280.1l6.4 6.4m0 -6.4l-6.4 6.4M902.7 280.5l6.4 6.4m0 -6.4l-6.4 6.4M904 278.5l6.4 6.4m0 -6.4l-6.4 6.4M896.2 281.6l6.4 6.4m0 -6.4l-6.4 6.4M893 284.9l6.4 6.4m0 -6.4l-6.4 6.4M1076.6 96.7l6.4 6.4m0 -6.4l-6.4 6.4M884.1 286.2l6.4 6.4m0 -6.4l-6.4 6.4" stroke="#9ecae1" stroke-width="3.2" stroke-linecap="round" fill="none"/><path d="M924.8 281.1l6.4 6.4m0 -6.4l-6.4 6.4M927.9 284.2l6.4 6.4m0 -6.4l-6.4 6.4M936 267.9l6.4 6.4m0 -6.4l-6.4 6.4M958.5 243.4l6.4 6.4m0 -6.4l-6.4 6.4M961.5 245.5l6.4 6.4m0 -6.4l-6.4 6.4M980.9 215.9l6.4 6.4m0 -6.4l-6.4 6.4M1008.4 187.4l6.4 6.4m0 -6.4l-6.4 6.4M1075.6 106.9l6.4 6.4m0 -6.4l-6.4 6.4M924.9 290.1l6.4 6.4m0 -6.4l-6.4 6.4M914.6 297.2l6.4 6.4m0 -6.4l-6.4 6.4M974.8 229.8l6.4 6.4m0 -6.4l-6.4 6.4M946.7 254.5l6.4 6.4m0 -6.4l-6.4 6.4M927.8 287.1l6.4 6.4m0 -6.4l-6.4 6.4M1003.1 201.2l6.4 6.4m0 -6.4l-6.4 6.4M1005.3 202.6l6.4 6.4m0 -6.4l-6.4 6.4M1001.4 202.9l6.4 6.4m0 -6.4l-6.4 6.4M955 261.2l6.4 6.4m0 -6.4l-6.4 6.4" stroke="#08519c" stroke-width="3.2" stroke-linecap="round" fill="none"/><polygon points="853.4,431 857.4,431 877.3,423.1 897.6,412.9 921.6,400.9 931.4,385.1 931.6,384.9 941.7,372.8 953.9,354.5 953.9,354.4 966,338.4 972,322.3 972.1,322.1 972.2,322 972.3,321.8 984.4,305.7 992.5,289.5 992.6,289.3 992.7,289.1 1005,274.9 1005,274.8 1019.2,258.5 1019.4,258.4 1035.3,244.5 1039.2,228.8 1039.2,228.6 1039.3,228.4 1047.5,212.1 1047.6,212 1059.8,191.6 1059.8,191.6 1069.5,176.1 1063.7,160.7 1063.6,160.5 1063.6,160.3 1063.6,160.1 1063.6,159.9 1063.6,159.7 1063.6,159.5 1067.7,143.2 1067.8,143.1 1067.8,142.9 1067.9,142.8 1081.7,117 1081,114.8 1075.2,120.6 1063.1,136.8 1062.9,137 1044.6,155.3 1026.4,175.5 1010.2,197.8 998,218.1 997.9,218.3 981.6,238.7 981.5,238.8 965.2,257.1 965.1,257.2 948.9,273.4 932.7,293.7 932.5,293.9 932.4,294 932.2,294.1 932.1,294.2 931.9,294.3 931.7,294.4 931.5,294.4 931.3,294.4 931.2,294.5 931,294.5 930.8,294.4 918.6,292.4 897.1,290.5 887.8,297.9 878,313.6 874,329.6 873.9,329.8 867.8,346.1 867.7,346.3 867.6,346.5 867.5,346.6 867.4,346.7 855.7,360.4 855.7,376 855.7,376.2 855.6,376.4 855.6,376.6 855.5,376.8 855.4,376.9 855.3,377.1 855.2,377.3 855.1,377.4 846.5,386.1 857,394.8 857.1,395 857.3,395.1 857.4,395.3 857.5,395.5 857.6,395.6 857.6,395.8 857.7,396 857.7,396.2 857.7,396.4 857.7,396.6 857.7,396.8 857.6,397 851.6,414.9 853.4,431" fill="#000"/><path d="M852.1 426.7l6.4 6.4m0 -6.4l-6.4 6.4M854.4 427.1l6.4 6.4m0 -6.4l-6.4 6.4M857.5 422.8l6.4 6.4m0 -6.4l-6.4 6.4M862.2 422l6.4 6.4m0 -6.4l-6.4 6.4M867.1 421.2l6.4 6.4m0 -6.4l-6.4 6.4M873.6 417l6.4 6.4m0 -6.4l-6.4 6.4M876.1 416.6l6.4 6.4m0 -6.4l-6.4 6.4M882.3 414.9l6.4 6.4m0 -6.4l-6.4 6.4M885.6 413.6l6.4 6.4m0 -6.4l-6.4 6.4M891.1 410.1l6.4 6.4m0 -6.4l-6.4 6.4M895 407.5l6.4 6.4m0 -6.4l-6.4 6.4M898 406.6l6.4 6.4m0 -6.4l-6.4 6.4M902 405.2l6.4 6.4m0 -6.4l-6.4 6.4M909.1 402.5l6.4 6.4m0 -6.4l-6.4 6.4M912.4 398.3l6.4 6.4m0 -6.4l-6.4 6.4M916.2 396.1l6.4 6.4m0 -6.4l-6.4 6.4M920.6 391.3l6.4 6.4m0 -6.4l-6.4 6.4M921.1 388.3l6.4 6.4m0 -6.4l-6.4 6.4M923.9 385.4l6.4 6.4m0 -6.4l-6.4 6.4M928.1 379.6l6.4 6.4m0 -6.4l-6.4 6.4M925.8 381.6l6.4 6.4m0 -6.4l-6.4 6.4M931.1 376l6.4 6.4m0 -6.4l-6.4 6.4M933.1 371.1l6.4 6.4m0 -6.4l-6.4 6.4M937.2 369.7l6.4 6.4m0 -6.4l-6.4 6.4M938.8 363.2l6.4 6.4m0 -6.4l-6.4 6.4M941.9 359.8l6.4 6.4m0 -6.4l-6.4 6.4M944.8 354.3l6.4 6.4m0 -6.4l-6.4 6.4M948.6 351.9l6.4 6.4m0 -6.4l-6.4 6.4M951 349.8l6.4 6.4m0 -6.4l-6.4 6.4M952.6 345.2l6.4 6.4m0 -6.4l-6.4 6.4M955 343.1l6.4 6.4m0 -6.4l-6.4 6.4M958 337.2l6.4 6.4m0 -6.4l-6.4 6.4M961.9 335.6l6.4 6.4m0 -6.4l-6.4 6.4M964.8 328l6.4 6.4m0 -6.4l-6.4 6.4M966.2 325.3l6.4 6.4m0 -6.4l-6.4 6.4M965.7 319.1l6.4 6.4m0 -6.4l-6.4 6.4M968.8 319.1l6.4 6.4m0 -6.4l-6.4 6.4M968.8 317.1l6.4 6.4m0 -6.4l-6.4 6.4M969.1 316.9l6.4 6.4m0 -6.4l-6.4 6.4M969.1 312.3l6.4 6.4m0 -6.4l-6.4 6.4M973.4 309.2l6.4 6.4m0 -6.4l-6.4 6.4M976.1 305.5l6.4 6.4m0 -6.4l-6.4 6.4M979.8 300.3l6.4 6.4m0 -6.4l-6.4 6.4M982.7 296.3l6.4 6.4m0 -6.4l-6.4 6.4M984.8 290.9l6.4 6.4m0 -6.4l-6.4 6.4M989.3 287l6.4 6.4m0 -6.4l-6.4 6.4M987.8 283.7l6.4 6.4m0 -6.4l-6.4 6.4M987.3 284.1l6.4 6.4m0 -6.4l-6.4 6.4M991.2 280.4l6.4 6.4m0 -6.4l-6.4 6.4M993.9 276.2l6.4 6.4m0 -6.4l-6.4 6.4M997.5 274.1l6.4 6.4m0 -6.4l-6.4 6.4M999.6 271l6.4 6.4m0 -6.4l-6.4 6.4M1002.3 272l6.4 6.4m0 -6.4l-6.4 6.4M1003.7 265l6.4 6.4m0 -6.4l-6.4 6.4M1007.5 260.9l6.4 6.4m0 -6.4l-6.4 6.4M1011.3 258.4l6.4 6.4m0 -6.4l-6.4 6.4M1014.2 252.9l6.4 6.4m0 -6.4l-6.4 6.4M1015.1 253.8l6.4 6.4m0 -6.4l-6.4 6.4M1020.6 251.5l6.4 6.4m0 -6.4l-6.4 6.4M1021.7 248.2l6.4 6.4m0 -6.4l-6.4 6.4M1027.2 242.4l6.4 6.4m0 -6.4l-6.4 6.4M1029.9 241.4l6.4 6.4m0 -6.4l-6.4 6.4M1030.4 236.1l6.4 6.4m0 -6.4l-6.4 6.4M1033.1 229.5l6.4 6.4m0 -6.4l-6.4 6.4M1034.5 225.7l6.4 6.4m0 -6.4l-6.4 6.4M1035.6 226.2l6.4 6.4m0 -6.4l-6.4 6.4M1035.2 225.1l6.4 6.4m0 -6.4l-6.4 6.4M1035.2 220.9l6.4 6.4m0 -6.4l-6.4 6.4M1039.7 216.9l6.4 6.4m0 -6.4l-6.4 6.4M1039.6 211.8l6.4 6.4m0 -6.4l-6.4 6.4M1042.5 209.5l6.4 6.4m0 -6.4l-6.4 6.4M1042.4 206.4l6.4 6.4m0 -6.4l-6.4 6.4M1046.6 204.4l6.4 6.4m0 -6.4l-6.4 6.4M1048.4 200.5l6.4 6.4m0 -6.4l-6.4 6.4M1048.7 195.6l6.4 6.4m0 -6.4l-6.4 6.4M1053.5 191.5l6.4 6.4m0 -6.4l-6.4 6.4M1056.4 186.8l6.4 6.4m0 -6.4l-6.4 6.4M1056.9 188.7l6.4 6.4m0 -6.4l-6.4 6.4M1057.7 182l6.4 6.4m0 -6.4l-6.4 6.4M1060.4 176.2l6.4 6.4m0 -6.4l-6.4 6.4M1062.9 171.6l6.4 6.4m0 -6.4l-6.4 6.4M1062.2 167.8l6.4 6.4m0 -6.4l-6.4 6.4M1059.4 162.5l6.4 6.4m0 -6.4l-6.4 6.4M1060.2 158.9l6.4 6.4m0 -6.4l-6.4 6.4M1059.5 156.8l6.4 6.4m0 -6.4l-6.4 6.4M1060.2 156.3l6.4 6.4m0 -6.4l-6.4 6.4M1058.7 156.4l6.4 6.4m0 -6.4l-6.4 6.4M1059.7 155.9l6.4 6.4m0 -6.4l-6.4 6.4M1060.4 157.2l6.4 6.4m0 -6.4l-6.4 6.4M1057.3 154.9l6.4 6.4m0 -6.4l-6.4 6.4M1059.9 151.2l6.4 6.4m0 -6.4l-6.4 6.4M1061.8 146l6.4 6.4m0 -6.4l-6.4 6.4M1062.1 140.8l6.4 6.4m0 -6.4l-6.4 6.4M1061.9 140.4l6.4 6.4m0 -6.4l-6.4 6.4M1063.5 139l6.4 6.4m0 -6.4l-6.4 6.4M1063.4 138.4l6.4 6.4m0 -6.4l-6.4 6.4M1064.9 134.5l6.4 6.4m0 -6.4l-6.4 6.4M1067.4 129.5l6.4 6.4m0 -6.4l-6.4 6.4M1072 127l6.4 6.4m0 -6.4l-6.4 6.4M1071.8 120.2l6.4 6.4m0 -6.4l-6.4 6.4M1076.3 115.1l6.4 6.4m0 -6.4l-6.4 6.4M1073 117l6.4 6.4m0 -6.4l-6.4 6.4M1071.3 123.4l6.4 6.4m0 -6.4l-6.4 6.4M1066.4 126.7l6.4 6.4m0 -6.4l-6.4 6.4M1063.3 129.3l6.4 6.4m0 -6.4l-6.4 6.4M1062 136.1l6.4 6.4m0 -6.4l-6.4 6.4M1061.6 133.5l6.4 6.4m0 -6.4l-6.4 6.4M1057 139.7l6.4 6.4m0 -6.4l-6.4 6.4M1055.1 143.6l6.4 6.4m0 -6.4l-6.4 6.4M1048.4 146.7l6.4 6.4m0 -6.4l-6.4 6.4M1045.1 148.3l6.4 6.4m0 -6.4l-6.4 6.4M1041.1 152.8l6.4 6.4m0 -6.4l-6.4 6.4M1038.9 157.1l6.4 6.4m0 -6.4l-6.4 6.4M1037.2 160.2l6.4 6.4m0 -6.4l-6.4 6.4M1033.3 163.3l6.4 6.4m0 -6.4l-6.4 6.4M1030.6 167.2l6.4 6.4m0 -6.4l-6.4 6.4M1027 170.1l6.4 6.4m0 -6.4l-6.4 6.4M1024.6 173.1l6.4 6.4m0 -6.4l-6.4 6.4M1022.1 176.2l6.4 6.4m0 -6.4l-6.4 6.4M1018.7 182l6.4 6.4m0 -6.4l-6.4 6.4M1017.9 184.9l6.4 6.4m0 -6.4l-6.4 6.4M1013.4 189.7l6.4 6.4m0 -6.4l-6.4 6.4M1010.2 192.9l6.4 6.4m0 -6.4l-6.4 6.4M1009 194l6.4 6.4m0 -6.4l-6.4 6.4M1006.5 198.6l6.4 6.4m0 -6.4l-6.4 6.4M1002.9 205l6.4 6.4m0 -6.4l-6.4 6.4M1000.9 207.1l6.4 6.4m0 -6.4l-6.4 6.4M999.5 213.2l6.4 6.4m0 -6.4l-6.4 6.4M997.5 215.6l6.4 6.4m0 -6.4l-6.4 6.4M995.3 217.7l6.4 6.4m0 -6.4l-6.4 6.4M994.3 218.8l6.4 6.4m0 -6.4l-6.4 6.4M991 224.4l6.4 6.4m0 -6.4l-6.4 6.4M985.8 227.1l6.4 6.4m0 -6.4l-6.4 6.4M983.7 232l6.4 6.4m0 -6.4l-6.4 6.4M980.3 236.1l6.4 6.4m0 -6.4l-6.4 6.4M979.5 236.2l6.4 6.4m0 -6.4l-6.4 6.4M977.9 240.8l6.4 6.4m0 -6.4l-6.4 6.4M974.3 242.7l6.4 6.4m0 -6.4l-6.4 6.4M969.7 249l6.4 6.4m0 -6.4l-6.4 6.4M966.8 251.8l6.4 6.4m0 -6.4l-6.4 6.4M963.1 254.8l6.4 6.4m0 -6.4l-6.4 6.4M962.5 255.3l6.4 6.4m0 -6.4l-6.4 6.4M959.3 259.2l6.4 6.4m0 -6.4l-6.4 6.4M956 262.7l6.4 6.4m0 -6.4l-6.4 6.4M954 265.4l6.4 6.4m0 -6.4l-6.4 6.4M951.1 267.7l6.4 6.4m0 -6.4l-6.4 6.4M945.6 271.7l6.4 6.4m0 -6.4l-6.4 6.4M942.9 275.5l6.4 6.4m0 -6.4l-6.4 6.4M939.4 278.5l6.4 6.4m0 -6.4l-6.4 6.4M937.5 284.3l6.4 6.4m0 -6.4l-6.4 6.4M933.5 288.7l6.4 6.4m0 -6.4l-6.4 6.4M931.2 290.4l6.4 6.4m0 -6.4l-6.4 6.4M929 291.6l6.4 6.4m0 -6.4l-6.4 6.4M930.8 292.9l6.4 6.4m0 -6.4l-6.4 6.4M928.4 293.6l6.4 6.4m0 -6.4l-6.4 6.4M930 292.1l6.4 6.4m0 -6.4l-6.4 6.4M929.6 291l6.4 6.4m0 -6.4l-6.4 6.4M930 293.8l6.4 6.4m0 -6.4l-6.4 6.4M927.3 291.9l6.4 6.4m0 -6.4l-6.4 6.4M927.2 291.7l6.4 6.4m0 -6.4l-6.4 6.4M929.4 293.8l6.4 6.4m0 -6.4l-6.4 6.4M926.8 291.2l6.4 6.4m0 -6.4l-6.4 6.4M925.9 291.4l6.4 6.4m0 -6.4l-6.4 6.4M920.2 291.7l6.4 6.4m0 -6.4l-6.4 6.4M913.8 290.3l6.4 6.4m0 -6.4l-6.4 6.4M909.3 291.2l6.4 6.4m0 -6.4l-6.4 6.4M906.1 289.3l6.4 6.4m0 -6.4l-6.4 6.4M901 288.6l6.4 6.4m0 -6.4l-6.4 6.4M893.6 287.4l6.4 6.4m0 -6.4l-6.4 6.4M888.6 293.9l6.4 6.4m0 -6.4l-6.4 6.4M884.6 297l6.4 6.4m0 -6.4l-6.4 6.4M882.8 299.6l6.4 6.4m0 -6.4l-6.4 6.4M879.8 303.8l6.4 6.4m0 -6.4l-6.4 6.4M880.3 308.3l6.4 6.4m0 -6.4l-6.4 6.4M877.1 312.2l6.4 6.4m0 -6.4l-6.4 6.4M874.7 315.6l6.4 6.4m0 -6.4l-6.4 6.4M872 320.9l6.4 6.4m0 -6.4l-6.4 6.4M870.9 326.7l6.4 6.4m0 -6.4l-6.4 6.4M870.7 326l6.4 6.4m0 -6.4l-6.4 6.4M871.1 332.5l6.4 6.4m0 -6.4l-6.4 6.4M868 339.1l6.4 6.4m0 -6.4l-6.4 6.4M866.5 344.6l6.4 6.4m0 -6.4l-6.4 6.4M865.9 343.6l6.4 6.4m0 -6.4l-6.4 6.4M864.1 345.5l6.4 6.4m0 -6.4l-6.4 6.4M864.7 345.5l6.4 6.4m0 -6.4l-6.4 6.4M865.3 345.4l6.4 6.4m0 -6.4l-6.4 6.4M861.7 349.1l6.4 6.4m0 -6.4l-6.4 6.4M857.3 351.9l6.4 6.4m0 -6.4l-6.4 6.4M853.2 356.2l6.4 6.4m0 -6.4l-6.4 6.4M854.1 361.8l6.4 6.4m0 -6.4l-6.4 6.4M854.8 367.7l6.4 6.4m0 -6.4l-6.4 6.4M853 371.7l6.4 6.4m0 -6.4l-6.4 6.4M855.7 374.8l6.4 6.4m0 -6.4l-6.4 6.4M855.4 372.2l6.4 6.4m0 -6.4l-6.4 6.4M852.4 373.7l6.4 6.4m0 -6.4l-6.4 6.4M853.3 374.9l6.4 6.4m0 -6.4l-6.4 6.4M854.3 375.2l6.4 6.4m0 -6.4l-6.4 6.4M854.5 374.4l6.4 6.4m0 -6.4l-6.4 6.4M853.3 374.4l6.4 6.4m0 -6.4l-6.4 6.4M854 374.7l6.4 6.4m0 -6.4l-6.4 6.4M848.6 378.4l6.4 6.4m0 -6.4l-6.4 6.4M844.7 381.6l6.4 6.4m0 -6.4l-6.4 6.4M850.7 385.7l6.4 6.4m0 -6.4l-6.4 6.4M853.2 389.8l6.4 6.4m0 -6.4l-6.4 6.4M856.1 391.4l6.4 6.4m0 -6.4l-6.4 6.4M856.6 391.6l6.4 6.4m0 -6.4l-6.4 6.4M855.5 390.6l6.4 6.4m0 -6.4l-6.4 6.4M854.3 392.1l6.4 6.4m0 -6.4l-6.4 6.4M856.3 391.6l6.4 6.4m0 -6.4l-6.4 6.4M854.5 393.2l6.4 6.4m0 -6.4l-6.4 6.4M856.1 392.4l6.4 6.4m0 -6.4l-6.4 6.4M857.3 394.4l6.4 6.4m0 -6.4l-6.4 6.4M855.8 394l6.4 6.4m0 -6.4l-6.4 6.4M856.2 394.6l6.4 6.4m0 -6.4l-6.4 6.4M856.8 393.3l6.4 6.4m0 -6.4l-6.4 6.4M854.4 395.2l6.4 6.4m0 -6.4l-6.4 6.4M853.1 400.1l6.4 6.4m0 -6.4l-6.4 6.4M851.7 404.3l6.4 6.4m0 -6.4l-6.4 6.4M853 407.7l6.4 6.4m0 -6.4l-6.4 6.4M848.6 412.5l6.4 6.4m0 -6.4l-6.4 6.4M849 417.2l6.4 6.4m0 -6.4l-6.4 6.4M852.3 422l6.4 6.4m0 -6.4l-6.4 6.4M851.1 426.3l6.4 6.4m0 -6.4l-6.4 6.4M1009.8 182.1l6.4 6.4m0 -6.4l-6.4 6.4M1060 192.7l6.4 6.4m0 -6.4l-6.4 6.4M852.8 348.9l6.4 6.4m0 -6.4l-6.4 6.4M934.6 277.9l6.4 6.4m0 -6.4l-6.4 6.4M990.7 214.9l6.4 6.4m0 -6.4l-6.4 6.4M969.5 320.5l6.4 6.4m0 -6.4l-6.4 6.4M1070.6 178.4l6.4 6.4m0 -6.4l-6.4 6.4M912.9 286l6.4 6.4m0 -6.4l-6.4 6.4M1026.4 160.8l6.4 6.4m0 -6.4l-6.4 6.4M1077.4 125.3l6.4 6.4m0 -6.4l-6.4 6.4M930.1 284.4l6.4 6.4m0 -6.4l-6.4 6.4M947.2 363.7l6.4 6.4m0 -6.4l-6.4 6.4M1036.9 239l6.4 6.4m0 -6.4l-6.4 6.4M1060.9 189.1l6.4 6.4m0 -6.4l-6.4 6.4M873.7 422l6.4 6.4m0 -6.4l-6.4 6.4M1036.9 153.9l6.4 6.4m0 -6.4l-6.4 6.4M1052.2 138.2l6.4 6.4m0 -6.4l-6.4 6.4M1006.8 189.5l6.4 6.4m0 -6.4l-6.4 6.4M1035.9 149.8l6.4 6.4m0 -6.4l-6.4 6.4M1069.7 115.5l6.4 6.4m0 -6.4l-6.4 6.4M959.1 253.9l6.4 6.4m0 -6.4l-6.4 6.4M846.1 415.6l6.4 6.4m0 -6.4l-6.4 6.4M1062.3 123.7l6.4 6.4m0 -6.4l-6.4 6.4M992.1 294.7l6.4 6.4m0 -6.4l-6.4 6.4M918.8 399.9l6.4 6.4m0 -6.4l-6.4 6.4M1022.1 255l6.4 6.4m0 -6.4l-6.4 6.4M1037.7 224.8l6.4 6.4m0 -6.4l-6.4 6.4M884.8 420.2l6.4 6.4m0 -6.4l-6.4 6.4M978.6 313.5l6.4 6.4m0 -6.4l-6.4 6.4M846.3 373.7l6.4 6.4m0 -6.4l-6.4 6.4M930 283.7l6.4 6.4m0 -6.4l-6.4 6.4M864.2 427.9l6.4 6.4m0 -6.4l-6.4 6.4M978 230.1l6.4 6.4m0 -6.4l-6.4 6.4M890.5 284.4l6.4 6.4m0 -6.4l-6.4 6.4M1019.4 254.2l6.4 6.4m0 -6.4l-6.4 6.4M906.1 282.3l6.4 6.4m0 -6.4l-6.4 6.4M1057.6 189l6.4 6.4m0 -6.4l-6.4 6.4M846.2 389.1l6.4 6.4m0 -6.4l-6.4 6.4M1004.3 195.6l6.4 6.4m0 -6.4l-6.4 6.4M1038.9 232l6.4 6.4m0 -6.4l-6.4 6.4M1050.1 137.9l6.4 6.4m0 -6.4l-6.4 6.4M1049.4 207.3l6.4 6.4m0 -6.4l-6.4 6.4M917.6 285.5l6.4 6.4m0 -6.4l-6.4 6.4M910.1 402.6l6.4 6.4m0 -6.4l-6.4 6.4M868.6 318.3l6.4 6.4m0 -6.4l-6.4 6.4M898.1 410.6l6.4 6.4m0 -6.4l-6.4 6.4M975.7 313.5l6.4 6.4m0 -6.4l-6.4 6.4M994.8 289.8l6.4 6.4m0 -6.4l-6.4 6.4M1063.2 125.9l6.4 6.4m0 -6.4l-6.4 6.4M990.6 214.1l6.4 6.4m0 -6.4l-6.4 6.4M858.4 345.9l6.4 6.4m0 -6.4l-6.4 6.4M936.2 381l6.4 6.4m0 -6.4l-6.4 6.4M1005.8 190.3l6.4 6.4m0 -6.4l-6.4 6.4M1014.6 260.9l6.4 6.4m0 -6.4l-6.4 6.4M847.1 400.4l6.4 6.4m0 -6.4l-6.4 6.4M1085.8 131.4l6.4 6.4m0 -6.4l-6.4 6.4M1075.6 147.7l6.4 6.4m0 -6.4l-6.4 6.4M1090.9 146.6l6.4 6.4m0 -6.4l-6.4 6.4M1082.7 156.8l6.4 6.4m0 -6.4l-6.4 6.4M1075.6 175.2l6.4 6.4m0 -6.4l-6.4 6.4M1010.4 294.4l6.4 6.4m0 -6.4l-6.4 6.4M971.7 337.1l6.4 6.4m0 -6.4l-6.4 6.4M967.6 352.4l6.4 6.4m0 -6.4l-6.4 6.4M840.3 384l6.4 6.4m0 -6.4l-6.4 6.4M850.5 434.9l6.4 6.4m0 -6.4l-6.4 6.4M846.4 419.7l6.4 6.4m0 -6.4l-6.4 6.4" stroke="#000" stroke-width="3.2" stroke-linecap="round" fill="none"/><line x1="825.4" y1="238" x2="825.4" y2="487" stroke="#000" stroke-width="4"/><path d="M821.1 228.8l6.4 6.4m0 -6.4l-6.4 6.4M821.1 454.4l6.4 6.4m0 -6.4l-6.4 6.4M821.1 472.4l6.4 6.4m0 -6.4l-6.4 6.4" stroke="#000" stroke-width="3.2" stroke-linecap="round" fill="none"/><line x1="848" y1="485.4" x2="986" y2="485.4" stroke="#000" stroke-width="4"/><path d="M988.8 483.4l6.4 6.4m0 -6.4l-6.4 6.4M822.6 482.4l6.4 6.4m0 -6.4l-6.4 6.4" stroke="#000" stroke-width="3.2" stroke-linecap="round" fill="none"/><line x1="806.1" y1="457.8" x2="1157.5" y2="33.5" stroke="#d46a38" stroke-width="3.7"/></g><rect x="823.8" y="58" width="318.5" height="429.6" fill="none" stroke="#333" stroke-width="2.2"/><text x="836.5" y="87" fill="#0e4f95">Positives: 746</text><text x="1134" y="467.6" text-anchor="end" fill="#9ecae1">Targets: 724</text><g clip-path="url(#ca21)"><path d="M823.8 533.5H1142.3M823.8 579H1142.3M823.8 624.4H1142.3M823.8 669.9H1142.3M823.8 715.3H1142.3M823.8 760.8H1142.3M823.8 806.2H1142.3M823.8 851.7H1142.3M823.8 897.1H1142.3" stroke="#e6e6e6" stroke-width="3.3" fill="none"/><path d="M856.3 512.2V940.8M893.9 512.2V940.8M931.6 512.2V940.8M969.2 512.2V940.8M1006.9 512.2V940.8M1044.5 512.2V940.8M1082.2 512.2V940.8M1119.8 512.2V940.8" stroke="#e6e6e6" stroke-width="3.3" fill="none"/><polygon points="892.4,744.4 892.4,737.3 906.6,721 922.9,731.2 939.2,708.7 945.4,690.4 951.5,674.1 975.9,668 988.1,651.7 1000.4,635.4 1020.7,617.1 1037,600.8 1049.3,582.4 1069.6,574.3 1073.7,580.4 1071.1,592.4 940.2,750.4" fill="#9ecae1"/><path d="M891.1 739.2l6.4 6.4m0 -6.4l-6.4 6.4M897.7 739.9l6.4 6.4m0 -6.4l-6.4 6.4M900.4 741.1l6.4 6.4m0 -6.4l-6.4 6.4M907.2 740.5l6.4 6.4m0 -6.4l-6.4 6.4M912.2 740.4l6.4 6.4m0 -6.4l-6.4 6.4M917.4 741.9l6.4 6.4m0 -6.4l-6.4 6.4M920.9 741.4l6.4 6.4m0 -6.4l-6.4 6.4M925.7 743.8l6.4 6.4m0 -6.4l-6.4 6.4M931.5 743l6.4 6.4m0 -6.4l-6.4 6.4M937 743.9l6.4 6.4m0 -6.4l-6.4 6.4M938.8 739.2l6.4 6.4m0 -6.4l-6.4 6.4M942.9 738.5l6.4 6.4m0 -6.4l-6.4 6.4M945 733.2l6.4 6.4m0 -6.4l-6.4 6.4M946.3 729.1l6.4 6.4m0 -6.4l-6.4 6.4M951.1 727.5l6.4 6.4m0 -6.4l-6.4 6.4M952.6 722.2l6.4 6.4m0 -6.4l-6.4 6.4M956.8 720.5l6.4 6.4m0 -6.4l-6.4 6.4M960 716.2l6.4 6.4m0 -6.4l-6.4 6.4M962.8 712.8l6.4 6.4m0 -6.4l-6.4 6.4M965.4 707.8l6.4 6.4m0 -6.4l-6.4 6.4M967.4 706.8l6.4 6.4m0 -6.4l-6.4 6.4M970.8 703.9l6.4 6.4m0 -6.4l-6.4 6.4M973.5 698.3l6.4 6.4m0 -6.4l-6.4 6.4M976.7 696.5l6.4 6.4m0 -6.4l-6.4 6.4M979.4 692.5l6.4 6.4m0 -6.4l-6.4 6.4M980.3 686.9l6.4 6.4m0 -6.4l-6.4 6.4M983.7 684.5l6.4 6.4m0 -6.4l-6.4 6.4M988.4 680.8l6.4 6.4m0 -6.4l-6.4 6.4M988.9 676.6l6.4 6.4m0 -6.4l-6.4 6.4M994.8 673.7l6.4 6.4m0 -6.4l-6.4 6.4M995.5 672.4l6.4 6.4m0 -6.4l-6.4 6.4M1000.4 667l6.4 6.4m0 -6.4l-6.4 6.4M1002.2 663.9l6.4 6.4m0 -6.4l-6.4 6.4M1004 662.1l6.4 6.4m0 -6.4l-6.4 6.4M1006 657.8l6.4 6.4m0 -6.4l-6.4 6.4M1011.3 654.6l6.4 6.4m0 -6.4l-6.4 6.4M1013.6 651.6l6.4 6.4m0 -6.4l-6.4 6.4M1017.2 647.3l6.4 6.4m0 -6.4l-6.4 6.4M1017.7 644.6l6.4 6.4m0 -6.4l-6.4 6.4M1020.9 638.8l6.4 6.4m0 -6.4l-6.4 6.4M1024.2 636.4l6.4 6.4m0 -6.4l-6.4 6.4M1027.2 632.8l6.4 6.4m0 -6.4l-6.4 6.4M1030 628.6l6.4 6.4m0 -6.4l-6.4 6.4M1034.2 626.6l6.4 6.4m0 -6.4l-6.4 6.4M1034.9 623.8l6.4 6.4m0 -6.4l-6.4 6.4M1038.2 618.5l6.4 6.4m0 -6.4l-6.4 6.4M1043 616.7l6.4 6.4m0 -6.4l-6.4 6.4M1046.4 613.3l6.4 6.4m0 -6.4l-6.4 6.4M1048 610l6.4 6.4m0 -6.4l-6.4 6.4M1051.7 606.3l6.4 6.4m0 -6.4l-6.4 6.4M1055.1 603.1l6.4 6.4m0 -6.4l-6.4 6.4M1056.4 598.1l6.4 6.4m0 -6.4l-6.4 6.4M1060.1 595.9l6.4 6.4m0 -6.4l-6.4 6.4M1063 590.9l6.4 6.4m0 -6.4l-6.4 6.4M1063.7 586.6l6.4 6.4m0 -6.4l-6.4 6.4M1067.4 584.1l6.4 6.4m0 -6.4l-6.4 6.4M1065.8 577.4l6.4 6.4m0 -6.4l-6.4 6.4M1065.7 574.8l6.4 6.4m0 -6.4l-6.4 6.4M1059.6 577.6l6.4 6.4m0 -6.4l-6.4 6.4M1057.1 577.6l6.4 6.4m0 -6.4l-6.4 6.4M1052.3 579.5l6.4 6.4m0 -6.4l-6.4 6.4M1048.5 582.9l6.4 6.4m0 -6.4l-6.4 6.4M1045.4 585.5l6.4 6.4m0 -6.4l-6.4 6.4M1041.7 591.5l6.4 6.4m0 -6.4l-6.4 6.4M1040 594.4l6.4 6.4m0 -6.4l-6.4 6.4M1037.7 599.5l6.4 6.4m0 -6.4l-6.4 6.4M1037.8 600.7l6.4 6.4m0 -6.4l-6.4 6.4M1034.6 599.5l6.4 6.4m0 -6.4l-6.4 6.4M1031.1 604.4l6.4 6.4m0 -6.4l-6.4 6.4M1028.6 605.3l6.4 6.4m0 -6.4l-6.4 6.4M1026.3 610.8l6.4 6.4m0 -6.4l-6.4 6.4M1023.4 613.9l6.4 6.4m0 -6.4l-6.4 6.4M1020.2 616.2l6.4 6.4m0 -6.4l-6.4 6.4M1019.4 616.3l6.4 6.4m0 -6.4l-6.4 6.4M1014.7 617.9l6.4 6.4m0 -6.4l-6.4 6.4M1014.4 621.1l6.4 6.4m0 -6.4l-6.4 6.4M1008.8 625.2l6.4 6.4m0 -6.4l-6.4 6.4M1006.9 626.9l6.4 6.4m0 -6.4l-6.4 6.4M1003.7 631.5l6.4 6.4m0 -6.4l-6.4 6.4M998 633.8l6.4 6.4m0 -6.4l-6.4 6.4M997.8 639l6.4 6.4m0 -6.4l-6.4 6.4M992.3 642.7l6.4 6.4m0 -6.4l-6.4 6.4M989 646l6.4 6.4m0 -6.4l-6.4 6.4M986.8 651.9l6.4 6.4m0 -6.4l-6.4 6.4M984.3 655.9l6.4 6.4m0 -6.4l-6.4 6.4M981.2 659.3l6.4 6.4m0 -6.4l-6.4 6.4M976.6 663.7l6.4 6.4m0 -6.4l-6.4 6.4M975.5 666.2l6.4 6.4m0 -6.4l-6.4 6.4M976 668.1l6.4 6.4m0 -6.4l-6.4 6.4M973.7 665.5l6.4 6.4m0 -6.4l-6.4 6.4M975 668.4l6.4 6.4m0 -6.4l-6.4 6.4M973 667.6l6.4 6.4m0 -6.4l-6.4 6.4M972.6 666.1l6.4 6.4m0 -6.4l-6.4 6.4M973.7 668.9l6.4 6.4m0 -6.4l-6.4 6.4M974.6 668.4l6.4 6.4m0 -6.4l-6.4 6.4M969.5 667.9l6.4 6.4m0 -6.4l-6.4 6.4M964.2 668.9l6.4 6.4m0 -6.4l-6.4 6.4M958.8 670l6.4 6.4m0 -6.4l-6.4 6.4M954.9 670.8l6.4 6.4m0 -6.4l-6.4 6.4M949.4 674l6.4 6.4m0 -6.4l-6.4 6.4M949 677.5l6.4 6.4m0 -6.4l-6.4 6.4M945.9 683.7l6.4 6.4m0 -6.4l-6.4 6.4M943.6 689.1l6.4 6.4m0 -6.4l-6.4 6.4M944.4 694.1l6.4 6.4m0 -6.4l-6.4 6.4M940.9 698.3l6.4 6.4m0 -6.4l-6.4 6.4M940.5 701.1l6.4 6.4m0 -6.4l-6.4 6.4M939.9 705.6l6.4 6.4m0 -6.4l-6.4 6.4M937.7 708l6.4 6.4m0 -6.4l-6.4 6.4M940.2 707.8l6.4 6.4m0 -6.4l-6.4 6.4M937.2 707.2l6.4 6.4m0 -6.4l-6.4 6.4M936.1 710.1l6.4 6.4m0 -6.4l-6.4 6.4M934.1 714.5l6.4 6.4m0 -6.4l-6.4 6.4M930.4 718.5l6.4 6.4m0 -6.4l-6.4 6.4M926 723.4l6.4 6.4m0 -6.4l-6.4 6.4M926.1 727.3l6.4 6.4m0 -6.4l-6.4 6.4M922.4 729.5l6.4 6.4m0 -6.4l-6.4 6.4M921.4 728.9l6.4 6.4m0 -6.4l-6.4 6.4M920.9 730.3l6.4 6.4m0 -6.4l-6.4 6.4M921.3 731.1l6.4 6.4m0 -6.4l-6.4 6.4M922.9 729.7l6.4 6.4m0 -6.4l-6.4 6.4M922.2 730.2l6.4 6.4m0 -6.4l-6.4 6.4M920.6 730.2l6.4 6.4m0 -6.4l-6.4 6.4M920.9 730.7l6.4 6.4m0 -6.4l-6.4 6.4M919 731.2l6.4 6.4m0 -6.4l-6.4 6.4M918.7 730.3l6.4 6.4m0 -6.4l-6.4 6.4M919.3 732l6.4 6.4m0 -6.4l-6.4 6.4M920.1 731.2l6.4 6.4m0 -6.4l-6.4 6.4M918.9 730.1l6.4 6.4m0 -6.4l-6.4 6.4M918.8 730.7l6.4 6.4m0 -6.4l-6.4 6.4M918.5 730.7l6.4 6.4m0 -6.4l-6.4 6.4M917.3 730l6.4 6.4m0 -6.4l-6.4 6.4M913.1 726.2l6.4 6.4m0 -6.4l-6.4 6.4M907.5 725.4l6.4 6.4m0 -6.4l-6.4 6.4M903.5 722.3l6.4 6.4m0 -6.4l-6.4 6.4M901.2 726.6l6.4 6.4m0 -6.4l-6.4 6.4M896 731.8l6.4 6.4m0 -6.4l-6.4 6.4M892.3 733.7l6.4 6.4m0 -6.4l-6.4 6.4M893.1 738.5l6.4 6.4m0 -6.4l-6.4 6.4M1075.6 554.8l6.4 6.4m0 -6.4l-6.4 6.4M919.7 699.4l6.4 6.4m0 -6.4l-6.4 6.4M903.4 716.8l6.4 6.4m0 -6.4l-6.4 6.4M940.1 687.2l6.4 6.4m0 -6.4l-6.4 6.4M915.7 750.4l6.4 6.4m0 -6.4l-6.4 6.4" stroke="#9ecae1" stroke-width="3.2" stroke-linecap="round" fill="none"/><path d="M905.5 736.1l6.4 6.4m0 -6.4l-6.4 6.4M909.6 733.1l6.4 6.4m0 -6.4l-6.4 6.4M923.8 740.2l6.4 6.4m0 -6.4l-6.4 6.4M926.9 737.1l6.4 6.4m0 -6.4l-6.4 6.4M936 721.8l6.4 6.4m0 -6.4l-6.4 6.4M939.1 724.9l6.4 6.4m0 -6.4l-6.4 6.4M944.2 707.6l6.4 6.4m0 -6.4l-6.4 6.4M947.3 710.6l6.4 6.4m0 -6.4l-6.4 6.4M941.1 713.7l6.4 6.4m0 -6.4l-6.4 6.4M954.4 693.3l6.4 6.4m0 -6.4l-6.4 6.4M957.4 696.4l6.4 6.4m0 -6.4l-6.4 6.4M951.3 697.4l6.4 6.4m0 -6.4l-6.4 6.4M982.9 668.9l6.4 6.4m0 -6.4l-6.4 6.4M986 667.9l6.4 6.4m0 -6.4l-6.4 6.4M1006.7 654.2l6.4 6.4m0 -6.4l-6.4 6.4M978.1 679.1l6.4 6.4m0 -6.4l-6.4 6.4M1051.6 600.9l6.4 6.4m0 -6.4l-6.4 6.4M968.8 692.2l6.4 6.4m0 -6.4l-6.4 6.4M1016.7 643.4l6.4 6.4m0 -6.4l-6.4 6.4M1004.5 652.9l6.4 6.4m0 -6.4l-6.4 6.4M945 720.2l6.4 6.4m0 -6.4l-6.4 6.4M970.3 692l6.4 6.4m0 -6.4l-6.4 6.4M1005.1 656l6.4 6.4m0 -6.4l-6.4 6.4M968.9 692.2l6.4 6.4m0 -6.4l-6.4 6.4M980.5 681.1l6.4 6.4m0 -6.4l-6.4 6.4M918.2 746l6.4 6.4m0 -6.4l-6.4 6.4M1032.1 618.7l6.4 6.4m0 -6.4l-6.4 6.4M989.1 665.7l6.4 6.4m0 -6.4l-6.4 6.4M937.2 730.2l6.4 6.4m0 -6.4l-6.4 6.4M950.9 709l6.4 6.4m0 -6.4l-6.4 6.4M1052.5 601l6.4 6.4m0 -6.4l-6.4 6.4M941.2 720.2l6.4 6.4m0 -6.4l-6.4 6.4M935.4 726.5l6.4 6.4m0 -6.4l-6.4 6.4M1044.6 607.5l6.4 6.4m0 -6.4l-6.4 6.4M1057.8 583l6.4 6.4m0 -6.4l-6.4 6.4M916.3 734.8l6.4 6.4m0 -6.4l-6.4 6.4M1046.7 604l6.4 6.4m0 -6.4l-6.4 6.4M920.8 741.6l6.4 6.4m0 -6.4l-6.4 6.4M939.6 733.4l6.4 6.4m0 -6.4l-6.4 6.4M977.5 677l6.4 6.4m0 -6.4l-6.4 6.4" stroke="#08519c" stroke-width="3.2" stroke-linecap="round" fill="none"/><polygon points="860.7,865.5 871.7,863.7 871.8,863.6 872,863.6 893.5,863.6 901,854.2 901.1,854 901.3,853.9 901.5,853.8 901.6,853.7 901.8,853.6 902,853.5 902.2,853.5 924,849.5 939.9,833.7 940,833.5 940.2,833.4 962.4,819.2 974.4,807.3 988.4,787.2 996.5,769.1 996.6,768.9 996.7,768.8 1004.8,756.5 1005,756.3 1019.2,740.1 1031.3,721.9 1043.5,703.6 1053.6,687.4 1065.6,659.4 1065.6,648.3 1053.8,632.5 1053.7,632.4 1053.6,632.2 1053.5,632 1053.5,631.8 1053.4,631.6 1053.4,631.5 1053.4,631.3 1053.4,631.1 1053.4,630.9 1053.5,630.7 1057.6,618.5 1057.6,618.3 1057.7,618.1 1057.8,617.9 1058,617.8 1058.1,617.6 1082.5,595.1 1069.6,588.7 1062.8,592.2 1046.8,612.2 1046.6,612.3 1046.5,612.4 1028.4,628.6 1014.2,648.8 1014.2,648.8 997.9,671.2 997.8,671.4 981.5,689.7 967.2,706 967.2,706 951,724.3 934.7,744.6 934.7,744.7 924.5,756.9 924.4,757 924.2,757.2 924.1,757.3 923.9,757.4 923.7,757.5 923.5,757.5 923.3,757.6 923.1,757.6 922.9,757.6 922.7,757.6 922.6,757.6 922.4,757.5 922.2,757.5 922,757.4 921.8,757.3 921.7,757.2 921.5,757 913.9,749.4 890.1,747.6 888.3,764 888.2,764.2 888.2,764.4 888.1,764.5 888,764.7 887.9,764.9 887.8,765 887.7,765.2 875.7,777.1 867.7,795.1 867.6,795.3 867.5,795.5 867.4,795.6 853.7,811.3 855.7,826.7 855.7,826.9 855.7,827.1 855.6,827.3 855.6,827.5 855.5,827.7 847.8,847 860.7,865.5" fill="#000"/><path d="M859.7 860.8l6.4 6.4m0 -6.4l-6.4 6.4M861.9 859.7l6.4 6.4m0 -6.4l-6.4 6.4M869.8 858.3l6.4 6.4m0 -6.4l-6.4 6.4M868 857.5l6.4 6.4m0 -6.4l-6.4 6.4M868.4 857.5l6.4 6.4m0 -6.4l-6.4 6.4M875.6 858.8l6.4 6.4m0 -6.4l-6.4 6.4M878.4 858.3l6.4 6.4m0 -6.4l-6.4 6.4M884.6 857.7l6.4 6.4m0 -6.4l-6.4 6.4M890.4 858.2l6.4 6.4m0 -6.4l-6.4 6.4M892.9 856l6.4 6.4m0 -6.4l-6.4 6.4M896.4 849.6l6.4 6.4m0 -6.4l-6.4 6.4M897.8 851.2l6.4 6.4m0 -6.4l-6.4 6.4M897.7 849.4l6.4 6.4m0 -6.4l-6.4 6.4M898.8 848.2l6.4 6.4m0 -6.4l-6.4 6.4M899.2 849.6l6.4 6.4m0 -6.4l-6.4 6.4M896.9 847.9l6.4 6.4m0 -6.4l-6.4 6.4M897.3 848.1l6.4 6.4m0 -6.4l-6.4 6.4M899.4 849.4l6.4 6.4m0 -6.4l-6.4 6.4M904.4 847.5l6.4 6.4m0 -6.4l-6.4 6.4M908.4 845.3l6.4 6.4m0 -6.4l-6.4 6.4M914.8 846.4l6.4 6.4m0 -6.4l-6.4 6.4M920.9 843.9l6.4 6.4m0 -6.4l-6.4 6.4M922.6 840.2l6.4 6.4m0 -6.4l-6.4 6.4M926.4 836l6.4 6.4m0 -6.4l-6.4 6.4M931.9 833.8l6.4 6.4m0 -6.4l-6.4 6.4M934.7 830.9l6.4 6.4m0 -6.4l-6.4 6.4M934.4 828.3l6.4 6.4m0 -6.4l-6.4 6.4M937.5 829.5l6.4 6.4m0 -6.4l-6.4 6.4M940.6 825.5l6.4 6.4m0 -6.4l-6.4 6.4M945.7 823.3l6.4 6.4m0 -6.4l-6.4 6.4M948.3 820.7l6.4 6.4m0 -6.4l-6.4 6.4M955.5 819l6.4 6.4m0 -6.4l-6.4 6.4M957.3 813.8l6.4 6.4m0 -6.4l-6.4 6.4M960.9 811.2l6.4 6.4m0 -6.4l-6.4 6.4M966.9 808.5l6.4 6.4m0 -6.4l-6.4 6.4M970.6 802.7l6.4 6.4m0 -6.4l-6.4 6.4M974.4 797.5l6.4 6.4m0 -6.4l-6.4 6.4M975.8 795.8l6.4 6.4m0 -6.4l-6.4 6.4M978 792.3l6.4 6.4m0 -6.4l-6.4 6.4M982.4 787.2l6.4 6.4m0 -6.4l-6.4 6.4M983.6 784.5l6.4 6.4m0 -6.4l-6.4 6.4M984.2 777.1l6.4 6.4m0 -6.4l-6.4 6.4M986.3 774l6.4 6.4m0 -6.4l-6.4 6.4M990 769.3l6.4 6.4m0 -6.4l-6.4 6.4M991.4 764.8l6.4 6.4m0 -6.4l-6.4 6.4M990.7 766.4l6.4 6.4m0 -6.4l-6.4 6.4M991.7 764.8l6.4 6.4m0 -6.4l-6.4 6.4M993.7 759.4l6.4 6.4m0 -6.4l-6.4 6.4M996.2 757.5l6.4 6.4m0 -6.4l-6.4 6.4M999 751.8l6.4 6.4m0 -6.4l-6.4 6.4M1000.8 750.7l6.4 6.4m0 -6.4l-6.4 6.4M1004.1 747.9l6.4 6.4m0 -6.4l-6.4 6.4M1008.5 744.8l6.4 6.4m0 -6.4l-6.4 6.4M1010.3 738.8l6.4 6.4m0 -6.4l-6.4 6.4M1016.1 734.3l6.4 6.4m0 -6.4l-6.4 6.4M1019.1 730.9l6.4 6.4m0 -6.4l-6.4 6.4M1021.7 728l6.4 6.4m0 -6.4l-6.4 6.4M1024.1 722.1l6.4 6.4m0 -6.4l-6.4 6.4M1026.7 716.3l6.4 6.4m0 -6.4l-6.4 6.4M1031.4 714.9l6.4 6.4m0 -6.4l-6.4 6.4M1031.3 710.3l6.4 6.4m0 -6.4l-6.4 6.4M1035 702.5l6.4 6.4m0 -6.4l-6.4 6.4M1040.4 698.5l6.4 6.4m0 -6.4l-6.4 6.4M1040.7 696.4l6.4 6.4m0 -6.4l-6.4 6.4M1044.8 691l6.4 6.4m0 -6.4l-6.4 6.4M1045.1 688.4l6.4 6.4m0 -6.4l-6.4 6.4M1047.5 684.4l6.4 6.4m0 -6.4l-6.4 6.4M1050.8 679.5l6.4 6.4m0 -6.4l-6.4 6.4M1051.8 674.1l6.4 6.4m0 -6.4l-6.4 6.4M1056.4 668.4l6.4 6.4m0 -6.4l-6.4 6.4M1056.9 666.6l6.4 6.4m0 -6.4l-6.4 6.4M1059.1 660.5l6.4 6.4m0 -6.4l-6.4 6.4M1062.5 656.7l6.4 6.4m0 -6.4l-6.4 6.4M1061.6 651.9l6.4 6.4m0 -6.4l-6.4 6.4M1061.8 644.9l6.4 6.4m0 -6.4l-6.4 6.4M1056.4 640.3l6.4 6.4m0 -6.4l-6.4 6.4M1055.1 638.8l6.4 6.4m0 -6.4l-6.4 6.4M1051.1 633.8l6.4 6.4m0 -6.4l-6.4 6.4M1048.4 629.3l6.4 6.4m0 -6.4l-6.4 6.4M1048.3 629.8l6.4 6.4m0 -6.4l-6.4 6.4M1048.1 629.6l6.4 6.4m0 -6.4l-6.4 6.4M1049.5 629.9l6.4 6.4m0 -6.4l-6.4 6.4M1047.3 628.7l6.4 6.4m0 -6.4l-6.4 6.4M1048.8 628l6.4 6.4m0 -6.4l-6.4 6.4M1048.1 627.5l6.4 6.4m0 -6.4l-6.4 6.4M1049.1 627.4l6.4 6.4m0 -6.4l-6.4 6.4M1047 627.4l6.4 6.4m0 -6.4l-6.4 6.4M1049.8 625.9l6.4 6.4m0 -6.4l-6.4 6.4M1047.4 625.5l6.4 6.4m0 -6.4l-6.4 6.4M1049.8 620.1l6.4 6.4m0 -6.4l-6.4 6.4M1053.3 614.4l6.4 6.4m0 -6.4l-6.4 6.4M1053.6 613.6l6.4 6.4m0 -6.4l-6.4 6.4M1051.8 615.5l6.4 6.4m0 -6.4l-6.4 6.4M1053.6 613.6l6.4 6.4m0 -6.4l-6.4 6.4M1052.1 613.8l6.4 6.4m0 -6.4l-6.4 6.4M1055.2 612l6.4 6.4m0 -6.4l-6.4 6.4M1056.1 609.6l6.4 6.4m0 -6.4l-6.4 6.4M1061.9 604.7l6.4 6.4m0 -6.4l-6.4 6.4M1064.1 604.4l6.4 6.4m0 -6.4l-6.4 6.4M1069.7 600.3l6.4 6.4m0 -6.4l-6.4 6.4M1073.7 594.4l6.4 6.4m0 -6.4l-6.4 6.4M1077.5 591.5l6.4 6.4m0 -6.4l-6.4 6.4M1070.5 591.4l6.4 6.4m0 -6.4l-6.4 6.4M1065.7 586.2l6.4 6.4m0 -6.4l-6.4 6.4M1061.7 589.9l6.4 6.4m0 -6.4l-6.4 6.4M1058.6 593l6.4 6.4m0 -6.4l-6.4 6.4M1054.1 597.1l6.4 6.4m0 -6.4l-6.4 6.4M1049.9 602.2l6.4 6.4m0 -6.4l-6.4 6.4M1047.7 605.1l6.4 6.4m0 -6.4l-6.4 6.4M1046.2 610.5l6.4 6.4m0 -6.4l-6.4 6.4M1043.8 608.9l6.4 6.4m0 -6.4l-6.4 6.4M1045.4 609.1l6.4 6.4m0 -6.4l-6.4 6.4M1039.8 612.5l6.4 6.4m0 -6.4l-6.4 6.4M1038.5 615.4l6.4 6.4m0 -6.4l-6.4 6.4M1032.9 620.4l6.4 6.4m0 -6.4l-6.4 6.4M1031.2 624.1l6.4 6.4m0 -6.4l-6.4 6.4M1026.6 627.9l6.4 6.4m0 -6.4l-6.4 6.4M1023.4 632l6.4 6.4m0 -6.4l-6.4 6.4M1021.7 635.6l6.4 6.4m0 -6.4l-6.4 6.4M1018.1 637.8l6.4 6.4m0 -6.4l-6.4 6.4M1014.1 643.3l6.4 6.4m0 -6.4l-6.4 6.4M1011.1 646l6.4 6.4m0 -6.4l-6.4 6.4M1012.5 648.2l6.4 6.4m0 -6.4l-6.4 6.4M1010 650.8l6.4 6.4m0 -6.4l-6.4 6.4M1005.6 652.4l6.4 6.4m0 -6.4l-6.4 6.4M1003.9 658.1l6.4 6.4m0 -6.4l-6.4 6.4M999.9 660.8l6.4 6.4m0 -6.4l-6.4 6.4M997.4 665.7l6.4 6.4m0 -6.4l-6.4 6.4M995.8 668.5l6.4 6.4m0 -6.4l-6.4 6.4M995.7 669.9l6.4 6.4m0 -6.4l-6.4 6.4M993.8 673l6.4 6.4m0 -6.4l-6.4 6.4M989.4 675.9l6.4 6.4m0 -6.4l-6.4 6.4M987.1 678.6l6.4 6.4m0 -6.4l-6.4 6.4M981.9 683.3l6.4 6.4m0 -6.4l-6.4 6.4M980.1 688.3l6.4 6.4m0 -6.4l-6.4 6.4M977.2 692.3l6.4 6.4m0 -6.4l-6.4 6.4M972.2 694.3l6.4 6.4m0 -6.4l-6.4 6.4M968.3 700.3l6.4 6.4m0 -6.4l-6.4 6.4M966.4 705.5l6.4 6.4m0 -6.4l-6.4 6.4M965 704.7l6.4 6.4m0 -6.4l-6.4 6.4M961.1 707.1l6.4 6.4m0 -6.4l-6.4 6.4M957.1 711.3l6.4 6.4m0 -6.4l-6.4 6.4M954.9 714.5l6.4 6.4m0 -6.4l-6.4 6.4M952 718.8l6.4 6.4m0 -6.4l-6.4 6.4M950.3 723.4l6.4 6.4m0 -6.4l-6.4 6.4M945.1 727.2l6.4 6.4m0 -6.4l-6.4 6.4M942 730.2l6.4 6.4m0 -6.4l-6.4 6.4M940 735.1l6.4 6.4m0 -6.4l-6.4 6.4M934.9 737l6.4 6.4m0 -6.4l-6.4 6.4M931.7 743.8l6.4 6.4m0 -6.4l-6.4 6.4M931.1 741.2l6.4 6.4m0 -6.4l-6.4 6.4M928.8 746.3l6.4 6.4m0 -6.4l-6.4 6.4M927.5 749.9l6.4 6.4m0 -6.4l-6.4 6.4M921.3 753.5l6.4 6.4m0 -6.4l-6.4 6.4M922.8 755.7l6.4 6.4m0 -6.4l-6.4 6.4M921.5 753.7l6.4 6.4m0 -6.4l-6.4 6.4M922.3 754.6l6.4 6.4m0 -6.4l-6.4 6.4M919.9 754.5l6.4 6.4m0 -6.4l-6.4 6.4M919.6 755.5l6.4 6.4m0 -6.4l-6.4 6.4M919.6 756.8l6.4 6.4m0 -6.4l-6.4 6.4M920.5 754.6l6.4 6.4m0 -6.4l-6.4 6.4M919.3 756l6.4 6.4m0 -6.4l-6.4 6.4M921.4 757.7l6.4 6.4m0 -6.4l-6.4 6.4M921 755.6l6.4 6.4m0 -6.4l-6.4 6.4M918 756.9l6.4 6.4m0 -6.4l-6.4 6.4M919.5 754.5l6.4 6.4m0 -6.4l-6.4 6.4M917.8 754.5l6.4 6.4m0 -6.4l-6.4 6.4M916.5 756.3l6.4 6.4m0 -6.4l-6.4 6.4M916.8 755.7l6.4 6.4m0 -6.4l-6.4 6.4M917.7 754.3l6.4 6.4m0 -6.4l-6.4 6.4M915.8 755.7l6.4 6.4m0 -6.4l-6.4 6.4M914.8 750.5l6.4 6.4m0 -6.4l-6.4 6.4M909.9 748.7l6.4 6.4m0 -6.4l-6.4 6.4M905.9 746l6.4 6.4m0 -6.4l-6.4 6.4M899.4 747l6.4 6.4m0 -6.4l-6.4 6.4M894.9 745.1l6.4 6.4m0 -6.4l-6.4 6.4M888.2 745.2l6.4 6.4m0 -6.4l-6.4 6.4M887.6 752.7l6.4 6.4m0 -6.4l-6.4 6.4M888.6 754.4l6.4 6.4m0 -6.4l-6.4 6.4M885.7 760.4l6.4 6.4m0 -6.4l-6.4 6.4M886.3 761.8l6.4 6.4m0 -6.4l-6.4 6.4M886.2 761.1l6.4 6.4m0 -6.4l-6.4 6.4M885.5 762.4l6.4 6.4m0 -6.4l-6.4 6.4M886.3 762.4l6.4 6.4m0 -6.4l-6.4 6.4M885.4 762.5l6.4 6.4m0 -6.4l-6.4 6.4M886.6 762.7l6.4 6.4m0 -6.4l-6.4 6.4M884 763.7l6.4 6.4m0 -6.4l-6.4 6.4M881.6 767.4l6.4 6.4m0 -6.4l-6.4 6.4M876.7 771.3l6.4 6.4m0 -6.4l-6.4 6.4M873.8 776.4l6.4 6.4m0 -6.4l-6.4 6.4M870.7 780.8l6.4 6.4m0 -6.4l-6.4 6.4M871.6 784.6l6.4 6.4m0 -6.4l-6.4 6.4M868.8 789.6l6.4 6.4m0 -6.4l-6.4 6.4M867.3 791.9l6.4 6.4m0 -6.4l-6.4 6.4M867.1 793.6l6.4 6.4m0 -6.4l-6.4 6.4M864.2 794.6l6.4 6.4m0 -6.4l-6.4 6.4M864.3 791.8l6.4 6.4m0 -6.4l-6.4 6.4M861.8 797.1l6.4 6.4m0 -6.4l-6.4 6.4M860.2 800.5l6.4 6.4m0 -6.4l-6.4 6.4M855.1 805.5l6.4 6.4m0 -6.4l-6.4 6.4M850.9 808.7l6.4 6.4m0 -6.4l-6.4 6.4M851.5 812.8l6.4 6.4m0 -6.4l-6.4 6.4M853.6 817.4l6.4 6.4m0 -6.4l-6.4 6.4M853.7 824.5l6.4 6.4m0 -6.4l-6.4 6.4M854.4 823.8l6.4 6.4m0 -6.4l-6.4 6.4M853.3 824.9l6.4 6.4m0 -6.4l-6.4 6.4M854.4 825.1l6.4 6.4m0 -6.4l-6.4 6.4M855.1 824.3l6.4 6.4m0 -6.4l-6.4 6.4M855.5 825.5l6.4 6.4m0 -6.4l-6.4 6.4M850.7 830.3l6.4 6.4m0 -6.4l-6.4 6.4M848.8 833.2l6.4 6.4m0 -6.4l-6.4 6.4M846.6 840.3l6.4 6.4m0 -6.4l-6.4 6.4M845.4 841.9l6.4 6.4m0 -6.4l-6.4 6.4M851 846.8l6.4 6.4m0 -6.4l-6.4 6.4M852.4 851.6l6.4 6.4m0 -6.4l-6.4 6.4M854.5 855.2l6.4 6.4m0 -6.4l-6.4 6.4M858.9 859.4l6.4 6.4m0 -6.4l-6.4 6.4M877.7 865.9l6.4 6.4m0 -6.4l-6.4 6.4M974.5 809.2l6.4 6.4m0 -6.4l-6.4 6.4M1001.1 654.1l6.4 6.4m0 -6.4l-6.4 6.4M1004.2 653.2l6.4 6.4m0 -6.4l-6.4 6.4M1044.1 602.7l6.4 6.4m0 -6.4l-6.4 6.4M1057 615.7l6.4 6.4m0 -6.4l-6.4 6.4M982.7 674.5l6.4 6.4m0 -6.4l-6.4 6.4M896.2 860.5l6.4 6.4m0 -6.4l-6.4 6.4M1074 583.2l6.4 6.4m0 -6.4l-6.4 6.4M990.4 669.7l6.4 6.4m0 -6.4l-6.4 6.4M962.3 703.7l6.4 6.4m0 -6.4l-6.4 6.4M1060.5 670.3l6.4 6.4m0 -6.4l-6.4 6.4M1066.4 657l6.4 6.4m0 -6.4l-6.4 6.4M1084.4 594.7l6.4 6.4m0 -6.4l-6.4 6.4M972 808.7l6.4 6.4m0 -6.4l-6.4 6.4M851.8 863.2l6.4 6.4m0 -6.4l-6.4 6.4M1003.4 647.1l6.4 6.4m0 -6.4l-6.4 6.4M1046.7 698.2l6.4 6.4m0 -6.4l-6.4 6.4M902.8 742.5l6.4 6.4m0 -6.4l-6.4 6.4M1045.1 606.1l6.4 6.4m0 -6.4l-6.4 6.4M851 860.8l6.4 6.4m0 -6.4l-6.4 6.4M893.5 859.4l6.4 6.4m0 -6.4l-6.4 6.4M1056.5 632.8l6.4 6.4m0 -6.4l-6.4 6.4M955.8 704.5l6.4 6.4m0 -6.4l-6.4 6.4M951.8 826.4l6.4 6.4m0 -6.4l-6.4 6.4M1009.6 643l6.4 6.4m0 -6.4l-6.4 6.4M894.6 741.4l6.4 6.4m0 -6.4l-6.4 6.4M1059.3 668.7l6.4 6.4m0 -6.4l-6.4 6.4M1031.6 715.3l6.4 6.4m0 -6.4l-6.4 6.4M915.8 747.8l6.4 6.4m0 -6.4l-6.4 6.4M1070.2 584.8l6.4 6.4m0 -6.4l-6.4 6.4M965.7 695.3l6.4 6.4m0 -6.4l-6.4 6.4M991.1 666.6l6.4 6.4m0 -6.4l-6.4 6.4M964.7 697.1l6.4 6.4m0 -6.4l-6.4 6.4M884.3 749.2l6.4 6.4m0 -6.4l-6.4 6.4M1013.8 639.4l6.4 6.4m0 -6.4l-6.4 6.4M848 823.4l6.4 6.4m0 -6.4l-6.4 6.4M874.6 765.7l6.4 6.4m0 -6.4l-6.4 6.4M1060.6 609.7l6.4 6.4m0 -6.4l-6.4 6.4M913.7 741.4l6.4 6.4m0 -6.4l-6.4 6.4M1014.4 635.3l6.4 6.4m0 -6.4l-6.4 6.4M1031.7 722.8l6.4 6.4m0 -6.4l-6.4 6.4M844.5 837.8l6.4 6.4m0 -6.4l-6.4 6.4M992.7 665.8l6.4 6.4m0 -6.4l-6.4 6.4M973.8 807.1l6.4 6.4m0 -6.4l-6.4 6.4M874.6 764.3l6.4 6.4m0 -6.4l-6.4 6.4M900.4 855.8l6.4 6.4m0 -6.4l-6.4 6.4M1037.4 712.5l6.4 6.4m0 -6.4l-6.4 6.4M1066.5 658.1l6.4 6.4m0 -6.4l-6.4 6.4M992.5 775.1l6.4 6.4m0 -6.4l-6.4 6.4M1037.7 706.7l6.4 6.4m0 -6.4l-6.4 6.4M986.8 671.7l6.4 6.4m0 -6.4l-6.4 6.4M985.9 787.5l6.4 6.4m0 -6.4l-6.4 6.4M941.8 832.6l6.4 6.4m0 -6.4l-6.4 6.4M851.5 803.8l6.4 6.4m0 -6.4l-6.4 6.4M1117.4 529.3l6.4 6.4m0 -6.4l-6.4 6.4M1122.5 532.4l6.4 6.4m0 -6.4l-6.4 6.4M1104.1 550.7l6.4 6.4m0 -6.4l-6.4 6.4M1107.2 561.9l6.4 6.4m0 -6.4l-6.4 6.4M1086.8 570.1l6.4 6.4m0 -6.4l-6.4 6.4M1090.9 571.1l6.4 6.4m0 -6.4l-6.4 6.4M1082.7 590.4l6.4 6.4m0 -6.4l-6.4 6.4M1067.5 634.2l6.4 6.4m0 -6.4l-6.4 6.4M1071.5 641.4l6.4 6.4m0 -6.4l-6.4 6.4M1060.3 687.2l6.4 6.4m0 -6.4l-6.4 6.4M984.9 795.2l6.4 6.4m0 -6.4l-6.4 6.4M897.3 870.6l6.4 6.4m0 -6.4l-6.4 6.4M887.1 863.5l6.4 6.4m0 -6.4l-6.4 6.4M855.6 869.6l6.4 6.4m0 -6.4l-6.4 6.4M844.4 843.1l6.4 6.4m0 -6.4l-6.4 6.4M849.5 822.7l6.4 6.4m0 -6.4l-6.4 6.4M851.5 807.4l6.4 6.4m0 -6.4l-6.4 6.4M1014.5 739.2l6.4 6.4m0 -6.4l-6.4 6.4" stroke="#000" stroke-width="3.2" stroke-linecap="round" fill="none"/><line x1="825.4" y1="698" x2="825.4" y2="872" stroke="#000" stroke-width="4"/><path d="M821.1 688.8l6.4 6.4m0 -6.4l-6.4 6.4M821.1 882.8l6.4 6.4m0 -6.4l-6.4 6.4M821.1 908.8l6.4 6.4m0 -6.4l-6.4 6.4" stroke="#000" stroke-width="3.2" stroke-linecap="round" fill="none"/><line x1="843" y1="938.6" x2="1006" y2="938.6" stroke="#000" stroke-width="4"/><path d="M1008.8 936.6l6.4 6.4m0 -6.4l-6.4 6.4M822.6 935.6l6.4 6.4m0 -6.4l-6.4 6.4" stroke="#000" stroke-width="3.2" stroke-linecap="round" fill="none"/><line x1="806.1" y1="912.2" x2="1157.5" y2="488.1" stroke="#d46a38" stroke-width="3.7"/></g><rect x="823.8" y="512.2" width="318.5" height="428.6" fill="none" stroke="#333" stroke-width="2.2"/><text x="839" y="541.2" fill="#0e4f95">Positives: 698</text><text x="1134" y="920.8" text-anchor="end" fill="#9ecae1">Targets: 700</text><line x1="893.9" y1="941.7" x2="893.9" y2="953.8" stroke="#333" stroke-width="3.2"/><line x1="969.2" y1="941.7" x2="969.2" y2="953.8" stroke="#333" stroke-width="3.2"/><line x1="1044.5" y1="941.7" x2="1044.5" y2="953.8" stroke="#333" stroke-width="3.2"/><line x1="1119.8" y1="941.7" x2="1119.8" y2="953.8" stroke="#333" stroke-width="3.2"/><text transform="translate(896.9 982) rotate(-45)" y="10.2" text-anchor="middle">0.25</text><text transform="translate(972.2 973.4) rotate(-45)" y="10.2" text-anchor="middle">16</text><text transform="translate(1047.5 987.7) rotate(-45)" y="10.2" text-anchor="middle">1,024</text><text transform="translate(1122.8 993.4) rotate(-45)" y="10.2" text-anchor="middle">65,536</text><text transform="translate(37.5 488.5) rotate(-90)" text-anchor="middle">log<tspan font-weight="bold" dy="-1.5">₂</tspan><tspan dy="1.5">(RPKM in IP)</tspan></text><text x="648.5" y="1057.5" text-anchor="middle">log<tspan font-weight="bold" dy="-1.5">₂</tspan><tspan dy="1.5">(RPKM in input)</tspan></text><text x="1.5" y="26" font-size="27" font-weight="bold">a</text><path d="M1335 575.3H1828M1335 506.9H1828M1335 438.5H1828M1335 370.1H1828M1335 301.6H1828M1335 233.2H1828M1335 164.8H1828M1335 96.4H1828M1335 28H1828" stroke="#e6e6e6" stroke-width="3.3" fill="none"/><path d="M1405.6 0V602.5M1523 0V602.5M1640.3 0V602.5M1757.8 0V602.5" stroke="#e6e6e6" stroke-width="3.3" fill="none"/><rect x="1352.8" y="530.1" width="105.6" height="45.2" fill="#08306b"/><rect x="1352.8" y="456.3" width="105.6" height="74.1" fill="#08519c"/><rect x="1352.8" y="288" width="105.6" height="168.6" fill="#2171b5"/><rect x="1352.8" y="28" width="105.6" height="260.3" fill="#bebebe"/><rect x="1470.2" y="550.8" width="105.6" height="24.5" fill="#08306b"/><rect x="1470.2" y="412.2" width="105.6" height="138.9" fill="#08519c"/><rect x="1470.2" y="278.7" width="105.6" height="133.8" fill="#2171b5"/><rect x="1470.2" y="28" width="105.6" height="251" fill="#bebebe"/><rect x="1587.5" y="564.7" width="105.6" height="10.6" fill="#08306b"/><rect x="1587.5" y="417.1" width="105.6" height="147.9" fill="#08519c"/><rect x="1587.5" y="256.5" width="105.6" height="160.9" fill="#2171b5"/><rect x="1587.5" y="28" width="105.6" height="228.8" fill="#bebebe"/><rect x="1705" y="512" width="105.6" height="63.3" fill="#08306b"/><rect x="1705" y="460.1" width="105.6" height="52.2" fill="#08519c"/><rect x="1705" y="159.4" width="105.6" height="301" fill="#2171b5"/><rect x="1705" y="28" width="105.6" height="131.7" fill="#bebebe"/><text x="1329.5" y="581.9" text-anchor="end">0.00</text><text x="1329.5" y="445.1" text-anchor="end">0.25</text><text x="1329.5" y="308.2" text-anchor="end">0.50</text><text x="1329.5" y="171.4" text-anchor="end">0.75</text><text x="1329.5" y="34.6" text-anchor="end">1.00</text><text x="1241.5" y="28.6" font-size="27" font-weight="bold">b</text><text x="1523" y="139.5" text-anchor="middle" fill="#fff"><tspan font-style="italic">p</tspan> =</text><text x="1523" y="176.5" text-anchor="middle" fill="#fff">0.6189</text><text x="1523" y="332" text-anchor="middle" fill="#fff"><tspan font-style="italic">p</tspan> =</text><text x="1523" y="369" text-anchor="middle" fill="#fff">0.0464</text><text x="1523" y="468.5" text-anchor="middle" fill="#fff"><tspan font-style="italic">p</tspan> =</text><text x="1523" y="505.5" text-anchor="middle" fill="#fff">1.87e<tspan font-size="17" dy="-11">-7</tspan></text><text x="1640.3" y="129.5" text-anchor="middle" fill="#fff"><tspan font-style="italic">p</tspan> =</text><text x="1640.3" y="166.5" text-anchor="middle" fill="#fff">0.0107</text><text x="1640.3" y="324.5" text-anchor="middle" fill="#fff"><tspan font-style="italic">p</tspan> =</text><text x="1640.3" y="361.5" text-anchor="middle" fill="#fff">0.5776</text><text x="1640.3" y="478.5" text-anchor="middle" fill="#fff"><tspan font-style="italic">p</tspan> =</text><text x="1640.3" y="515.5" text-anchor="middle" fill="#fff">3.99e<tspan font-size="17" dy="-11">-18</tspan></text><text x="1757.8" y="80.5" text-anchor="middle" fill="#fff"><tspan font-style="italic">p</tspan> =</text><text x="1757.8" y="117.5" text-anchor="middle" fill="#fff">2.99e<tspan font-size="17" dy="-11">-20</tspan></text><text x="1757.8" y="296" text-anchor="middle" fill="#fff"><tspan font-style="italic">p</tspan> =</text><text x="1757.8" y="333" text-anchor="middle" fill="#fff">1.53e<tspan font-size="17" dy="-11">-24</tspan></text><text x="1757.8" y="474" text-anchor="middle" fill="#fff"><tspan font-style="italic">p</tspan> =</text><text x="1757.8" y="511" text-anchor="middle" fill="#fff">0.0268</text><text x="1757.8" y="531" text-anchor="middle" fill="#fff"><tspan font-style="italic">p</tspan> =</text><text x="1757.8" y="568" text-anchor="middle" fill="#fff">0.0265</text><line x1="1523" y1="565.7" x2="1489.7" y2="600.4" stroke="#000" stroke-width="4"/><line x1="1639.8" y1="571.3" x2="1605.5" y2="628.6" stroke="#000" stroke-width="4"/><text x="1454.5" y="622.3"><tspan font-style="italic">p</tspan> = 0.0463</text><text x="1572.5" y="652.5"><tspan font-style="italic">p</tspan> = 3.05e<tspan font-size="17" dy="-11">-7</tspan></text><text transform="translate(1396.5 673) rotate(-90)" text-anchor="end">Annotation</text><text transform="translate(1433 673) rotate(-90)" text-anchor="end">n = 20,447</text><text transform="translate(1515 673) rotate(-90)" text-anchor="end">Hermaphrodite only</text><text transform="translate(1551 673) rotate(-90)" text-anchor="end">n = 246</text><text transform="translate(1632 673) rotate(-90)" text-anchor="end">Male only</text><text transform="translate(1667.7 673) rotate(-90)" text-anchor="end">n = 233</text><text transform="translate(1750 611) rotate(-90)" text-anchor="end">Male and hermaphrodite</text><text transform="translate(1784.6 611) rotate(-90)" text-anchor="end">n = 361</text><rect x="1240" y="949.2" width="35.8" height="35" fill="#bebebe"/><text x="1287" y="974.2">No germline expression</text><rect x="1240" y="994.5" width="35.8" height="35" fill="#2171b5"/><text x="1287" y="1019.5">Gender neutral</text><rect x="1612.2" y="949.2" width="35.8" height="35" fill="#08519c"/><text x="1657.5" y="974.2">Spermatogenic</text><rect x="1612.2" y="994.5" width="35.8" height="35" fill="#08306b"/><text x="1657.5" y="1019.5">Oogenic</text><defs><clipPath id="cc0"><rect x="147.3" y="1222.8" width="265.5" height="158.9"/></clipPath><clipPath id="cc1"><rect x="427.3" y="1222.8" width="266" height="158.9"/></clipPath><clipPath id="cc2"><rect x="707" y="1222.8" width="265.7" height="158.9"/></clipPath><clipPath id="cc3"><rect x="1009.7" y="1222.8" width="265.9" height="158.9"/></clipPath><clipPath id="cc4"><rect x="1289.3" y="1222.8" width="265.9" height="158.9"/></clipPath><clipPath id="cc5"><rect x="1569.2" y="1222.8" width="266.1" height="158.9"/></clipPath></defs><rect x="147.3" y="1105" width="825.4" height="57" fill="#d9d9d9" stroke="#333" stroke-width="2.4"/><text x="574" y="1140.5" text-anchor="middle" fill="#1a1a1a">Hermaphrodite</text><rect x="1009.7" y="1105" width="825.6" height="57" fill="#d9d9d9" stroke="#333" stroke-width="2.4"/><text x="1426.5" y="1140.5" text-anchor="middle" fill="#1a1a1a">Male</text><rect x="147.3" y="1163.8" width="265.5" height="57.2" fill="#d9d9d9" stroke="#333" stroke-width="2.4"/><text x="281.6" y="1201" text-anchor="middle" fill="#1a1a1a">1</text><g clip-path="url(#cc0)"><path d="M147.3 1220.7H412.8M147.3 1241.7H412.8M147.3 1262.6H412.8M147.3 1283.5H412.8M147.3 1304.5H412.8M147.3 1325.5H412.8M147.3 1346.4H412.8M147.3 1367.4H412.8" stroke="#e6e6e6" stroke-width="3" fill="none"/><path d="M165.5 1222.8V1381.7M197.5 1222.8V1381.7M229.6 1222.8V1381.7M261.6 1222.8V1381.7M293.6 1222.8V1381.7M325.6 1222.8V1381.7M357.7 1222.8V1381.7M389.7 1222.8V1381.7" stroke="#e6e6e6" stroke-width="3" fill="none"/><line x1="148.5" y1="1318.3" x2="148.5" y2="1373.2" stroke="#ababab" stroke-width="3" stroke-dasharray="5 3"/><path d="M183.3 1351.6l6.6 6.6m0 -6.6l-6.6 6.6M194.2 1340l6.6 6.6m0 -6.6l-6.6 6.6M200.8 1343.3l6.6 6.6m0 -6.6l-6.6 6.6M205 1353.3l6.6 6.6m0 -6.6l-6.6 6.6M210 1352.4l6.6 6.6m0 -6.6l-6.6 6.6M214.2 1336.6l6.6 6.6m0 -6.6l-6.6 6.6M218.3 1346.6l6.6 6.6m0 -6.6l-6.6 6.6M220 1328.3l6.6 6.6m0 -6.6l-6.6 6.6M223.3 1341.6l6.6 6.6m0 -6.6l-6.6 6.6M226.6 1331.6l6.6 6.6m0 -6.6l-6.6 6.6M230 1338.3l6.6 6.6m0 -6.6l-6.6 6.6M235 1328.3l6.6 6.6m0 -6.6l-6.6 6.6M238.3 1335l6.6 6.6m0 -6.6l-6.6 6.6M243.3 1326.6l6.6 6.6m0 -6.6l-6.6 6.6M245 1333.3l6.6 6.6m0 -6.6l-6.6 6.6M250 1348.3l6.6 6.6m0 -6.6l-6.6 6.6M253.3 1350l6.6 6.6m0 -6.6l-6.6 6.6M251.6 1328.3l6.6 6.6m0 -6.6l-6.6 6.6M256.6 1331.6l6.6 6.6m0 -6.6l-6.6 6.6M261.6 1328.3l6.6 6.6m0 -6.6l-6.6 6.6M266.6 1325l6.6 6.6m0 -6.6l-6.6 6.6M270 1320l6.6 6.6m0 -6.6l-6.6 6.6M275 1326.6l6.6 6.6m0 -6.6l-6.6 6.6M279.9 1318.3l6.6 6.6m0 -6.6l-6.6 6.6M283.3 1325l6.6 6.6m0 -6.6l-6.6 6.6M289.9 1326.6l6.6 6.6m0 -6.6l-6.6 6.6M294.9 1315l6.6 6.6m0 -6.6l-6.6 6.6M299.1 1318.3l6.6 6.6m0 -6.6l-6.6 6.6M299.9 1313.3l6.6 6.6m0 -6.6l-6.6 6.6M308.3 1301.6l6.6 6.6m0 -6.6l-6.6 6.6M319.9 1293.3l6.6 6.6m0 -6.6l-6.6 6.6M332.4 1304.1l6.6 6.6m0 -6.6l-6.6 6.6M351.6 1259.2l6.6 6.6m0 -6.6l-6.6 6.6M358.2 1258.3l6.6 6.6m0 -6.6l-6.6 6.6M224.1 1377.4l6.6 6.6m0 -6.6l-6.6 6.6M224.6 1337l6.6 6.6m0 -6.6l-6.6 6.6M256.2 1320.5l6.6 6.6m0 -6.6l-6.6 6.6M238.2 1328.4l6.6 6.6m0 -6.6l-6.6 6.6M262.4 1319.3l6.6 6.6m0 -6.6l-6.6 6.6M264.6 1315.5l6.6 6.6m0 -6.6l-6.6 6.6M206.8 1352.3l6.6 6.6m0 -6.6l-6.6 6.6M201.4 1344.3l6.6 6.6m0 -6.6l-6.6 6.6M286.5 1303l6.6 6.6m0 -6.6l-6.6 6.6M226.8 1334.5l6.6 6.6m0 -6.6l-6.6 6.6M224.2 1331.7l6.6 6.6m0 -6.6l-6.6 6.6M302.8 1305.5l6.6 6.6m0 -6.6l-6.6 6.6M248.6 1317.8l6.6 6.6m0 -6.6l-6.6 6.6M286.4 1306l6.6 6.6m0 -6.6l-6.6 6.6M249.2 1324.4l6.6 6.6m0 -6.6l-6.6 6.6M266 1323.7l6.6 6.6m0 -6.6l-6.6 6.6M215.5 1336.5l6.6 6.6m0 -6.6l-6.6 6.6M265.6 1321.8l6.6 6.6m0 -6.6l-6.6 6.6M289.6 1302.7l6.6 6.6m0 -6.6l-6.6 6.6M254 1323.3l6.6 6.6m0 -6.6l-6.6 6.6M276.5 1309.7l6.6 6.6m0 -6.6l-6.6 6.6M269.3 1318.2l6.6 6.6m0 -6.6l-6.6 6.6M206.6 1344.3l6.6 6.6m0 -6.6l-6.6 6.6M278.3 1311l6.6 6.6m0 -6.6l-6.6 6.6M261 1321.5l6.6 6.6m0 -6.6l-6.6 6.6M231.1 1342.5l6.6 6.6m0 -6.6l-6.6 6.6M203.2 1341.4l6.6 6.6m0 -6.6l-6.6 6.6M289.4 1311.1l6.6 6.6m0 -6.6l-6.6 6.6M248.8 1330l6.6 6.6m0 -6.6l-6.6 6.6M274.2 1311.6l6.6 6.6m0 -6.6l-6.6 6.6M290.8 1305.9l6.6 6.6m0 -6.6l-6.6 6.6M273.7 1311.9l6.6 6.6m0 -6.6l-6.6 6.6M295.1 1308.5l6.6 6.6m0 -6.6l-6.6 6.6M240.8 1331.5l6.6 6.6m0 -6.6l-6.6 6.6M282.7 1308.2l6.6 6.6m0 -6.6l-6.6 6.6M245.9 1327.2l6.6 6.6m0 -6.6l-6.6 6.6M296.6 1301l6.6 6.6m0 -6.6l-6.6 6.6M290.8 1304.1l6.6 6.6m0 -6.6l-6.6 6.6M210.1 1343.4l6.6 6.6m0 -6.6l-6.6 6.6M214 1352.1l6.6 6.6m0 -6.6l-6.6 6.6M222.4 1333.2l6.6 6.6m0 -6.6l-6.6 6.6M299.7 1286.9l6.6 6.6m0 -6.6l-6.6 6.6M245 1328.1l6.6 6.6m0 -6.6l-6.6 6.6" stroke="#ababab" stroke-width="3.6" stroke-linecap="round" fill="none"/><path d="M305.2 1286.3l6.6 6.6m0 -6.6l-6.6 6.6M291.2 1289.1l6.6 6.6m0 -6.6l-6.6 6.6M322.6 1276.3l6.6 6.6m0 -6.6l-6.6 6.6M288.5 1294.6l6.6 6.6m0 -6.6l-6.6 6.6M298.4 1290.2l6.6 6.6m0 -6.6l-6.6 6.6M311.1 1281.3l6.6 6.6m0 -6.6l-6.6 6.6M323.2 1270.1l6.6 6.6m0 -6.6l-6.6 6.6M296 1288.9l6.6 6.6m0 -6.6l-6.6 6.6M289.2 1295.5l6.6 6.6m0 -6.6l-6.6 6.6M338.6 1263.4l6.6 6.6m0 -6.6l-6.6 6.6M305.4 1282.5l6.6 6.6m0 -6.6l-6.6 6.6M344.1 1260.1l6.6 6.6m0 -6.6l-6.6 6.6M340.4 1260.9l6.6 6.6m0 -6.6l-6.6 6.6M309.3 1281.2l6.6 6.6m0 -6.6l-6.6 6.6" stroke="#9ecae1" stroke-width="3.6" stroke-linecap="round" fill="none"/><path d="M211.7 1313.3l6.6 6.6m0 -6.6l-6.6 6.6M235 1310l6.6 6.6m0 -6.6l-6.6 6.6M240 1306.6l6.6 6.6m0 -6.6l-6.6 6.6M245 1313.3l6.6 6.6m0 -6.6l-6.6 6.6M253.3 1305l6.6 6.6m0 -6.6l-6.6 6.6M263.3 1301.6l6.6 6.6m0 -6.6l-6.6 6.6M270 1298.3l6.6 6.6m0 -6.6l-6.6 6.6M286.6 1290l6.6 6.6m0 -6.6l-6.6 6.6M293.3 1285l6.6 6.6m0 -6.6l-6.6 6.6M303.3 1275l6.6 6.6m0 -6.6l-6.6 6.6M306.6 1270l6.6 6.6m0 -6.6l-6.6 6.6M313.3 1266.7l6.6 6.6m0 -6.6l-6.6 6.6M319.9 1263.3l6.6 6.6m0 -6.6l-6.6 6.6M326.6 1261.7l6.6 6.6m0 -6.6l-6.6 6.6M333.2 1260l6.6 6.6m0 -6.6l-6.6 6.6M339.9 1256.7l6.6 6.6m0 -6.6l-6.6 6.6M343.2 1251.7l6.6 6.6m0 -6.6l-6.6 6.6M341.6 1260l6.6 6.6m0 -6.6l-6.6 6.6M366.6 1238.4l6.6 6.6m0 -6.6l-6.6 6.6M373.2 1235l6.6 6.6m0 -6.6l-6.6 6.6M388.2 1230l6.6 6.6m0 -6.6l-6.6 6.6M313.3 1278.3l6.6 6.6m0 -6.6l-6.6 6.6M299.9 1281.7l6.6 6.6m0 -6.6l-6.6 6.6M283.3 1295l6.6 6.6m0 -6.6l-6.6 6.6" stroke="#9ecae1" stroke-width="3.6" stroke-linecap="round" fill="none"/><path d="M229.1 1319.1l6.6 6.6m0 -6.6l-6.6 6.6M218.3 1325l6.6 6.6m0 -6.6l-6.6 6.6M285.8 1280.8l6.6 6.6m0 -6.6l-6.6 6.6M332.4 1270l6.6 6.6m0 -6.6l-6.6 6.6M251.6 1295l6.6 6.6m0 -6.6l-6.6 6.6M259.1 1302.5l6.6 6.6m0 -6.6l-6.6 6.6" stroke="#2171b5" stroke-width="3.6" stroke-linecap="round" fill="none"/><path d="M253.3 1313.3l6.6 6.6m0 -6.6l-6.6 6.6M260.8 1321.6l6.6 6.6m0 -6.6l-6.6 6.6M288.3 1303.3l6.6 6.6m0 -6.6l-6.6 6.6M294.9 1301.6l6.6 6.6m0 -6.6l-6.6 6.6M299.1 1288.3l6.6 6.6m0 -6.6l-6.6 6.6M304.9 1295l6.6 6.6m0 -6.6l-6.6 6.6M311.6 1285l6.6 6.6m0 -6.6l-6.6 6.6M338.2 1280.8l6.6 6.6m0 -6.6l-6.6 6.6" stroke="#08306b" stroke-width="3.6" stroke-linecap="round" fill="none"/><path d="M275 1295.8l6.6 6.6m0 -6.6l-6.6 6.6M278.3 1294.2l6.6 6.6m0 -6.6l-6.6 6.6" stroke="#cc661e" stroke-width="3.6" stroke-linecap="round" fill="none"/><line x1="147.3" y1="1379.4" x2="412.8" y2="1240.8" stroke="#cc651c" stroke-width="4.2"/></g><rect x="147.3" y="1222.8" width="265.5" height="158.9" fill="none" stroke="#333" stroke-width="2.4"/><text x="153.6" y="1251.5">61/179</text><text x="230.8" y="1287.5" fill="#cc661e">Tc1</text><text x="222.5" y="1311.7" fill="#cc661e">Tc3</text><line x1="197.5" y1="1382.6" x2="197.5" y2="1394.2" stroke="#333" stroke-width="3.6"/><text x="199.5" y="1421" text-anchor="middle">0.03</text><line x1="261.6" y1="1382.6" x2="261.6" y2="1394.2" stroke="#333" stroke-width="3.6"/><text x="263.6" y="1421" text-anchor="middle">0.50</text><line x1="325.6" y1="1382.6" x2="325.6" y2="1394.2" stroke="#333" stroke-width="3.6"/><text x="327.6" y="1421" text-anchor="middle">8</text><line x1="389.7" y1="1382.6" x2="389.7" y2="1394.2" stroke="#333" stroke-width="3.6"/><text x="391.7" y="1421" text-anchor="middle">128</text><rect x="427.3" y="1163.8" width="266" height="57.2" fill="#d9d9d9" stroke="#333" stroke-width="2.4"/><text x="561.8" y="1201" text-anchor="middle" fill="#1a1a1a">2</text><g clip-path="url(#cc1)"><path d="M427.3 1220.7H693.3M427.3 1241.7H693.3M427.3 1262.6H693.3M427.3 1283.5H693.3M427.3 1304.5H693.3M427.3 1325.5H693.3M427.3 1346.4H693.3M427.3 1367.4H693.3" stroke="#e6e6e6" stroke-width="3" fill="none"/><path d="M445.5 1222.8V1381.7M477.5 1222.8V1381.7M509.6 1222.8V1381.7M541.6 1222.8V1381.7M573.6 1222.8V1381.7M605.6 1222.8V1381.7M637.7 1222.8V1381.7M669.7 1222.8V1381.7" stroke="#e6e6e6" stroke-width="3" fill="none"/><line x1="428.5" y1="1304.9" x2="428.5" y2="1308.3" stroke="#ababab" stroke-width="3" stroke-dasharray="5 3"/><line x1="428.5" y1="1338.3" x2="428.5" y2="1373.2" stroke="#ababab" stroke-width="3" stroke-dasharray="5 3"/><path d="M479.2 1330.8l6.6 6.6m0 -6.6l-6.6 6.6M476.7 1343.3l6.6 6.6m0 -6.6l-6.6 6.6M483.3 1338.3l6.6 6.6m0 -6.6l-6.6 6.6M488.3 1351.6l6.6 6.6m0 -6.6l-6.6 6.6M491.7 1330l6.6 6.6m0 -6.6l-6.6 6.6M495 1343.3l6.6 6.6m0 -6.6l-6.6 6.6M500 1335l6.6 6.6m0 -6.6l-6.6 6.6M503.3 1345l6.6 6.6m0 -6.6l-6.6 6.6M505 1326.6l6.6 6.6m0 -6.6l-6.6 6.6M509.1 1350l6.6 6.6m0 -6.6l-6.6 6.6M510 1338.3l6.6 6.6m0 -6.6l-6.6 6.6M515 1328.3l6.6 6.6m0 -6.6l-6.6 6.6M520 1333.3l6.6 6.6m0 -6.6l-6.6 6.6M524.1 1355.8l6.6 6.6m0 -6.6l-6.6 6.6M525 1326.6l6.6 6.6m0 -6.6l-6.6 6.6M530 1330l6.6 6.6m0 -6.6l-6.6 6.6M536.6 1325l6.6 6.6m0 -6.6l-6.6 6.6M546.6 1321.6l6.6 6.6m0 -6.6l-6.6 6.6M551.6 1332.5l6.6 6.6m0 -6.6l-6.6 6.6M555 1318.3l6.6 6.6m0 -6.6l-6.6 6.6M563.3 1316.6l6.6 6.6m0 -6.6l-6.6 6.6M569.9 1320.8l6.6 6.6m0 -6.6l-6.6 6.6M571.6 1311.6l6.6 6.6m0 -6.6l-6.6 6.6M576.6 1310l6.6 6.6m0 -6.6l-6.6 6.6M583.3 1302.5l6.6 6.6m0 -6.6l-6.6 6.6M593.3 1295l6.6 6.6m0 -6.6l-6.6 6.6M603.3 1290l6.6 6.6m0 -6.6l-6.6 6.6M616.6 1293.3l6.6 6.6m0 -6.6l-6.6 6.6M631.6 1256.7l6.6 6.6m0 -6.6l-6.6 6.6M634.9 1260l6.6 6.6m0 -6.6l-6.6 6.6M501.6 1377.4l6.6 6.6m0 -6.6l-6.6 6.6M531.6 1377.4l6.6 6.6m0 -6.6l-6.6 6.6M550 1377.4l6.6 6.6m0 -6.6l-6.6 6.6M556.6 1377.4l6.6 6.6m0 -6.6l-6.6 6.6M536.6 1324.5l6.6 6.6m0 -6.6l-6.6 6.6M481.2 1347.9l6.6 6.6m0 -6.6l-6.6 6.6M522.9 1331l6.6 6.6m0 -6.6l-6.6 6.6M539.9 1319l6.6 6.6m0 -6.6l-6.6 6.6M482.1 1348.1l6.6 6.6m0 -6.6l-6.6 6.6M543.6 1323.4l6.6 6.6m0 -6.6l-6.6 6.6M545.3 1321l6.6 6.6m0 -6.6l-6.6 6.6M486.2 1346l6.6 6.6m0 -6.6l-6.6 6.6M544.8 1318.5l6.6 6.6m0 -6.6l-6.6 6.6M528.1 1328.7l6.6 6.6m0 -6.6l-6.6 6.6M550.1 1313.1l6.6 6.6m0 -6.6l-6.6 6.6M516.4 1332.5l6.6 6.6m0 -6.6l-6.6 6.6M553 1316.4l6.6 6.6m0 -6.6l-6.6 6.6M556.2 1305.8l6.6 6.6m0 -6.6l-6.6 6.6M482.3 1351.9l6.6 6.6m0 -6.6l-6.6 6.6M486.3 1351.3l6.6 6.6m0 -6.6l-6.6 6.6M549.8 1317.5l6.6 6.6m0 -6.6l-6.6 6.6M579.5 1295.3l6.6 6.6m0 -6.6l-6.6 6.6M505.9 1339.6l6.6 6.6m0 -6.6l-6.6 6.6M527.1 1324.3l6.6 6.6m0 -6.6l-6.6 6.6M541.2 1322.2l6.6 6.6m0 -6.6l-6.6 6.6M513 1336.9l6.6 6.6m0 -6.6l-6.6 6.6M517.6 1333.2l6.6 6.6m0 -6.6l-6.6 6.6M512.3 1332.3l6.6 6.6m0 -6.6l-6.6 6.6M518.1 1329.9l6.6 6.6m0 -6.6l-6.6 6.6M541.5 1323.1l6.6 6.6m0 -6.6l-6.6 6.6M511 1332.5l6.6 6.6m0 -6.6l-6.6 6.6M518.9 1333.5l6.6 6.6m0 -6.6l-6.6 6.6M559.7 1312.4l6.6 6.6m0 -6.6l-6.6 6.6M482.8 1349.4l6.6 6.6m0 -6.6l-6.6 6.6M538.8 1330.1l6.6 6.6m0 -6.6l-6.6 6.6M555.9 1312.7l6.6 6.6m0 -6.6l-6.6 6.6M512 1343.1l6.6 6.6m0 -6.6l-6.6 6.6M503 1332.6l6.6 6.6m0 -6.6l-6.6 6.6M563 1300.6l6.6 6.6m0 -6.6l-6.6 6.6M504.6 1342.7l6.6 6.6m0 -6.6l-6.6 6.6M499.3 1344.2l6.6 6.6m0 -6.6l-6.6 6.6M524.9 1327.4l6.6 6.6m0 -6.6l-6.6 6.6M552.1 1314.3l6.6 6.6m0 -6.6l-6.6 6.6M490.5 1339.4l6.6 6.6m0 -6.6l-6.6 6.6M513.2 1332.3l6.6 6.6m0 -6.6l-6.6 6.6M514.5 1330.2l6.6 6.6m0 -6.6l-6.6 6.6" stroke="#ababab" stroke-width="3.6" stroke-linecap="round" fill="none"/><path d="M583.9 1278.5l6.6 6.6m0 -6.6l-6.6 6.6M587.1 1281.4l6.6 6.6m0 -6.6l-6.6 6.6M580.2 1284.2l6.6 6.6m0 -6.6l-6.6 6.6M570.7 1288.1l6.6 6.6m0 -6.6l-6.6 6.6M601.9 1276l6.6 6.6m0 -6.6l-6.6 6.6M583.8 1286.6l6.6 6.6m0 -6.6l-6.6 6.6M615.2 1273.3l6.6 6.6m0 -6.6l-6.6 6.6M569.3 1287.4l6.6 6.6m0 -6.6l-6.6 6.6M620.8 1266.4l6.6 6.6m0 -6.6l-6.6 6.6M608.2 1272.6l6.6 6.6m0 -6.6l-6.6 6.6M622 1263.8l6.6 6.6m0 -6.6l-6.6 6.6M620.4 1258.6l6.6 6.6m0 -6.6l-6.6 6.6M620.6 1269.6l6.6 6.6m0 -6.6l-6.6 6.6M601.2 1273.7l6.6 6.6m0 -6.6l-6.6 6.6" stroke="#9ecae1" stroke-width="3.6" stroke-linecap="round" fill="none"/><path d="M506.6 1311.6l6.6 6.6m0 -6.6l-6.6 6.6M510 1308.3l6.6 6.6m0 -6.6l-6.6 6.6M520 1310l6.6 6.6m0 -6.6l-6.6 6.6M533.3 1298.3l6.6 6.6m0 -6.6l-6.6 6.6M583.3 1271.7l6.6 6.6m0 -6.6l-6.6 6.6M588.3 1268.3l6.6 6.6m0 -6.6l-6.6 6.6M593.3 1275l6.6 6.6m0 -6.6l-6.6 6.6M598.3 1265l6.6 6.6m0 -6.6l-6.6 6.6M603.3 1263.3l6.6 6.6m0 -6.6l-6.6 6.6M589.9 1278.3l6.6 6.6m0 -6.6l-6.6 6.6M584.9 1280l6.6 6.6m0 -6.6l-6.6 6.6M613.2 1260l6.6 6.6m0 -6.6l-6.6 6.6M618.2 1253.3l6.6 6.6m0 -6.6l-6.6 6.6M621.6 1258.3l6.6 6.6m0 -6.6l-6.6 6.6M618.2 1261.7l6.6 6.6m0 -6.6l-6.6 6.6M644.9 1240l6.6 6.6m0 -6.6l-6.6 6.6M653.2 1235.9l6.6 6.6m0 -6.6l-6.6 6.6M667.4 1230.9l6.6 6.6m0 -6.6l-6.6 6.6M561.6 1283.3l6.6 6.6m0 -6.6l-6.6 6.6" stroke="#9ecae1" stroke-width="3.6" stroke-linecap="round" fill="none"/><path d="M515 1318.3l6.6 6.6m0 -6.6l-6.6 6.6M496.7 1326.6l6.6 6.6m0 -6.6l-6.6 6.6M525 1310l6.6 6.6m0 -6.6l-6.6 6.6M533.3 1301.6l6.6 6.6m0 -6.6l-6.6 6.6M560.8 1281.7l6.6 6.6m0 -6.6l-6.6 6.6M583.3 1285l6.6 6.6m0 -6.6l-6.6 6.6M609.9 1269.2l6.6 6.6m0 -6.6l-6.6 6.6M543.3 1301.6l6.6 6.6m0 -6.6l-6.6 6.6" stroke="#2171b5" stroke-width="3.6" stroke-linecap="round" fill="none"/><path d="M531.6 1311.6l6.6 6.6m0 -6.6l-6.6 6.6M526.6 1311.6l6.6 6.6m0 -6.6l-6.6 6.6M548.3 1304.1l6.6 6.6m0 -6.6l-6.6 6.6M565.8 1290l6.6 6.6m0 -6.6l-6.6 6.6M566.6 1307.5l6.6 6.6m0 -6.6l-6.6 6.6M573.3 1298.3l6.6 6.6m0 -6.6l-6.6 6.6M594.9 1296.6l6.6 6.6m0 -6.6l-6.6 6.6M619.1 1281.7l6.6 6.6m0 -6.6l-6.6 6.6M558.3 1295l6.6 6.6m0 -6.6l-6.6 6.6" stroke="#08306b" stroke-width="3.6" stroke-linecap="round" fill="none"/><path d="M550 1290l6.6 6.6m0 -6.6l-6.6 6.6M552.5 1297.5l6.6 6.6m0 -6.6l-6.6 6.6" stroke="#cc661e" stroke-width="3.6" stroke-linecap="round" fill="none"/><line x1="427.3" y1="1379.4" x2="693.3" y2="1240.8" stroke="#cc651c" stroke-width="4.2"/></g><rect x="427.3" y="1222.8" width="266" height="158.9" fill="none" stroke="#333" stroke-width="2.4"/><text x="433.6" y="1251.5">62/179</text><text x="505" y="1287.5" fill="#cc661e">Tc1</text><text x="500.8" y="1311.7" fill="#cc661e">Tc3</text><line x1="477.5" y1="1382.6" x2="477.5" y2="1394.2" stroke="#333" stroke-width="3.6"/><text x="479.5" y="1421" text-anchor="middle">0.03</text><line x1="541.6" y1="1382.6" x2="541.6" y2="1394.2" stroke="#333" stroke-width="3.6"/><text x="543.6" y="1421" text-anchor="middle">0.50</text><line x1="605.6" y1="1382.6" x2="605.6" y2="1394.2" stroke="#333" stroke-width="3.6"/><text x="607.6" y="1421" text-anchor="middle">8</text><line x1="669.7" y1="1382.6" x2="669.7" y2="1394.2" stroke="#333" stroke-width="3.6"/><text x="671.7" y="1421" text-anchor="middle">128</text><rect x="707" y="1163.8" width="265.7" height="57.2" fill="#d9d9d9" stroke="#333" stroke-width="2.4"/><text x="841.4" y="1201" text-anchor="middle" fill="#1a1a1a">3</text><g clip-path="url(#cc2)"><path d="M707 1220.7H972.7M707 1241.7H972.7M707 1262.6H972.7M707 1283.5H972.7M707 1304.5H972.7M707 1325.5H972.7M707 1346.4H972.7M707 1367.4H972.7" stroke="#e6e6e6" stroke-width="3" fill="none"/><path d="M725.2 1222.8V1381.7M757.2 1222.8V1381.7M789.3 1222.8V1381.7M821.3 1222.8V1381.7M853.3 1222.8V1381.7M885.4 1222.8V1381.7M917.4 1222.8V1381.7M949.4 1222.8V1381.7" stroke="#e6e6e6" stroke-width="3" fill="none"/><line x1="708.2" y1="1290.8" x2="708.2" y2="1294.1" stroke="#ababab" stroke-width="3" stroke-dasharray="5 3"/><line x1="708.2" y1="1341.6" x2="708.2" y2="1361.6" stroke="#ababab" stroke-width="3" stroke-dasharray="5 3"/><path d="M746.7 1345l6.6 6.6m0 -6.6l-6.6 6.6M761.7 1345l6.6 6.6m0 -6.6l-6.6 6.6M763.3 1351.6l6.6 6.6m0 -6.6l-6.6 6.6M771.7 1346.6l6.6 6.6m0 -6.6l-6.6 6.6M775 1331.6l6.6 6.6m0 -6.6l-6.6 6.6M780 1335l6.6 6.6m0 -6.6l-6.6 6.6M785 1345l6.6 6.6m0 -6.6l-6.6 6.6M788.3 1353.3l6.6 6.6m0 -6.6l-6.6 6.6M790 1331.6l6.6 6.6m0 -6.6l-6.6 6.6M793.3 1318.3l6.6 6.6m0 -6.6l-6.6 6.6M795 1341.6l6.6 6.6m0 -6.6l-6.6 6.6M800 1345l6.6 6.6m0 -6.6l-6.6 6.6M803.3 1331.6l6.6 6.6m0 -6.6l-6.6 6.6M805 1348.3l6.6 6.6m0 -6.6l-6.6 6.6M810 1328.3l6.6 6.6m0 -6.6l-6.6 6.6M816.6 1328.3l6.6 6.6m0 -6.6l-6.6 6.6M823.3 1325l6.6 6.6m0 -6.6l-6.6 6.6M830 1318.3l6.6 6.6m0 -6.6l-6.6 6.6M833.3 1341.6l6.6 6.6m0 -6.6l-6.6 6.6M835 1330l6.6 6.6m0 -6.6l-6.6 6.6M839.9 1325l6.6 6.6m0 -6.6l-6.6 6.6M844.9 1315l6.6 6.6m0 -6.6l-6.6 6.6M849.9 1321.6l6.6 6.6m0 -6.6l-6.6 6.6M853.3 1313.3l6.6 6.6m0 -6.6l-6.6 6.6M883.3 1290l6.6 6.6m0 -6.6l-6.6 6.6M888.3 1295l6.6 6.6m0 -6.6l-6.6 6.6M909.9 1258.3l6.6 6.6m0 -6.6l-6.6 6.6M914.9 1257.5l6.6 6.6m0 -6.6l-6.6 6.6M743.3 1377.4l6.6 6.6m0 -6.6l-6.6 6.6M796.3 1329.5l6.6 6.6m0 -6.6l-6.6 6.6M780.4 1344.9l6.6 6.6m0 -6.6l-6.6 6.6M815.2 1324l6.6 6.6m0 -6.6l-6.6 6.6M844.3 1304.6l6.6 6.6m0 -6.6l-6.6 6.6M777.7 1344.3l6.6 6.6m0 -6.6l-6.6 6.6M841.8 1304.6l6.6 6.6m0 -6.6l-6.6 6.6M855.2 1299.3l6.6 6.6m0 -6.6l-6.6 6.6M843.2 1310.2l6.6 6.6m0 -6.6l-6.6 6.6M845 1302l6.6 6.6m0 -6.6l-6.6 6.6M760.8 1351.6l6.6 6.6m0 -6.6l-6.6 6.6M824.9 1313.2l6.6 6.6m0 -6.6l-6.6 6.6M849.1 1308.3l6.6 6.6m0 -6.6l-6.6 6.6M765.2 1346.5l6.6 6.6m0 -6.6l-6.6 6.6M788 1338l6.6 6.6m0 -6.6l-6.6 6.6M787.7 1332l6.6 6.6m0 -6.6l-6.6 6.6M814.4 1322.4l6.6 6.6m0 -6.6l-6.6 6.6M803.7 1332.7l6.6 6.6m0 -6.6l-6.6 6.6M808.8 1328.2l6.6 6.6m0 -6.6l-6.6 6.6M840.2 1303.5l6.6 6.6m0 -6.6l-6.6 6.6M760.2 1355.2l6.6 6.6m0 -6.6l-6.6 6.6M765.7 1352.2l6.6 6.6m0 -6.6l-6.6 6.6M773.1 1343.7l6.6 6.6m0 -6.6l-6.6 6.6M772.9 1350.4l6.6 6.6m0 -6.6l-6.6 6.6M767.1 1344.3l6.6 6.6m0 -6.6l-6.6 6.6M860.7 1299.3l6.6 6.6m0 -6.6l-6.6 6.6M848.2 1310.2l6.6 6.6m0 -6.6l-6.6 6.6M768.9 1352.1l6.6 6.6m0 -6.6l-6.6 6.6M811.8 1329.7l6.6 6.6m0 -6.6l-6.6 6.6M792.6 1330.9l6.6 6.6m0 -6.6l-6.6 6.6M792.5 1328.5l6.6 6.6m0 -6.6l-6.6 6.6M796.3 1334.5l6.6 6.6m0 -6.6l-6.6 6.6M826.8 1312l6.6 6.6m0 -6.6l-6.6 6.6M820.6 1320l6.6 6.6m0 -6.6l-6.6 6.6M797.3 1327.8l6.6 6.6m0 -6.6l-6.6 6.6M779.7 1345.5l6.6 6.6m0 -6.6l-6.6 6.6M793.9 1337.2l6.6 6.6m0 -6.6l-6.6 6.6M772.8 1347.3l6.6 6.6m0 -6.6l-6.6 6.6M817.4 1322.2l6.6 6.6m0 -6.6l-6.6 6.6M833.9 1313.7l6.6 6.6m0 -6.6l-6.6 6.6M799.3 1330.4l6.6 6.6m0 -6.6l-6.6 6.6M768.2 1349l6.6 6.6m0 -6.6l-6.6 6.6M778.4 1343.2l6.6 6.6m0 -6.6l-6.6 6.6" stroke="#ababab" stroke-width="3.6" stroke-linecap="round" fill="none"/><path d="M899.4 1265.3l6.6 6.6m0 -6.6l-6.6 6.6M857.4 1288.2l6.6 6.6m0 -6.6l-6.6 6.6M848 1291.7l6.6 6.6m0 -6.6l-6.6 6.6M897.1 1273.2l6.6 6.6m0 -6.6l-6.6 6.6M853.9 1286.2l6.6 6.6m0 -6.6l-6.6 6.6M897.2 1265.2l6.6 6.6m0 -6.6l-6.6 6.6M887 1276.7l6.6 6.6m0 -6.6l-6.6 6.6M896.8 1268.6l6.6 6.6m0 -6.6l-6.6 6.6M903.7 1262.7l6.6 6.6m0 -6.6l-6.6 6.6M881.3 1272.5l6.6 6.6m0 -6.6l-6.6 6.6M894.5 1267.6l6.6 6.6m0 -6.6l-6.6 6.6M848.8 1287.2l6.6 6.6m0 -6.6l-6.6 6.6M892.6 1268.5l6.6 6.6m0 -6.6l-6.6 6.6M877.3 1279.5l6.6 6.6m0 -6.6l-6.6 6.6" stroke="#9ecae1" stroke-width="3.6" stroke-linecap="round" fill="none"/><path d="M796.6 1311.6l6.6 6.6m0 -6.6l-6.6 6.6M811.6 1300l6.6 6.6m0 -6.6l-6.6 6.6M820 1295l6.6 6.6m0 -6.6l-6.6 6.6M838.3 1285l6.6 6.6m0 -6.6l-6.6 6.6M843.3 1280l6.6 6.6m0 -6.6l-6.6 6.6M863.3 1271.7l6.6 6.6m0 -6.6l-6.6 6.6M868.3 1268.3l6.6 6.6m0 -6.6l-6.6 6.6M873.3 1275l6.6 6.6m0 -6.6l-6.6 6.6M879.9 1261.7l6.6 6.6m0 -6.6l-6.6 6.6M886.6 1263.3l6.6 6.6m0 -6.6l-6.6 6.6M893.2 1260l6.6 6.6m0 -6.6l-6.6 6.6M896.6 1251.7l6.6 6.6m0 -6.6l-6.6 6.6M901.6 1258.3l6.6 6.6m0 -6.6l-6.6 6.6M898.2 1250l6.6 6.6m0 -6.6l-6.6 6.6M866.6 1276.7l6.6 6.6m0 -6.6l-6.6 6.6M926.6 1238.4l6.6 6.6m0 -6.6l-6.6 6.6M933.2 1234.2l6.6 6.6m0 -6.6l-6.6 6.6M948.2 1229.2l6.6 6.6m0 -6.6l-6.6 6.6M856.6 1283.3l6.6 6.6m0 -6.6l-6.6 6.6" stroke="#9ecae1" stroke-width="3.6" stroke-linecap="round" fill="none"/><path d="M781.6 1322.5l6.6 6.6m0 -6.6l-6.6 6.6M811.6 1300.8l6.6 6.6m0 -6.6l-6.6 6.6M892.4 1270l6.6 6.6m0 -6.6l-6.6 6.6M818.3 1308.3l6.6 6.6m0 -6.6l-6.6 6.6M849.1 1283.3l6.6 6.6m0 -6.6l-6.6 6.6" stroke="#2171b5" stroke-width="3.6" stroke-linecap="round" fill="none"/><path d="M704.2 1364.1l6.6 6.6m0 -6.6l-6.6 6.6M801.6 1311.6l6.6 6.6m0 -6.6l-6.6 6.6M810 1313.3l6.6 6.6m0 -6.6l-6.6 6.6M811.6 1323.3l6.6 6.6m0 -6.6l-6.6 6.6M826.6 1301.6l6.6 6.6m0 -6.6l-6.6 6.6M848.3 1305l6.6 6.6m0 -6.6l-6.6 6.6M854.9 1288.3l6.6 6.6m0 -6.6l-6.6 6.6M858.3 1301.6l6.6 6.6m0 -6.6l-6.6 6.6M869.9 1285l6.6 6.6m0 -6.6l-6.6 6.6M873.3 1294.2l6.6 6.6m0 -6.6l-6.6 6.6M896.6 1282.5l6.6 6.6m0 -6.6l-6.6 6.6" stroke="#08306b" stroke-width="3.6" stroke-linecap="round" fill="none"/><path d="M828.3 1299.1l6.6 6.6m0 -6.6l-6.6 6.6M835 1291.7l6.6 6.6m0 -6.6l-6.6 6.6" stroke="#cc661e" stroke-width="3.6" stroke-linecap="round" fill="none"/><line x1="707" y1="1379.4" x2="972.7" y2="1240.8" stroke="#cc651c" stroke-width="4.2"/></g><rect x="707" y="1222.8" width="265.7" height="158.9" fill="none" stroke="#333" stroke-width="2.4"/><text x="713.3" y="1251.5">70/179</text><text x="790" y="1284.2" fill="#cc661e">Tc1</text><text x="776.7" y="1310.8" fill="#cc661e">Tc3</text><line x1="757.2" y1="1382.6" x2="757.2" y2="1394.2" stroke="#333" stroke-width="3.6"/><text x="759.2" y="1421" text-anchor="middle">0.03</text><line x1="821.3" y1="1382.6" x2="821.3" y2="1394.2" stroke="#333" stroke-width="3.6"/><text x="823.3" y="1421" text-anchor="middle">0.50</text><line x1="885.4" y1="1382.6" x2="885.4" y2="1394.2" stroke="#333" stroke-width="3.6"/><text x="887.4" y="1421" text-anchor="middle">8</text><line x1="949.4" y1="1382.6" x2="949.4" y2="1394.2" stroke="#333" stroke-width="3.6"/><text x="951.4" y="1421" text-anchor="middle">128</text><rect x="1009.7" y="1163.8" width="265.9" height="57.2" fill="#d9d9d9" stroke="#333" stroke-width="2.4"/><text x="1144.2" y="1201" text-anchor="middle" fill="#1a1a1a">1</text><g clip-path="url(#cc3)"><path d="M1009.7 1220.7H1275.6M1009.7 1241.7H1275.6M1009.7 1262.6H1275.6M1009.7 1283.5H1275.6M1009.7 1304.5H1275.6M1009.7 1325.5H1275.6M1009.7 1346.4H1275.6M1009.7 1367.4H1275.6" stroke="#e6e6e6" stroke-width="3" fill="none"/><path d="M1027.9 1222.8V1381.7M1059.9 1222.8V1381.7M1092 1222.8V1381.7M1124 1222.8V1381.7M1156 1222.8V1381.7M1188.1 1222.8V1381.7M1220.1 1222.8V1381.7M1252.1 1222.8V1381.7" stroke="#e6e6e6" stroke-width="3" fill="none"/><line x1="1010.9" y1="1313.3" x2="1010.9" y2="1316.6" stroke="#ababab" stroke-width="3" stroke-dasharray="5 3"/><line x1="1010.9" y1="1343.3" x2="1010.9" y2="1364.9" stroke="#ababab" stroke-width="3" stroke-dasharray="5 3"/><path d="M1041.2 1348.3l6.6 6.6m0 -6.6l-6.6 6.6M1042 1353.3l6.6 6.6m0 -6.6l-6.6 6.6M1056.2 1368.3l6.6 6.6m0 -6.6l-6.6 6.6M1058.7 1358.3l6.6 6.6m0 -6.6l-6.6 6.6M1060.3 1345l6.6 6.6m0 -6.6l-6.6 6.6M1070.3 1351.6l6.6 6.6m0 -6.6l-6.6 6.6M1075.3 1343.3l6.6 6.6m0 -6.6l-6.6 6.6M1088.6 1353.3l6.6 6.6m0 -6.6l-6.6 6.6M1093.6 1354.9l6.6 6.6m0 -6.6l-6.6 6.6M1098.6 1335l6.6 6.6m0 -6.6l-6.6 6.6M1105.3 1321.6l6.6 6.6m0 -6.6l-6.6 6.6M1108.6 1328.3l6.6 6.6m0 -6.6l-6.6 6.6M1107 1350l6.6 6.6m0 -6.6l-6.6 6.6M1107 1361.6l6.6 6.6m0 -6.6l-6.6 6.6M1110.3 1354.9l6.6 6.6m0 -6.6l-6.6 6.6M1115.3 1366.6l6.6 6.6m0 -6.6l-6.6 6.6M1115.3 1340l6.6 6.6m0 -6.6l-6.6 6.6M1118.6 1331.6l6.6 6.6m0 -6.6l-6.6 6.6M1123.6 1335l6.6 6.6m0 -6.6l-6.6 6.6M1127 1328.3l6.6 6.6m0 -6.6l-6.6 6.6M1128.6 1345l6.6 6.6m0 -6.6l-6.6 6.6M1133.6 1325l6.6 6.6m0 -6.6l-6.6 6.6M1132 1331.6l6.6 6.6m0 -6.6l-6.6 6.6M1150.3 1345l6.6 6.6m0 -6.6l-6.6 6.6M1161.1 1321.6l6.6 6.6m0 -6.6l-6.6 6.6M1161.1 1331.6l6.6 6.6m0 -6.6l-6.6 6.6M1173.6 1318.3l6.6 6.6m0 -6.6l-6.6 6.6M1173.6 1328.3l6.6 6.6m0 -6.6l-6.6 6.6M1178.6 1305l6.6 6.6m0 -6.6l-6.6 6.6M1188.6 1314.1l6.6 6.6m0 -6.6l-6.6 6.6M1165.3 1298.3l6.6 6.6m0 -6.6l-6.6 6.6M1203.6 1307.5l6.6 6.6m0 -6.6l-6.6 6.6M1210.2 1308.3l6.6 6.6m0 -6.6l-6.6 6.6M1231.9 1290.8l6.6 6.6m0 -6.6l-6.6 6.6M1260.2 1280l6.6 6.6m0 -6.6l-6.6 6.6M1221.9 1259.2l6.6 6.6m0 -6.6l-6.6 6.6M1078.7 1377.4l6.6 6.6m0 -6.6l-6.6 6.6M1099.5 1377.4l6.6 6.6m0 -6.6l-6.6 6.6M1099.9 1333.8l6.6 6.6m0 -6.6l-6.6 6.6M1103 1333.7l6.6 6.6m0 -6.6l-6.6 6.6M1098.2 1330.3l6.6 6.6m0 -6.6l-6.6 6.6M1105.2 1335.1l6.6 6.6m0 -6.6l-6.6 6.6M1070.6 1354.4l6.6 6.6m0 -6.6l-6.6 6.6M1113.7 1333.9l6.6 6.6m0 -6.6l-6.6 6.6M1162.5 1294.8l6.6 6.6m0 -6.6l-6.6 6.6M1104.6 1330.4l6.6 6.6m0 -6.6l-6.6 6.6M1139.2 1305l6.6 6.6m0 -6.6l-6.6 6.6M1078.6 1344.7l6.6 6.6m0 -6.6l-6.6 6.6M1133.3 1316.9l6.6 6.6m0 -6.6l-6.6 6.6M1140.1 1307.1l6.6 6.6m0 -6.6l-6.6 6.6M1131.6 1309.9l6.6 6.6m0 -6.6l-6.6 6.6M1115.4 1324.8l6.6 6.6m0 -6.6l-6.6 6.6M1111.9 1328.3l6.6 6.6m0 -6.6l-6.6 6.6M1128.4 1314.5l6.6 6.6m0 -6.6l-6.6 6.6M1154.7 1302.8l6.6 6.6m0 -6.6l-6.6 6.6M1077.4 1334.6l6.6 6.6m0 -6.6l-6.6 6.6M1071.9 1344.1l6.6 6.6m0 -6.6l-6.6 6.6M1139.3 1312.3l6.6 6.6m0 -6.6l-6.6 6.6M1156.7 1303.3l6.6 6.6m0 -6.6l-6.6 6.6M1115.4 1330l6.6 6.6m0 -6.6l-6.6 6.6M1107.8 1324l6.6 6.6m0 -6.6l-6.6 6.6M1136.2 1305.1l6.6 6.6m0 -6.6l-6.6 6.6M1081.2 1343.6l6.6 6.6m0 -6.6l-6.6 6.6M1089.6 1335.4l6.6 6.6m0 -6.6l-6.6 6.6M1082.6 1342.3l6.6 6.6m0 -6.6l-6.6 6.6M1122.5 1323.1l6.6 6.6m0 -6.6l-6.6 6.6M1094.5 1337.2l6.6 6.6m0 -6.6l-6.6 6.6M1086 1344.7l6.6 6.6m0 -6.6l-6.6 6.6M1133.4 1319.8l6.6 6.6m0 -6.6l-6.6 6.6M1160.5 1294.7l6.6 6.6m0 -6.6l-6.6 6.6M1092.5 1335.8l6.6 6.6m0 -6.6l-6.6 6.6M1134.8 1321.4l6.6 6.6m0 -6.6l-6.6 6.6M1104.7 1328.2l6.6 6.6m0 -6.6l-6.6 6.6M1150.2 1309.7l6.6 6.6m0 -6.6l-6.6 6.6M1122.4 1320.3l6.6 6.6m0 -6.6l-6.6 6.6M1089.6 1336l6.6 6.6m0 -6.6l-6.6 6.6M1084.5 1346l6.6 6.6m0 -6.6l-6.6 6.6M1064.4 1354.5l6.6 6.6m0 -6.6l-6.6 6.6M1111.5 1325.3l6.6 6.6m0 -6.6l-6.6 6.6M1101.5 1334.7l6.6 6.6m0 -6.6l-6.6 6.6" stroke="#ababab" stroke-width="3.6" stroke-linecap="round" fill="none"/><path d="M1183.4 1269.6l6.6 6.6m0 -6.6l-6.6 6.6M1189.1 1267.3l6.6 6.6m0 -6.6l-6.6 6.6M1149 1291.1l6.6 6.6m0 -6.6l-6.6 6.6M1168.7 1282.7l6.6 6.6m0 -6.6l-6.6 6.6M1174.8 1276.2l6.6 6.6m0 -6.6l-6.6 6.6M1177.7 1278.4l6.6 6.6m0 -6.6l-6.6 6.6M1161.2 1285.2l6.6 6.6m0 -6.6l-6.6 6.6M1183.7 1279.2l6.6 6.6m0 -6.6l-6.6 6.6M1205.9 1264l6.6 6.6m0 -6.6l-6.6 6.6M1172.1 1276l6.6 6.6m0 -6.6l-6.6 6.6M1181.3 1278.6l6.6 6.6m0 -6.6l-6.6 6.6M1155.8 1293.2l6.6 6.6m0 -6.6l-6.6 6.6M1165.1 1284.4l6.6 6.6m0 -6.6l-6.6 6.6M1188.5 1266.7l6.6 6.6m0 -6.6l-6.6 6.6" stroke="#9ecae1" stroke-width="3.6" stroke-linecap="round" fill="none"/><path d="M1107 1290.8l6.6 6.6m0 -6.6l-6.6 6.6M1078.7 1328.3l6.6 6.6m0 -6.6l-6.6 6.6M1082 1325l6.6 6.6m0 -6.6l-6.6 6.6M1092 1318.3l6.6 6.6m0 -6.6l-6.6 6.6M1095.3 1308.3l6.6 6.6m0 -6.6l-6.6 6.6M1112 1315l6.6 6.6m0 -6.6l-6.6 6.6M1132 1295l6.6 6.6m0 -6.6l-6.6 6.6M1135.3 1290l6.6 6.6m0 -6.6l-6.6 6.6M1141.9 1278.3l6.6 6.6m0 -6.6l-6.6 6.6M1155.3 1278.3l6.6 6.6m0 -6.6l-6.6 6.6M1161.9 1275l6.6 6.6m0 -6.6l-6.6 6.6M1166.9 1271.7l6.6 6.6m0 -6.6l-6.6 6.6M1171.9 1270l6.6 6.6m0 -6.6l-6.6 6.6M1178.6 1266.7l6.6 6.6m0 -6.6l-6.6 6.6M1181.9 1265l6.6 6.6m0 -6.6l-6.6 6.6M1186.9 1263.3l6.6 6.6m0 -6.6l-6.6 6.6M1191.9 1260l6.6 6.6m0 -6.6l-6.6 6.6M1196.9 1256.7l6.6 6.6m0 -6.6l-6.6 6.6M1201.9 1261.7l6.6 6.6m0 -6.6l-6.6 6.6M1212.7 1250.8l6.6 6.6m0 -6.6l-6.6 6.6M1235.2 1238.4l6.6 6.6m0 -6.6l-6.6 6.6M1245.2 1232.5l6.6 6.6m0 -6.6l-6.6 6.6M1258.5 1225.9l6.6 6.6m0 -6.6l-6.6 6.6M1138.6 1300l6.6 6.6m0 -6.6l-6.6 6.6M1175.3 1271.7l6.6 6.6m0 -6.6l-6.6 6.6" stroke="#9ecae1" stroke-width="3.6" stroke-linecap="round" fill="none"/><path d="M1053.7 1349.1l6.6 6.6m0 -6.6l-6.6 6.6M1078.7 1333.3l6.6 6.6m0 -6.6l-6.6 6.6M1080.3 1343.3l6.6 6.6m0 -6.6l-6.6 6.6M1090.3 1345l6.6 6.6m0 -6.6l-6.6 6.6M1115.3 1306.6l6.6 6.6m0 -6.6l-6.6 6.6M1120.3 1305l6.6 6.6m0 -6.6l-6.6 6.6M1141.9 1313.3l6.6 6.6m0 -6.6l-6.6 6.6M1146.9 1308.3l6.6 6.6m0 -6.6l-6.6 6.6M1168.6 1285l6.6 6.6m0 -6.6l-6.6 6.6M1183.6 1275l6.6 6.6m0 -6.6l-6.6 6.6M1177.8 1301.6l6.6 6.6m0 -6.6l-6.6 6.6M1137 1302.5l6.6 6.6m0 -6.6l-6.6 6.6" stroke="#2171b5" stroke-width="3.6" stroke-linecap="round" fill="none"/><path d="M1062.8 1328.3l6.6 6.6m0 -6.6l-6.6 6.6M1068.7 1330l6.6 6.6m0 -6.6l-6.6 6.6M1089.5 1317.5l6.6 6.6m0 -6.6l-6.6 6.6M1095.3 1313.3l6.6 6.6m0 -6.6l-6.6 6.6M1107 1305.8l6.6 6.6m0 -6.6l-6.6 6.6M1123.6 1298.3l6.6 6.6m0 -6.6l-6.6 6.6M1137 1303.3l6.6 6.6m0 -6.6l-6.6 6.6M1155.3 1290.8l6.6 6.6m0 -6.6l-6.6 6.6" stroke="#08306b" stroke-width="3.6" stroke-linecap="round" fill="none"/><path d="M1146.1 1287.5l6.6 6.6m0 -6.6l-6.6 6.6" stroke="#cc661e" stroke-width="3.6" stroke-linecap="round" fill="none"/><path d="M1205.8 1293.9l3.8 3.8m0 -3.8l-3.8 3.8" stroke="#cc661e" stroke-width="2.2" stroke-linecap="round" fill="none"/><line x1="1009.7" y1="1379.4" x2="1275.6" y2="1240.8" stroke="#cc651c" stroke-width="4.2"/></g><rect x="1009.7" y="1222.8" width="265.9" height="158.9" fill="none" stroke="#333" stroke-width="2.4"/><text x="1016" y="1251.5">62/179</text><text x="1093.7" y="1284.2" fill="#cc661e">Tc1</text><text x="1217" y="1313.3" fill="#cc661e">Tc3</text><line x1="1059.9" y1="1382.6" x2="1059.9" y2="1394.2" stroke="#333" stroke-width="3.6"/><text x="1061.9" y="1421" text-anchor="middle">0.03</text><line x1="1124" y1="1382.6" x2="1124" y2="1394.2" stroke="#333" stroke-width="3.6"/><text x="1126" y="1421" text-anchor="middle">0.50</text><line x1="1188.1" y1="1382.6" x2="1188.1" y2="1394.2" stroke="#333" stroke-width="3.6"/><text x="1190.1" y="1421" text-anchor="middle">8</text><line x1="1252.1" y1="1382.6" x2="1252.1" y2="1394.2" stroke="#333" stroke-width="3.6"/><text x="1254.1" y="1421" text-anchor="middle">128</text><rect x="1289.3" y="1163.8" width="265.9" height="57.2" fill="#d9d9d9" stroke="#333" stroke-width="2.4"/><text x="1423.8" y="1201" text-anchor="middle" fill="#1a1a1a">2</text><g clip-path="url(#cc4)"><path d="M1289.3 1220.7H1555.2M1289.3 1241.7H1555.2M1289.3 1262.6H1555.2M1289.3 1283.5H1555.2M1289.3 1304.5H1555.2M1289.3 1325.5H1555.2M1289.3 1346.4H1555.2M1289.3 1367.4H1555.2" stroke="#e6e6e6" stroke-width="3" fill="none"/><path d="M1307.5 1222.8V1381.7M1339.5 1222.8V1381.7M1371.6 1222.8V1381.7M1403.6 1222.8V1381.7M1435.6 1222.8V1381.7M1467.7 1222.8V1381.7M1499.7 1222.8V1381.7M1531.7 1222.8V1381.7" stroke="#e6e6e6" stroke-width="3" fill="none"/><line x1="1290.5" y1="1321.6" x2="1290.5" y2="1324.9" stroke="#ababab" stroke-width="3" stroke-dasharray="5 3"/><line x1="1290.5" y1="1348.3" x2="1290.5" y2="1361.6" stroke="#ababab" stroke-width="3" stroke-dasharray="5 3"/><path d="M1312.8 1354.9l6.6 6.6m0 -6.6l-6.6 6.6M1333.7 1358.3l6.6 6.6m0 -6.6l-6.6 6.6M1345.3 1341.6l6.6 6.6m0 -6.6l-6.6 6.6M1350.3 1354.9l6.6 6.6m0 -6.6l-6.6 6.6M1358.7 1338.3l6.6 6.6m0 -6.6l-6.6 6.6M1365.3 1328.3l6.6 6.6m0 -6.6l-6.6 6.6M1372 1325l6.6 6.6m0 -6.6l-6.6 6.6M1375.3 1343.3l6.6 6.6m0 -6.6l-6.6 6.6M1380.3 1348.3l6.6 6.6m0 -6.6l-6.6 6.6M1385.3 1345l6.6 6.6m0 -6.6l-6.6 6.6M1392 1341.6l6.6 6.6m0 -6.6l-6.6 6.6M1392 1361.6l6.6 6.6m0 -6.6l-6.6 6.6M1402 1326.6l6.6 6.6m0 -6.6l-6.6 6.6M1405.3 1331.6l6.6 6.6m0 -6.6l-6.6 6.6M1410.3 1335l6.6 6.6m0 -6.6l-6.6 6.6M1412 1320l6.6 6.6m0 -6.6l-6.6 6.6M1415.3 1323.3l6.6 6.6m0 -6.6l-6.6 6.6M1441.1 1325l6.6 6.6m0 -6.6l-6.6 6.6M1438.6 1331.6l6.6 6.6m0 -6.6l-6.6 6.6M1444.4 1301.6l6.6 6.6m0 -6.6l-6.6 6.6M1445.3 1310l6.6 6.6m0 -6.6l-6.6 6.6M1456.9 1315.8l6.6 6.6m0 -6.6l-6.6 6.6M1473.6 1327.5l6.6 6.6m0 -6.6l-6.6 6.6M1480.2 1318.3l6.6 6.6m0 -6.6l-6.6 6.6M1485.2 1307.5l6.6 6.6m0 -6.6l-6.6 6.6M1510.2 1293.3l6.6 6.6m0 -6.6l-6.6 6.6M1540.2 1280l6.6 6.6m0 -6.6l-6.6 6.6M1503.6 1266.7l6.6 6.6m0 -6.6l-6.6 6.6M1347 1377.4l6.6 6.6m0 -6.6l-6.6 6.6M1372 1377.4l6.6 6.6m0 -6.6l-6.6 6.6M1397 1377.4l6.6 6.6m0 -6.6l-6.6 6.6M1412 1377.4l6.6 6.6m0 -6.6l-6.6 6.6M1441.3 1294.3l6.6 6.6m0 -6.6l-6.6 6.6M1411.5 1314.2l6.6 6.6m0 -6.6l-6.6 6.6M1397.4 1318.9l6.6 6.6m0 -6.6l-6.6 6.6M1353.7 1351.5l6.6 6.6m0 -6.6l-6.6 6.6M1393 1327.6l6.6 6.6m0 -6.6l-6.6 6.6M1378.4 1334.9l6.6 6.6m0 -6.6l-6.6 6.6M1416.2 1314.8l6.6 6.6m0 -6.6l-6.6 6.6M1412.1 1316.6l6.6 6.6m0 -6.6l-6.6 6.6M1400.5 1322.6l6.6 6.6m0 -6.6l-6.6 6.6M1360.8 1336.3l6.6 6.6m0 -6.6l-6.6 6.6M1408.7 1318.2l6.6 6.6m0 -6.6l-6.6 6.6M1407.1 1320.2l6.6 6.6m0 -6.6l-6.6 6.6M1360.5 1337l6.6 6.6m0 -6.6l-6.6 6.6M1433.9 1307.2l6.6 6.6m0 -6.6l-6.6 6.6M1409.7 1319.2l6.6 6.6m0 -6.6l-6.6 6.6M1354.7 1339.7l6.6 6.6m0 -6.6l-6.6 6.6M1438.2 1300.2l6.6 6.6m0 -6.6l-6.6 6.6M1356.6 1343.2l6.6 6.6m0 -6.6l-6.6 6.6M1376.2 1332.2l6.6 6.6m0 -6.6l-6.6 6.6M1416.4 1314.7l6.6 6.6m0 -6.6l-6.6 6.6M1403.7 1315.2l6.6 6.6m0 -6.6l-6.6 6.6M1399.3 1321.3l6.6 6.6m0 -6.6l-6.6 6.6M1408.9 1318l6.6 6.6m0 -6.6l-6.6 6.6M1389.3 1330l6.6 6.6m0 -6.6l-6.6 6.6M1374.3 1335.3l6.6 6.6m0 -6.6l-6.6 6.6M1360.2 1341.5l6.6 6.6m0 -6.6l-6.6 6.6M1349.1 1350.7l6.6 6.6m0 -6.6l-6.6 6.6M1415.9 1306.2l6.6 6.6m0 -6.6l-6.6 6.6M1419.9 1314.9l6.6 6.6m0 -6.6l-6.6 6.6M1398.1 1321.6l6.6 6.6m0 -6.6l-6.6 6.6M1418.4 1307.7l6.6 6.6m0 -6.6l-6.6 6.6M1379.1 1331.1l6.6 6.6m0 -6.6l-6.6 6.6M1369.4 1330.9l6.6 6.6m0 -6.6l-6.6 6.6M1381.6 1323.8l6.6 6.6m0 -6.6l-6.6 6.6M1432.1 1303.9l6.6 6.6m0 -6.6l-6.6 6.6M1346.3 1346.8l6.6 6.6m0 -6.6l-6.6 6.6M1394.1 1327.5l6.6 6.6m0 -6.6l-6.6 6.6M1367.5 1335.4l6.6 6.6m0 -6.6l-6.6 6.6M1421.4 1305.9l6.6 6.6m0 -6.6l-6.6 6.6M1378.6 1329.4l6.6 6.6m0 -6.6l-6.6 6.6M1376.4 1340.3l6.6 6.6m0 -6.6l-6.6 6.6M1383.6 1330.4l6.6 6.6m0 -6.6l-6.6 6.6" stroke="#ababab" stroke-width="3.6" stroke-linecap="round" fill="none"/><path d="M1468.3 1270.7l6.6 6.6m0 -6.6l-6.6 6.6M1458.1 1281.2l6.6 6.6m0 -6.6l-6.6 6.6M1460 1273.4l6.6 6.6m0 -6.6l-6.6 6.6M1456.2 1277.2l6.6 6.6m0 -6.6l-6.6 6.6M1440.2 1286.3l6.6 6.6m0 -6.6l-6.6 6.6M1460.4 1274.8l6.6 6.6m0 -6.6l-6.6 6.6M1430.8 1298l6.6 6.6m0 -6.6l-6.6 6.6M1458.6 1278.5l6.6 6.6m0 -6.6l-6.6 6.6M1467.3 1275l6.6 6.6m0 -6.6l-6.6 6.6M1455.2 1273.2l6.6 6.6m0 -6.6l-6.6 6.6M1462.5 1275.4l6.6 6.6m0 -6.6l-6.6 6.6M1486.1 1264.1l6.6 6.6m0 -6.6l-6.6 6.6M1482.1 1262.1l6.6 6.6m0 -6.6l-6.6 6.6M1436.7 1291.4l6.6 6.6m0 -6.6l-6.6 6.6" stroke="#9ecae1" stroke-width="3.6" stroke-linecap="round" fill="none"/><path d="M1360.3 1321.6l6.6 6.6m0 -6.6l-6.6 6.6M1375.3 1304.1l6.6 6.6m0 -6.6l-6.6 6.6M1378.6 1318.3l6.6 6.6m0 -6.6l-6.6 6.6M1413.6 1291.7l6.6 6.6m0 -6.6l-6.6 6.6M1427.8 1271.7l6.6 6.6m0 -6.6l-6.6 6.6M1436.9 1286.7l6.6 6.6m0 -6.6l-6.6 6.6M1441.9 1283.3l6.6 6.6m0 -6.6l-6.6 6.6M1446.9 1280l6.6 6.6m0 -6.6l-6.6 6.6M1451.9 1273.3l6.6 6.6m0 -6.6l-6.6 6.6M1458.6 1268.3l6.6 6.6m0 -6.6l-6.6 6.6M1463.6 1265l6.6 6.6m0 -6.6l-6.6 6.6M1468.6 1263.3l6.6 6.6m0 -6.6l-6.6 6.6M1473.6 1261.7l6.6 6.6m0 -6.6l-6.6 6.6M1478.6 1260l6.6 6.6m0 -6.6l-6.6 6.6M1483.6 1256.7l6.6 6.6m0 -6.6l-6.6 6.6M1488.6 1255l6.6 6.6m0 -6.6l-6.6 6.6M1492.7 1250.8l6.6 6.6m0 -6.6l-6.6 6.6M1515.2 1242.5l6.6 6.6m0 -6.6l-6.6 6.6M1523.6 1237.5l6.6 6.6m0 -6.6l-6.6 6.6M1541 1228.4l6.6 6.6m0 -6.6l-6.6 6.6M1418.6 1290l6.6 6.6m0 -6.6l-6.6 6.6M1445.3 1276.7l6.6 6.6m0 -6.6l-6.6 6.6" stroke="#9ecae1" stroke-width="3.6" stroke-linecap="round" fill="none"/><path d="M1315.3 1345l6.6 6.6m0 -6.6l-6.6 6.6M1328.7 1340l6.6 6.6m0 -6.6l-6.6 6.6M1340.3 1366.6l6.6 6.6m0 -6.6l-6.6 6.6M1365.3 1345l6.6 6.6m0 -6.6l-6.6 6.6M1367 1341.6l6.6 6.6m0 -6.6l-6.6 6.6M1398.6 1311.6l6.6 6.6m0 -6.6l-6.6 6.6M1415.3 1301.6l6.6 6.6m0 -6.6l-6.6 6.6M1420.3 1311.6l6.6 6.6m0 -6.6l-6.6 6.6M1456.9 1291.7l6.6 6.6m0 -6.6l-6.6 6.6M1463.6 1276.7l6.6 6.6m0 -6.6l-6.6 6.6M1383.6 1377.4l6.6 6.6m0 -6.6l-6.6 6.6M1378.6 1315l6.6 6.6m0 -6.6l-6.6 6.6M1287 1290l6.6 6.6m0 -6.6l-6.6 6.6" stroke="#2171b5" stroke-width="3.6" stroke-linecap="round" fill="none"/><path d="M1333.7 1336.6l6.6 6.6m0 -6.6l-6.6 6.6M1350.3 1325l6.6 6.6m0 -6.6l-6.6 6.6M1353.7 1321.6l6.6 6.6m0 -6.6l-6.6 6.6M1381.1 1308.3l6.6 6.6m0 -6.6l-6.6 6.6M1385.3 1315l6.6 6.6m0 -6.6l-6.6 6.6M1388.6 1311.6l6.6 6.6m0 -6.6l-6.6 6.6M1403.6 1300l6.6 6.6m0 -6.6l-6.6 6.6M1426.1 1288.3l6.6 6.6m0 -6.6l-6.6 6.6M1393.6 1328.3l6.6 6.6m0 -6.6l-6.6 6.6M1395.3 1310l6.6 6.6m0 -6.6l-6.6 6.6" stroke="#08306b" stroke-width="3.6" stroke-linecap="round" fill="none"/><path d="M1431.1 1294.2l6.6 6.6m0 -6.6l-6.6 6.6" stroke="#cc661e" stroke-width="3.6" stroke-linecap="round" fill="none"/><path d="M1485.8 1298l3.8 3.8m0 -3.8l-3.8 3.8" stroke="#cc661e" stroke-width="2.2" stroke-linecap="round" fill="none"/><line x1="1289.3" y1="1379.4" x2="1555.2" y2="1240.8" stroke="#cc651c" stroke-width="4.2"/></g><rect x="1289.3" y="1222.8" width="265.9" height="158.9" fill="none" stroke="#333" stroke-width="2.4"/><text x="1295.6" y="1251.5">55/179</text><text x="1383.7" y="1291.7" fill="#cc661e">Tc1</text><text x="1496.2" y="1315.8" fill="#cc661e">Tc3</text><line x1="1339.5" y1="1382.6" x2="1339.5" y2="1394.2" stroke="#333" stroke-width="3.6"/><text x="1341.5" y="1421" text-anchor="middle">0.03</text><line x1="1403.6" y1="1382.6" x2="1403.6" y2="1394.2" stroke="#333" stroke-width="3.6"/><text x="1405.6" y="1421" text-anchor="middle">0.50</text><line x1="1467.7" y1="1382.6" x2="1467.7" y2="1394.2" stroke="#333" stroke-width="3.6"/><text x="1469.7" y="1421" text-anchor="middle">8</text><line x1="1531.7" y1="1382.6" x2="1531.7" y2="1394.2" stroke="#333" stroke-width="3.6"/><text x="1533.7" y="1421" text-anchor="middle">128</text><rect x="1569.2" y="1163.8" width="266.1" height="57.2" fill="#d9d9d9" stroke="#333" stroke-width="2.4"/><text x="1703.8" y="1201" text-anchor="middle" fill="#1a1a1a">3</text><g clip-path="url(#cc5)"><path d="M1569.2 1220.7H1835.3M1569.2 1241.7H1835.3M1569.2 1262.6H1835.3M1569.2 1283.5H1835.3M1569.2 1304.5H1835.3M1569.2 1325.5H1835.3M1569.2 1346.4H1835.3M1569.2 1367.4H1835.3" stroke="#e6e6e6" stroke-width="3" fill="none"/><path d="M1587.4 1222.8V1381.7M1619.4 1222.8V1381.7M1651.5 1222.8V1381.7M1683.5 1222.8V1381.7M1715.5 1222.8V1381.7M1747.6 1222.8V1381.7M1779.6 1222.8V1381.7M1811.6 1222.8V1381.7" stroke="#e6e6e6" stroke-width="3" fill="none"/><line x1="1570.4" y1="1309.9" x2="1570.4" y2="1313.3" stroke="#ababab" stroke-width="3" stroke-dasharray="5 3"/><line x1="1570.4" y1="1338.3" x2="1570.4" y2="1358.2" stroke="#ababab" stroke-width="3" stroke-dasharray="5 3"/><path d="M1577 1362.4l6.6 6.6m0 -6.6l-6.6 6.6M1592 1350l6.6 6.6m0 -6.6l-6.6 6.6M1615.3 1345l6.6 6.6m0 -6.6l-6.6 6.6M1618.7 1358.3l6.6 6.6m0 -6.6l-6.6 6.6M1628.7 1336.6l6.6 6.6m0 -6.6l-6.6 6.6M1635.3 1331.6l6.6 6.6m0 -6.6l-6.6 6.6M1638.7 1326.6l6.6 6.6m0 -6.6l-6.6 6.6M1645.3 1345l6.6 6.6m0 -6.6l-6.6 6.6M1652 1343.3l6.6 6.6m0 -6.6l-6.6 6.6M1658.6 1338.3l6.6 6.6m0 -6.6l-6.6 6.6M1665.3 1335l6.6 6.6m0 -6.6l-6.6 6.6M1663.6 1368.3l6.6 6.6m0 -6.6l-6.6 6.6M1672 1331.6l6.6 6.6m0 -6.6l-6.6 6.6M1678.6 1328.3l6.6 6.6m0 -6.6l-6.6 6.6M1682 1335l6.6 6.6m0 -6.6l-6.6 6.6M1688.6 1325l6.6 6.6m0 -6.6l-6.6 6.6M1692 1320l6.6 6.6m0 -6.6l-6.6 6.6M1711.9 1308.3l6.6 6.6m0 -6.6l-6.6 6.6M1711.1 1321.6l6.6 6.6m0 -6.6l-6.6 6.6M1724.4 1318.3l6.6 6.6m0 -6.6l-6.6 6.6M1725.3 1326.6l6.6 6.6m0 -6.6l-6.6 6.6M1725.3 1302.5l6.6 6.6m0 -6.6l-6.6 6.6M1735.3 1314.1l6.6 6.6m0 -6.6l-6.6 6.6M1751.1 1319.1l6.6 6.6m0 -6.6l-6.6 6.6M1766.9 1311.6l6.6 6.6m0 -6.6l-6.6 6.6M1768.6 1316.6l6.6 6.6m0 -6.6l-6.6 6.6M1791.1 1291.7l6.6 6.6m0 -6.6l-6.6 6.6M1821 1287.5l6.6 6.6m0 -6.6l-6.6 6.6M1781.9 1266.7l6.6 6.6m0 -6.6l-6.6 6.6M1637 1377.4l6.6 6.6m0 -6.6l-6.6 6.6M1645.3 1377.4l6.6 6.6m0 -6.6l-6.6 6.6M1653.6 1377.4l6.6 6.6m0 -6.6l-6.6 6.6M1662 1377.4l6.6 6.6m0 -6.6l-6.6 6.6M1675.3 1377.4l6.6 6.6m0 -6.6l-6.6 6.6M1682 1377.4l6.6 6.6m0 -6.6l-6.6 6.6M1717.7 1303.9l6.6 6.6m0 -6.6l-6.6 6.6M1695.9 1313.8l6.6 6.6m0 -6.6l-6.6 6.6M1698.4 1314.3l6.6 6.6m0 -6.6l-6.6 6.6M1657.5 1337.2l6.6 6.6m0 -6.6l-6.6 6.6M1705.3 1309.4l6.6 6.6m0 -6.6l-6.6 6.6M1718.2 1302.2l6.6 6.6m0 -6.6l-6.6 6.6M1711 1302.2l6.6 6.6m0 -6.6l-6.6 6.6M1667.1 1329.7l6.6 6.6m0 -6.6l-6.6 6.6M1700.2 1311l6.6 6.6m0 -6.6l-6.6 6.6M1672.1 1324.7l6.6 6.6m0 -6.6l-6.6 6.6M1633.3 1343l6.6 6.6m0 -6.6l-6.6 6.6M1626.4 1351.7l6.6 6.6m0 -6.6l-6.6 6.6M1630 1357.1l6.6 6.6m0 -6.6l-6.6 6.6M1642.7 1342.7l6.6 6.6m0 -6.6l-6.6 6.6M1638.6 1343.6l6.6 6.6m0 -6.6l-6.6 6.6M1673.3 1326.8l6.6 6.6m0 -6.6l-6.6 6.6M1694.2 1312.2l6.6 6.6m0 -6.6l-6.6 6.6M1677.5 1323.4l6.6 6.6m0 -6.6l-6.6 6.6M1665.6 1326.8l6.6 6.6m0 -6.6l-6.6 6.6M1689 1314.7l6.6 6.6m0 -6.6l-6.6 6.6M1653.5 1336.4l6.6 6.6m0 -6.6l-6.6 6.6M1670 1327.8l6.6 6.6m0 -6.6l-6.6 6.6M1700.2 1310.9l6.6 6.6m0 -6.6l-6.6 6.6M1663.5 1327.5l6.6 6.6m0 -6.6l-6.6 6.6M1640.6 1343.2l6.6 6.6m0 -6.6l-6.6 6.6M1714.9 1299.7l6.6 6.6m0 -6.6l-6.6 6.6M1696.3 1316.1l6.6 6.6m0 -6.6l-6.6 6.6M1659.9 1330.9l6.6 6.6m0 -6.6l-6.6 6.6M1660.3 1332l6.6 6.6m0 -6.6l-6.6 6.6M1676.7 1326.4l6.6 6.6m0 -6.6l-6.6 6.6M1683.6 1321.9l6.6 6.6m0 -6.6l-6.6 6.6M1645.1 1335.1l6.6 6.6m0 -6.6l-6.6 6.6M1622.3 1350.8l6.6 6.6m0 -6.6l-6.6 6.6M1643.6 1342l6.6 6.6m0 -6.6l-6.6 6.6M1702.9 1305.9l6.6 6.6m0 -6.6l-6.6 6.6M1636.8 1335.4l6.6 6.6m0 -6.6l-6.6 6.6M1669.5 1327l6.6 6.6m0 -6.6l-6.6 6.6M1642.2 1341.2l6.6 6.6m0 -6.6l-6.6 6.6M1643.6 1342.2l6.6 6.6m0 -6.6l-6.6 6.6M1639.6 1343l6.6 6.6m0 -6.6l-6.6 6.6M1663.7 1330.7l6.6 6.6m0 -6.6l-6.6 6.6M1639.4 1343.7l6.6 6.6m0 -6.6l-6.6 6.6" stroke="#ababab" stroke-width="3.6" stroke-linecap="round" fill="none"/><path d="M1711.8 1292.3l6.6 6.6m0 -6.6l-6.6 6.6M1747.8 1266.4l6.6 6.6m0 -6.6l-6.6 6.6M1762.6 1262.2l6.6 6.6m0 -6.6l-6.6 6.6M1720.6 1284.2l6.6 6.6m0 -6.6l-6.6 6.6M1767 1264.4l6.6 6.6m0 -6.6l-6.6 6.6M1737.2 1273.7l6.6 6.6m0 -6.6l-6.6 6.6M1756.8 1265.8l6.6 6.6m0 -6.6l-6.6 6.6M1763.6 1264.7l6.6 6.6m0 -6.6l-6.6 6.6M1765 1263.5l6.6 6.6m0 -6.6l-6.6 6.6M1710.7 1296.2l6.6 6.6m0 -6.6l-6.6 6.6M1726.9 1281l6.6 6.6m0 -6.6l-6.6 6.6M1745 1276.8l6.6 6.6m0 -6.6l-6.6 6.6M1765.4 1260.5l6.6 6.6m0 -6.6l-6.6 6.6M1713.9 1291l6.6 6.6m0 -6.6l-6.6 6.6" stroke="#9ecae1" stroke-width="3.6" stroke-linecap="round" fill="none"/><path d="M1632 1318.3l6.6 6.6m0 -6.6l-6.6 6.6M1653.6 1303.3l6.6 6.6m0 -6.6l-6.6 6.6M1642 1323.3l6.6 6.6m0 -6.6l-6.6 6.6M1680.3 1295l6.6 6.6m0 -6.6l-6.6 6.6M1710.3 1270.8l6.6 6.6m0 -6.6l-6.6 6.6M1713.6 1286.7l6.6 6.6m0 -6.6l-6.6 6.6M1725.3 1281.7l6.6 6.6m0 -6.6l-6.6 6.6M1730.3 1275l6.6 6.6m0 -6.6l-6.6 6.6M1733.6 1268.3l6.6 6.6m0 -6.6l-6.6 6.6M1738.6 1271.7l6.6 6.6m0 -6.6l-6.6 6.6M1743.6 1265l6.6 6.6m0 -6.6l-6.6 6.6M1748.6 1260l6.6 6.6m0 -6.6l-6.6 6.6M1753.6 1263.3l6.6 6.6m0 -6.6l-6.6 6.6M1758.6 1261.7l6.6 6.6m0 -6.6l-6.6 6.6M1763.6 1256.7l6.6 6.6m0 -6.6l-6.6 6.6M1768.6 1255l6.6 6.6m0 -6.6l-6.6 6.6M1772.7 1251.7l6.6 6.6m0 -6.6l-6.6 6.6M1793.6 1242.5l6.6 6.6m0 -6.6l-6.6 6.6M1805.2 1237.5l6.6 6.6m0 -6.6l-6.6 6.6M1819.4 1228.4l6.6 6.6m0 -6.6l-6.6 6.6M1718.6 1285l6.6 6.6m0 -6.6l-6.6 6.6" stroke="#9ecae1" stroke-width="3.6" stroke-linecap="round" fill="none"/><path d="M1606.2 1362.4l6.6 6.6m0 -6.6l-6.6 6.6M1610.3 1345l6.6 6.6m0 -6.6l-6.6 6.6M1632.8 1350l6.6 6.6m0 -6.6l-6.6 6.6M1652 1326.6l6.6 6.6m0 -6.6l-6.6 6.6M1688.6 1295l6.6 6.6m0 -6.6l-6.6 6.6M1698.6 1310l6.6 6.6m0 -6.6l-6.6 6.6M1733.6 1288.3l6.6 6.6m0 -6.6l-6.6 6.6M1737.8 1290l6.6 6.6m0 -6.6l-6.6 6.6M1745.3 1276.7l6.6 6.6m0 -6.6l-6.6 6.6M1567 1316.6l6.6 6.6m0 -6.6l-6.6 6.6M1697 1302.5l6.6 6.6m0 -6.6l-6.6 6.6" stroke="#2171b5" stroke-width="3.6" stroke-linecap="round" fill="none"/><path d="M1629.5 1326.6l6.6 6.6m0 -6.6l-6.6 6.6M1627 1335l6.6 6.6m0 -6.6l-6.6 6.6M1658.6 1316.6l6.6 6.6m0 -6.6l-6.6 6.6M1665.3 1311.6l6.6 6.6m0 -6.6l-6.6 6.6M1672 1308.3l6.6 6.6m0 -6.6l-6.6 6.6M1678.6 1305l6.6 6.6m0 -6.6l-6.6 6.6M1685.3 1301.6l6.6 6.6m0 -6.6l-6.6 6.6M1690.3 1300l6.6 6.6m0 -6.6l-6.6 6.6M1697 1291.7l6.6 6.6m0 -6.6l-6.6 6.6M1700.3 1285.8l6.6 6.6m0 -6.6l-6.6 6.6M1649.5 1343.3l6.6 6.6m0 -6.6l-6.6 6.6" stroke="#08306b" stroke-width="3.6" stroke-linecap="round" fill="none"/><path d="M1707.8 1293.3l6.6 6.6m0 -6.6l-6.6 6.6" stroke="#cc661e" stroke-width="3.6" stroke-linecap="round" fill="none"/><path d="M1765.8 1296.4l3.8 3.8m0 -3.8l-3.8 3.8" stroke="#cc661e" stroke-width="2.2" stroke-linecap="round" fill="none"/><line x1="1569.2" y1="1379.4" x2="1835.3" y2="1240.8" stroke="#cc651c" stroke-width="4.2"/></g><rect x="1569.2" y="1222.8" width="266.1" height="158.9" fill="none" stroke="#333" stroke-width="2.4"/><text x="1575.5" y="1251.5">63/179</text><text x="1657" y="1288.3" fill="#cc661e">Tc1</text><text x="1776.2" y="1315" fill="#cc661e">Tc3</text><line x1="1619.4" y1="1382.6" x2="1619.4" y2="1394.2" stroke="#333" stroke-width="3.6"/><text x="1621.4" y="1421" text-anchor="middle">0.03</text><line x1="1683.5" y1="1382.6" x2="1683.5" y2="1394.2" stroke="#333" stroke-width="3.6"/><text x="1685.5" y="1421" text-anchor="middle">0.50</text><line x1="1747.6" y1="1382.6" x2="1747.6" y2="1394.2" stroke="#333" stroke-width="3.6"/><text x="1749.6" y="1421" text-anchor="middle">8</text><line x1="1811.6" y1="1382.6" x2="1811.6" y2="1394.2" stroke="#333" stroke-width="3.6"/><text x="1813.6" y="1421" text-anchor="middle">128</text><line x1="135.2" y1="1262.6" x2="146.4" y2="1262.6" stroke="#333" stroke-width="3.6"/><text x="123.6" y="1270.2" text-anchor="end">64</text><line x1="135.2" y1="1304.5" x2="146.4" y2="1304.5" stroke="#333" stroke-width="3.6"/><text x="126.6" y="1312.1" text-anchor="end">2</text><line x1="135.2" y1="1346.4" x2="146.4" y2="1346.4" stroke="#333" stroke-width="3.6"/><text x="128.4" y="1354" text-anchor="end">0.06</text><text transform="translate(50 1288) rotate(-90)" text-anchor="middle">log<tspan font-weight="bold" dy="-1.5">₂</tspan><tspan dy="1.5">(RPKM in IP)</tspan></text><text x="577" y="1462" text-anchor="middle">log<tspan font-weight="bold" dy="-1.5">₂</tspan><tspan dy="1.5">(RPKM in input)</tspan></text><text x="1439.2" y="1462" text-anchor="middle">log<tspan font-weight="bold" dy="-1.5">₂</tspan><tspan dy="1.5">(RPKM in input)</tspan></text><text x="1.5" y="1131.5" font-size="27" font-weight="bold">c</text><path d="M343.6 1499.3l10.4 10.4m0 -10.4l-10.4 10.4" stroke="#9ecae1" stroke-width="4.6" stroke-linecap="round" fill="none"/><text x="372.7" y="1509.3">Male only</text><path d="M557.8 1499.3l10.4 10.4m0 -10.4l-10.4 10.4" stroke="#2171b5" stroke-width="4.6" stroke-linecap="round" fill="none"/><text x="587" y="1509.3">Hermaphrodite only</text><path d="M884.3 1499.3l10.4 10.4m0 -10.4l-10.4 10.4" stroke="#08306b" stroke-width="4.6" stroke-linecap="round" fill="none"/><text x="913" y="1509.3">Male and Hermaphrodite</text><path d="M1267.5 1499.3l10.4 10.4m0 -10.4l-10.4 10.4" stroke="#ababab" stroke-width="4.6" stroke-linecap="round" fill="none"/><text x="1297" y="1509.3">Not targeted</text><path d="M1513.2 1499.3l10.4 10.4m0 -10.4l-10.4 10.4" stroke="#cc661e" stroke-width="4.6" stroke-linecap="round" fill="none"/><text x="1541.5" y="1509.3">Tc1/Tc3</text><circle cx="347.1" cy="1820.3" r="151" fill="#fbe6d9"/><circle cx="263.7" cy="1635.4" r="58.8" fill="#3f6fb5" fill-opacity="0.22" stroke="none"/><circle cx="299.5" cy="1636" r="58.4" fill="#3f5fa5" fill-opacity="0.22" stroke="none"/><circle cx="347.1" cy="1820.3" r="151" fill="none" stroke="#cd6a24" stroke-width="4.4"/><circle cx="263.7" cy="1635.4" r="58.8" fill="none" stroke="#2265ad" stroke-width="3.8"/><circle cx="299.5" cy="1636" r="58.4" fill="none" stroke="#1c3f80" stroke-width="3.8"/><text x="1.5" y="1579.5" font-size="27" font-weight="bold">d</text><text x="41" y="1591.5">WAGO-3 [<tspan font-family="DejaVu Sans" font-size="38" dy="10">⚥</tspan><tspan dy="-10">]</tspan></text><text x="345" y="1591">WAGO-3 [<tspan font-family="DejaVu Sans" font-size="38" dy="5.5">♂</tspan><tspan dy="-5.5">]</tspan></text><text x="192" y="1643.3" text-anchor="end">241</text><line x1="199" y1="1630.4" x2="215.5" y2="1630.4" stroke="#000" stroke-width="4"/><text x="281.4" y="1647.7" text-anchor="middle">356</text><text x="376" y="1625.6">188</text><line x1="335.6" y1="1631.5" x2="374.4" y2="1617.5" stroke="#000" stroke-width="4"/><text x="380" y="1664.7">45</text><line x1="315.4" y1="1681.3" x2="375.5" y2="1661.7" stroke="#000" stroke-width="4"/><text x="186.3" y="1702.3">5</text><line x1="206.5" y1="1693.8" x2="273" y2="1689.4" stroke="#000" stroke-width="4"/><text x="188" y="1740.3">5</text><line x1="205.8" y1="1727.4" x2="293.2" y2="1684.6" stroke="#000" stroke-width="4"/><text x="448" y="1696.8">CSR−1</text><text x="350.4" y="1828.8" text-anchor="middle">4,091</text><circle cx="314.4" cy="2105.7" r="91" fill="#3f6fb5" fill-opacity="0.2" stroke="none"/><circle cx="371.6" cy="2105.1" r="89.5" fill="#3f5fa5" fill-opacity="0.2" stroke="none"/><circle cx="345.4" cy="2243.6" r="162.8" fill="#55b89c" fill-opacity="0.22" stroke="none"/><circle cx="314.4" cy="2105.7" r="91" fill="none" stroke="#2265ad" stroke-width="3.8"/><circle cx="371.6" cy="2105.1" r="89.5" fill="none" stroke="#1c3f80" stroke-width="3.8"/><circle cx="345.4" cy="2243.6" r="162.8" fill="none" stroke="#1f9e78" stroke-width="4.4"/><text x="65.7" y="2037.5">WAGO-3 [<tspan font-family="DejaVu Sans" font-size="38" dy="10">⚥</tspan><tspan dy="-10">]</tspan></text><text x="435.2" y="2033">WAGO-3 [<tspan font-family="DejaVu Sans" font-size="38" dy="5.5">♂</tspan><tspan dy="-5.5">]</tspan></text><text x="260" y="2081.7" text-anchor="middle">127</text><text x="340" y="2065" text-anchor="middle">123</text><text x="425" y="2086" text-anchor="middle">116</text><text x="341.2" y="2143.3" text-anchor="middle">238</text><text x="262.6" y="2155.5" text-anchor="middle">119</text><text x="422.3" y="2155.5" text-anchor="middle">117</text><text x="352.2" y="2296.4" text-anchor="middle">1,522</text><text x="465.5" y="2380.5">MUT−16</text><path d="M835.7 2087.7H1190.6M835.7 2023.7H1190.6M835.7 1959.8H1190.6M835.7 1895.8H1190.6M835.7 1831.9H1190.6M835.7 1767.9H1190.6M835.7 1704H1190.6M835.7 1640H1190.6M835.7 1576.1H1190.6" stroke="#e6e6e6" stroke-width="3.3" fill="none"/><rect x="852" y="2085.4" width="100.4" height="2.3" fill="#08306b"/><rect x="852" y="2059.6" width="100.4" height="26.1" fill="#08519c"/><rect x="852" y="1723.3" width="100.4" height="336.6" fill="#2171b5"/><rect x="852" y="1576.1" width="100.4" height="147.5" fill="#4292c6"/><rect x="963" y="2048.6" width="100.4" height="39.1" fill="#08306b"/><rect x="963" y="2012.8" width="100.4" height="36.1" fill="#08519c"/><rect x="963" y="1616.7" width="100.4" height="396.4" fill="#2171b5"/><rect x="963" y="1576.1" width="100.4" height="40.9" fill="#4292c6"/><rect x="1074" y="2050.4" width="100.4" height="37.3" fill="#08306b"/><rect x="1074" y="2028.4" width="100.4" height="22.3" fill="#08519c"/><rect x="1074" y="1627.1" width="100.4" height="401.6" fill="#2171b5"/><rect x="1074" y="1576.1" width="100.4" height="51.3" fill="#4292c6"/><text x="828" y="2096.5" text-anchor="end">0.00</text><text x="828" y="1971.5" text-anchor="end">0.25</text><text x="828" y="1838.8" text-anchor="end">0.50</text><text x="828" y="1712.4" text-anchor="end">0.75</text><text x="828" y="1587.5" text-anchor="end">1.00</text><text x="717.5" y="1580" font-size="27" font-weight="bold">e</text><text x="902.2" y="1661" text-anchor="middle" fill="#fff">8,990</text><text x="902.2" y="1873.8" text-anchor="middle" fill="#fff">20,447</text><text x="902.2" y="2081" text-anchor="middle" fill="#fff">1,590</text><text x="1011.5" y="1608.2" text-anchor="middle" fill="#fff">62</text><text x="1011.3" y="1831.4" text-anchor="middle" fill="#fff">607</text><text x="1009.7" y="2040" text-anchor="middle" fill="#fff">55</text><text x="1009.5" y="2081" text-anchor="middle" fill="#fff">61</text><text x="1121" y="1608.2" text-anchor="middle" fill="#fff">74</text><text x="1122" y="1839.5" text-anchor="middle" fill="#fff">594</text><text x="1119.6" y="2046.7" text-anchor="middle" fill="#fff">32</text><text x="1119.5" y="2081" text-anchor="middle" fill="#fff">57</text><line x1="882.6" y1="2085.5" x2="830.2" y2="2132.7" stroke="#000" stroke-width="4"/><text x="826.5" y="2143.4" text-anchor="end">179</text><text transform="translate(920.2 2117) rotate(-45)" text-anchor="end">Annotation</text><text transform="translate(1031.2 2117) rotate(-45)" text-anchor="end">WAGO-3 [<tspan font-family="DejaVu Sans" font-size="38" dy="10">⚥</tspan><tspan dy="-10">]</tspan></text><text transform="translate(1142.2 2117) rotate(-45)" text-anchor="end">WAGO-3 [<tspan font-family="DejaVu Sans" font-size="38" dy="5.5">♂</tspan><tspan dy="-5.5">]</tspan></text><rect x="717.3" y="2277.3" width="41.6" height="41.3" fill="#4292c6"/><text x="775" y="2305.1">ncRNA</text><rect x="717.3" y="2333.7" width="41.6" height="41.3" fill="#2171b5"/><text x="775" y="2361.5">Protein-coding</text><rect x="1000" y="2277.3" width="41.6" height="41.3" fill="#08519c"/><text x="1058" y="2305.1">Pseudogenes</text><rect x="1000" y="2333.7" width="41.6" height="41.3" fill="#08306b"/><text x="1058" y="2361.5">Transposon</text><path d="M1571.5 1703.6H1741M1571.5 1767.3H1741M1571.5 1831.1H1741M1571.5 1894.8H1741M1571.5 1958.6H1741M1571.5 2022.3H1741M1571.5 2086.1H1741M1571.5 2149.8H1741M1571.5 2213.6H1741" stroke="#e6e6e6" stroke-width="2.4" fill="none"/><path d="M1617.6 1656.5V2253.5M1694.9 1656.5V2253.5" stroke="#e6e6e6" stroke-width="2.4" fill="none"/><rect x="1578.9" y="1663.9" width="77.6" height="71.9" fill="#0a3170"/><rect x="1656.2" y="1663.9" width="77.4" height="71.9" fill="#535c94"/><text x="1617.6" y="1713.6" text-anchor="middle" fill="#fff">0.80</text><text x="1694.9" y="1713.6" text-anchor="middle" fill="#fff">0.60</text><text x="1566.5" y="1713.6" text-anchor="end">10</text><rect x="1578.9" y="1735.4" width="77.6" height="64.1" fill="#4d5791"/><rect x="1656.2" y="1735.4" width="77.4" height="64.1" fill="#7073a3"/><text x="1617.6" y="1777.3" text-anchor="middle" fill="#fff">0.62</text><text x="1694.9" y="1777.3" text-anchor="middle" fill="#fff">0.50</text><text x="1566.5" y="1777.3" text-anchor="end">50</text><rect x="1578.9" y="1799.2" width="77.6" height="64.1" fill="#7678a7"/><rect x="1656.2" y="1799.2" width="77.4" height="64.1" fill="#8988b2"/><text x="1617.6" y="1841.1" text-anchor="middle" fill="#fff">0.48</text><text x="1694.9" y="1841.1" text-anchor="middle" fill="#fff">0.42</text><text x="1566.5" y="1841.1" text-anchor="end">100</text><rect x="1578.9" y="1862.9" width="77.6" height="64.1" fill="#8282ae"/><rect x="1656.2" y="1862.9" width="77.4" height="64.1" fill="#8585b0"/><text x="1617.6" y="1904.8" text-anchor="middle" fill="#fff">0.44</text><text x="1694.9" y="1904.8" text-anchor="middle" fill="#fff">0.43</text><text x="1566.5" y="1904.8" text-anchor="end">200</text><rect x="1578.9" y="1926.7" width="77.6" height="64.1" fill="#9694ba"/><rect x="1656.2" y="1926.7" width="77.4" height="64.1" fill="#9694ba"/><text x="1617.6" y="1968.6" text-anchor="middle" fill="#fff">0.38</text><text x="1694.9" y="1968.6" text-anchor="middle" fill="#fff">0.38</text><text x="1566.5" y="1968.6" text-anchor="end">300</text><rect x="1578.9" y="1990.4" width="77.6" height="64.1" fill="#a39fc1"/><rect x="1656.2" y="1990.4" width="77.4" height="64.1" fill="#9f9dbf"/><text x="1617.6" y="2032.3" text-anchor="middle" fill="#fff">0.34</text><text x="1694.9" y="2032.3" text-anchor="middle" fill="#fff">0.35</text><text x="1566.5" y="2032.3" text-anchor="end">400</text><rect x="1578.9" y="2054.2" width="77.6" height="64.1" fill="#aca8c6"/><rect x="1656.2" y="2054.2" width="77.4" height="64.1" fill="#aca8c6"/><text x="1617.6" y="2096.1" text-anchor="middle" fill="#fff">0.31</text><text x="1694.9" y="2096.1" text-anchor="middle" fill="#fff">0.31</text><text x="1566.5" y="2096.1" text-anchor="end">500</text><rect x="1578.9" y="2117.9" width="77.6" height="64.1" fill="#c4c0d4"/><rect x="1656.2" y="2117.9" width="77.4" height="64.1" fill="#c4c0d4"/><text x="1617.6" y="2159.8" text-anchor="middle" fill="#fff">0.23</text><text x="1694.9" y="2159.8" text-anchor="middle" fill="#fff">0.23</text><text x="1566.5" y="2159.8" text-anchor="end">1,000</text><rect x="1578.9" y="2181.7" width="77.6" height="64.1" fill="#fdf0e8"/><rect x="1656.2" y="2181.7" width="77.4" height="64.1" fill="#fdf0e8"/><text x="1617.6" y="2223.6" text-anchor="middle" fill="#123468">0.03</text><text x="1694.9" y="2223.6" text-anchor="middle" fill="#123468">0.03</text><text x="1457.5" y="2201.5" text-anchor="middle">Annotated genes</text><text x="1458" y="2238" text-anchor="middle">(n = 20,447)</text><line x1="1482.6" y1="1692.5" x2="1482.6" y2="2138" stroke="#000" stroke-width="4"/><text transform="translate(1423.2 1916.4) rotate(-90)" text-anchor="middle">#Top sperm−derived</text><text transform="translate(1458.2 1916) rotate(-90)" text-anchor="middle">22G RNA target genes</text><text transform="translate(1604 1651) rotate(-25)">WAGO-3 [<tspan font-family="DejaVu Sans" font-size="38" dy="10">⚥</tspan><tspan dy="-10">]</tspan></text><text transform="translate(1687 1649) rotate(-25)">WAGO-3 [<tspan font-family="DejaVu Sans" font-size="38" dy="5.5">♂</tspan><tspan dy="-5.5">]</tspan></text><text x="1347.5" y="1579.7" font-size="27" font-weight="bold">f</text><defs><linearGradient id="cb" x1="0" y1="1" x2="0" y2="0"><stop offset="0.000" stop-color="#fdf0e8"/><stop offset="0.260" stop-color="#c4c0d4"/><stop offset="0.364" stop-color="#aca8c6"/><stop offset="0.455" stop-color="#9694ba"/><stop offset="0.532" stop-color="#8282ae"/><stop offset="0.610" stop-color="#7073a3"/><stop offset="0.766" stop-color="#4d5791"/><stop offset="1.000" stop-color="#0a3170"/></linearGradient></defs><rect x="1766" y="2006" width="42.2" height="231.7" fill="url(#cb)"/><line x1="1766" y1="2185.7" x2="1774.5" y2="2185.7" stroke="#000" stroke-width="4"/><line x1="1799.7" y1="2185.7" x2="1808.2" y2="2185.7" stroke="#000" stroke-width="4"/><text x="1812.3" y="2192.3">0.2</text><line x1="1766" y1="2125.9" x2="1774.5" y2="2125.9" stroke="#000" stroke-width="4"/><line x1="1799.7" y1="2125.9" x2="1808.2" y2="2125.9" stroke="#000" stroke-width="4"/><text x="1812.3" y="2132.5">0.4</text><line x1="1766" y1="2066" x2="1774.5" y2="2066" stroke="#000" stroke-width="4"/><line x1="1799.7" y1="2066" x2="1808.2" y2="2066" stroke="#000" stroke-width="4"/><text x="1812.3" y="2072.6">0.6</text><line x1="1766" y1="2006.2" x2="1774.5" y2="2006.2" stroke="#000" stroke-width="4"/><line x1="1799.7" y1="2006.2" x2="1808.2" y2="2006.2" stroke="#000" stroke-width="4"/><text x="1812.3" y="2012.8">0.8</text></svg></body></html>
